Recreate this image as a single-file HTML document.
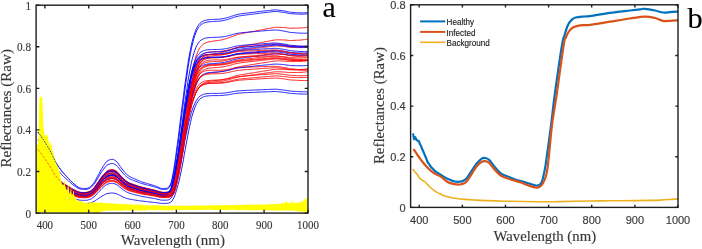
<!DOCTYPE html><html><head><meta charset="utf-8"><style>html,body{margin:0;padding:0;background:#fff;width:702px;height:249px;overflow:hidden}svg{display:block;will-change:transform}</style></head><body>
<svg width="702" height="249" viewBox="0 0 702 249">
<defs><clipPath id="ca"><rect x="36.1" y="5.2" width="271.9" height="207.9"/></clipPath>
<clipPath id="cb"><rect x="410.6" y="4.8" width="267.4" height="202.6"/></clipPath></defs>
<g clip-path="url(#ca)" fill="none" stroke-width="0.9" stroke-linejoin="round">
<path d="M37.9 149.6L38.7 150.6L39.6 151.7L40.5 152.7L41.4 153.8L42.2 155.0L43.1 156.2L44.0 157.4L44.9 158.7L45.7 160.0L46.6 161.3L47.5 162.6L48.4 164.0L49.3 165.3L50.1 166.7L51.0 168.2L51.9 169.6L52.8 171.2L53.6 172.7L54.5 174.1L55.4 175.4L56.3 176.7L57.2 177.8L58.0 178.8L58.9 179.7L59.8 180.6L60.7 181.4L61.5 182.1L62.4 182.8L63.3 183.4L64.2 184.0L65.0 184.6L65.9 185.1L66.8 185.6L67.7 186.1L68.6 186.7L69.4 187.2L70.3 187.8L71.2 188.3L72.1 188.8L72.9 189.3L73.8 189.8L74.7 190.2L75.6 190.6L76.4 191.0L77.3 191.4L78.2 191.8L79.1 192.1L80.0 192.3L80.8 192.4L81.7 192.5L82.6 192.5L83.5 192.5L84.3 192.5L85.2 192.5L86.1 192.4L87.0 192.3L87.8 192.1L88.7 191.8L89.6 191.4L90.5 191.0L91.4 190.4L92.2 189.7L93.1 188.9L94.0 187.9L94.9 186.8L95.7 185.6L96.6 184.3L97.5 183.0L98.4 181.7L99.3 180.5L100.1 179.2L101.0 177.9L101.9 176.7L102.8 175.6L103.6 174.6L104.5 173.6L105.4 172.6L106.3 171.8L107.1 171.1L108.0 170.6L108.9 170.3L109.8 170.1L110.7 169.9L111.5 169.7L112.4 169.7L113.3 169.8L114.2 170.1L115.0 170.6L115.9 171.1L116.8 171.6L117.7 172.4L118.5 173.3L119.4 174.4L120.3 175.4L121.2 176.3L122.1 177.2L122.9 178.1L123.8 178.9L124.7 179.8L125.6 180.5L126.4 181.2L127.3 181.8L128.2 182.3L129.1 182.8L129.9 183.2L130.8 183.6L131.7 183.9L132.6 184.2L133.5 184.5L134.3 184.8L135.2 185.1L136.1 185.4L137.0 185.7L137.8 186.0L138.7 186.3L139.6 186.6L140.5 186.8L141.4 187.1L142.2 187.3L143.1 187.6L144.0 187.8L144.9 188.0L145.7 188.2L146.6 188.4L147.5 188.6L148.4 188.8L149.2 189.0L150.1 189.2L151.0 189.4L151.9 189.6L152.8 189.8L153.6 190.0L154.5 190.2L155.4 190.4L156.3 190.7L157.1 190.9L158.0 191.3L158.9 191.6L159.8 191.8L160.6 192.0L161.5 192.2L162.4 192.3L163.3 192.4L164.2 192.4L165.0 192.4L165.9 192.4L166.8 192.3L167.7 192.2L168.5 192.1L169.4 192.0L170.3 191.8L171.2 191.3L172.0 190.5L172.9 189.2L173.8 187.3L174.7 184.3L175.6 180.6L176.4 176.6L177.3 171.7L178.2 166.7L179.1 161.7L179.9 156.4L180.8 151.0L181.7 145.5L182.6 139.7L183.5 133.8L184.3 127.9L185.2 122.0L186.1 116.2L187.0 110.5L187.8 105.0L188.7 99.6L189.6 94.5L190.5 89.6L191.3 85.0L192.2 80.7L193.1 76.9L194.0 73.3L194.9 70.2L195.7 67.3L196.6 64.8L197.5 62.5L198.4 60.6L199.2 58.9L200.1 57.5L201.0 56.4L201.9 55.4L202.7 54.7L203.6 54.0L204.5 53.5L205.4 53.1L206.3 52.7L207.1 52.5L208.0 52.3L208.9 52.1L209.8 52.0L210.6 51.9L211.5 51.8L212.4 51.7L213.3 51.7L214.2 51.6L215.0 51.6L215.9 51.6L216.8 51.5L217.7 51.5L218.5 51.4L219.4 51.4L220.3 51.3L221.2 51.3L222.0 51.2L222.9 51.0L223.8 50.9L224.7 50.7L225.6 50.5L226.4 50.4L227.3 50.2L228.2 50.0L229.1 49.8L229.9 49.5L230.8 49.3L231.7 49.0L232.6 48.8L233.4 48.5L234.3 48.3L235.2 48.0L236.1 47.8L237.0 47.7L237.8 47.5L238.7 47.4L239.6 47.2L240.5 47.1L241.3 47.0L242.2 46.9L243.1 46.8L244.0 46.7L244.8 46.6L245.7 46.5L246.6 46.4L247.5 46.3L248.4 46.3L249.2 46.2L250.1 46.1L251.0 46.0L251.9 45.9L252.7 45.9L253.6 45.8L254.5 45.7L255.4 45.6L256.3 45.5L257.1 45.4L258.0 45.3L258.9 45.3L259.8 45.2L260.6 45.1L261.5 45.0L262.4 44.9L263.3 44.9L264.1 44.8L265.0 44.7L265.9 44.6L266.8 44.5L267.7 44.5L268.5 44.4L269.4 44.3L270.3 44.2L271.2 44.1L272.0 44.0L272.9 44.0L273.8 43.9L274.7 43.9L275.5 43.9L276.4 43.9L277.3 43.9L278.2 44.0L279.1 44.1L279.9 44.2L280.8 44.3L281.7 44.4L282.6 44.5L283.4 44.6L284.3 44.7L285.2 44.9L286.1 45.0L286.9 45.2L287.8 45.4L288.7 45.6L289.6 45.7L290.5 45.9L291.3 45.9L292.2 45.9L293.1 46.0L294.0 46.0L294.8 46.1L295.7 46.2L296.6 46.2L297.5 46.3L298.4 46.3L299.2 46.3L300.1 46.4L301.0 46.4L301.9 46.4L302.7 46.4L303.6 46.4L304.5 46.4L305.4 46.3L306.2 46.3L307.1 46.2L308.0 46.2" stroke="#ff0000"/>
<path d="M37.9 162.8L38.7 163.6L39.6 164.4L40.5 165.2L41.4 166.1L42.2 167.0L43.1 167.9L44.0 168.9L44.9 169.9L45.7 170.9L46.6 171.9L47.5 173.0L48.4 174.1L49.3 175.1L50.1 176.2L51.0 177.3L51.9 178.5L52.8 179.7L53.6 180.9L54.5 182.0L55.4 183.0L56.3 184.0L57.2 184.9L58.0 185.7L58.9 186.4L59.8 187.1L60.7 187.7L61.5 188.3L62.4 188.9L63.3 189.3L64.2 189.8L65.0 190.2L65.9 190.7L66.8 191.1L67.7 191.5L68.6 191.9L69.4 192.3L70.3 192.7L71.2 193.2L72.1 193.6L72.9 194.0L73.8 194.3L74.7 194.7L75.6 195.0L76.4 195.3L77.3 195.6L78.2 195.9L79.1 196.1L80.0 196.3L80.8 196.4L81.7 196.4L82.6 196.5L83.5 196.5L84.3 196.5L85.2 196.5L86.1 196.4L87.0 196.3L87.8 196.2L88.7 195.9L89.6 195.6L90.5 195.3L91.4 194.8L92.2 194.3L93.1 193.6L94.0 192.9L94.9 192.0L95.7 191.1L96.6 190.0L97.5 189.0L98.4 188.0L99.3 187.0L100.1 186.0L101.0 185.0L101.9 184.1L102.8 183.2L103.6 182.4L104.5 181.6L105.4 180.9L106.3 180.2L107.1 179.6L108.0 179.2L108.9 179.0L109.8 178.8L110.7 178.7L111.5 178.6L112.4 178.5L113.3 178.6L114.2 178.9L115.0 179.2L115.9 179.6L116.8 180.1L117.7 180.7L118.5 181.4L119.4 182.2L120.3 183.0L121.2 183.8L122.1 184.4L122.9 185.1L123.8 185.8L124.7 186.5L125.6 187.1L126.4 187.6L127.3 188.1L128.2 188.5L129.1 188.9L129.9 189.2L130.8 189.5L131.7 189.7L132.6 189.9L133.5 190.2L134.3 190.4L135.2 190.7L136.1 190.9L137.0 191.1L137.8 191.4L138.7 191.6L139.6 191.8L140.5 192.0L141.4 192.2L142.2 192.4L143.1 192.6L144.0 192.7L144.9 192.9L145.7 193.1L146.6 193.2L147.5 193.4L148.4 193.5L149.2 193.7L150.1 193.9L151.0 194.0L151.9 194.2L152.8 194.3L153.6 194.5L154.5 194.7L155.4 194.8L156.3 195.0L157.1 195.2L158.0 195.5L158.9 195.7L159.8 195.9L160.6 196.1L161.5 196.2L162.4 196.3L163.3 196.4L164.2 196.4L165.0 196.4L165.9 196.3L166.8 196.3L167.7 196.2L168.5 196.2L169.4 196.1L170.3 196.0L171.2 195.6L172.0 195.1L172.9 194.0L173.8 192.7L174.7 190.5L175.6 187.6L176.4 184.4L177.3 180.4L178.2 176.2L179.1 171.9L179.9 167.3L180.8 162.4L181.7 157.3L182.6 151.9L183.5 146.2L184.3 140.3L185.2 134.3L186.1 128.3L187.0 122.3L187.8 116.4L188.7 110.6L189.6 104.9L190.5 99.5L191.3 94.3L192.2 89.5L193.1 85.1L194.0 81.2L194.9 77.6L195.7 74.4L196.6 71.5L197.5 69.0L198.4 66.8L199.2 64.9L200.1 63.4L201.0 62.1L201.9 61.0L202.7 60.2L203.6 59.5L204.5 58.9L205.4 58.5L206.3 58.1L207.1 57.9L208.0 57.7L208.9 57.5L209.8 57.4L210.6 57.4L211.5 57.3L212.4 57.3L213.3 57.3L214.2 57.3L215.0 57.3L215.9 57.3L216.8 57.3L217.7 57.3L218.5 57.3L219.4 57.3L220.3 57.3L221.2 57.3L222.0 57.2L222.9 57.1L223.8 57.0L224.7 56.9L225.6 56.8L226.4 56.7L227.3 56.5L228.2 56.4L229.1 56.2L229.9 56.0L230.8 55.9L231.7 55.7L232.6 55.5L233.4 55.3L234.3 55.1L235.2 54.9L236.1 54.7L237.0 54.6L237.8 54.5L238.7 54.4L239.6 54.4L240.5 54.3L241.3 54.2L242.2 54.2L243.1 54.1L244.0 54.1L244.8 54.0L245.7 54.0L246.6 53.9L247.5 53.9L248.4 53.9L249.2 53.8L250.1 53.8L251.0 53.8L251.9 53.8L252.7 53.7L253.6 53.7L254.5 53.7L255.4 53.6L256.3 53.6L257.1 53.6L258.0 53.5L258.9 53.5L259.8 53.5L260.6 53.4L261.5 53.4L262.4 53.4L263.3 53.3L264.1 53.3L265.0 53.3L265.9 53.3L266.8 53.2L267.7 53.2L268.5 53.2L269.4 53.2L270.3 53.1L271.2 53.1L272.0 53.0L272.9 53.0L273.8 53.0L274.7 53.0L275.5 53.1L276.4 53.1L277.3 53.2L278.2 53.3L279.1 53.5L279.9 53.6L280.8 53.8L281.7 53.9L282.6 54.1L283.4 54.2L284.3 54.4L285.2 54.5L286.1 54.7L286.9 55.0L287.8 55.2L288.7 55.4L289.6 55.6L290.5 55.7L291.3 55.9L292.2 55.9L293.1 56.0L294.0 56.1L294.8 56.2L295.7 56.3L296.6 56.4L297.5 56.5L298.4 56.6L299.2 56.7L300.1 56.7L301.0 56.8L301.9 56.9L302.7 56.9L303.6 56.9L304.5 57.0L305.4 57.0L306.2 57.0L307.1 57.0L308.0 57.0" stroke="#ff0000"/>
<path d="M37.9 151.2L38.7 152.2L39.6 153.2L40.5 154.3L41.4 155.3L42.2 156.5L43.1 157.6L44.0 158.8L44.9 160.0L45.7 161.3L46.6 162.6L47.5 163.9L48.4 165.2L49.3 166.5L50.1 167.9L51.0 169.3L51.9 170.7L52.8 172.2L53.6 173.7L54.5 175.1L55.4 176.3L56.3 177.6L57.2 178.6L58.0 179.6L58.9 180.5L59.8 181.4L60.7 182.2L61.5 182.9L62.4 183.6L63.3 184.2L64.2 184.7L65.0 185.3L65.9 185.8L66.8 186.3L67.7 186.8L68.6 187.3L69.4 187.8L70.3 188.4L71.2 188.9L72.1 189.4L72.9 189.9L73.8 190.3L74.7 190.7L75.6 191.2L76.4 191.6L77.3 192.0L78.2 192.3L79.1 192.6L80.0 192.8L80.8 192.9L81.7 192.9L82.6 193.0L83.5 193.0L84.3 193.0L85.2 193.0L86.1 192.9L87.0 192.8L87.8 192.6L88.7 192.3L89.6 192.0L90.5 191.5L91.4 191.0L92.2 190.3L93.1 189.4L94.0 188.5L94.9 187.5L95.7 186.3L96.6 185.0L97.5 183.7L98.4 182.5L99.3 181.3L100.1 180.0L101.0 178.8L101.9 177.6L102.8 176.5L103.6 175.6L104.5 174.6L105.4 173.6L106.3 172.8L107.1 172.1L108.0 171.6L108.9 171.4L109.8 171.1L110.7 171.0L111.5 170.8L112.4 170.8L113.3 170.9L114.2 171.2L115.0 171.6L115.9 172.1L116.8 172.6L117.7 173.4L118.5 174.3L119.4 175.3L120.3 176.3L121.2 177.2L122.1 178.1L122.9 178.9L123.8 179.8L124.7 180.6L125.6 181.3L126.4 182.0L127.3 182.6L128.2 183.1L129.1 183.6L129.9 183.9L130.8 184.3L131.7 184.6L132.6 184.9L133.5 185.2L134.3 185.5L135.2 185.8L136.1 186.1L137.0 186.4L137.8 186.7L138.7 186.9L139.6 187.2L140.5 187.5L141.4 187.7L142.2 188.0L143.1 188.2L144.0 188.4L144.9 188.6L145.7 188.8L146.6 189.0L147.5 189.2L148.4 189.4L149.2 189.6L150.1 189.8L151.0 190.0L151.9 190.2L152.8 190.4L153.6 190.6L154.5 190.8L155.4 191.0L156.3 191.2L157.1 191.5L158.0 191.8L158.9 192.1L159.8 192.3L160.6 192.5L161.5 192.7L162.4 192.8L163.3 192.9L164.2 192.9L165.0 192.9L165.9 192.8L166.8 192.8L167.7 192.7L168.5 192.6L169.4 192.5L170.3 192.1L171.2 191.4L172.0 190.5L172.9 189.1L173.8 186.7L174.7 183.3L175.6 179.7L176.4 175.4L177.3 170.7L178.2 165.9L179.1 161.1L179.9 156.1L180.8 151.0L181.7 145.8L182.6 140.4L183.5 135.0L184.3 129.6L185.2 124.4L186.1 119.3L187.0 114.3L187.8 109.5L188.7 104.8L189.6 100.4L190.5 96.2L191.3 92.3L192.2 88.7L193.1 85.5L194.0 82.5L194.9 79.9L195.7 77.5L196.6 75.4L197.5 73.6L198.4 72.0L199.2 70.6L200.1 69.5L201.0 68.6L201.9 67.9L202.7 67.2L203.6 66.7L204.5 66.3L205.4 66.0L206.3 65.7L207.1 65.5L208.0 65.3L208.9 65.2L209.8 65.1L210.6 65.0L211.5 65.0L212.4 64.9L213.3 64.9L214.2 64.8L215.0 64.8L215.9 64.8L216.8 64.7L217.7 64.7L218.5 64.6L219.4 64.6L220.3 64.5L221.2 64.5L222.0 64.4L222.9 64.3L223.8 64.1L224.7 64.0L225.6 63.8L226.4 63.6L227.3 63.5L228.2 63.3L229.1 63.1L229.9 62.9L230.8 62.6L231.7 62.4L232.6 62.2L233.4 61.9L234.3 61.7L235.2 61.5L236.1 61.3L237.0 61.1L237.8 61.0L238.7 60.9L239.6 60.8L240.5 60.6L241.3 60.5L242.2 60.4L243.1 60.3L244.0 60.2L244.8 60.2L245.7 60.1L246.6 60.0L247.5 59.9L248.4 59.8L249.2 59.8L250.1 59.7L251.0 59.6L251.9 59.5L252.7 59.5L253.6 59.4L254.5 59.3L255.4 59.2L256.3 59.1L257.1 59.1L258.0 59.0L258.9 58.9L259.8 58.8L260.6 58.8L261.5 58.7L262.4 58.6L263.3 58.5L264.1 58.5L265.0 58.4L265.9 58.3L266.8 58.2L267.7 58.2L268.5 58.1L269.4 58.0L270.3 57.9L271.2 57.8L272.0 57.8L272.9 57.7L273.8 57.7L274.7 57.6L275.5 57.6L276.4 57.6L277.3 57.7L278.2 57.7L279.1 57.8L279.9 57.9L280.8 58.0L281.7 58.1L282.6 58.2L283.4 58.3L284.3 58.4L285.2 58.5L286.1 58.7L286.9 58.8L287.8 59.0L288.7 59.2L289.6 59.3L290.5 59.4L291.3 59.5L292.2 59.5L293.1 59.5L294.0 59.6L294.8 59.6L295.7 59.7L296.6 59.7L297.5 59.8L298.4 59.8L299.2 59.8L300.1 59.9L301.0 59.9L301.9 59.9L302.7 59.9L303.6 59.9L304.5 59.8L305.4 59.8L306.2 59.8L307.1 59.7L308.0 59.7" stroke="#ff0000"/>
<path d="M37.9 152.0L38.7 152.9L39.6 153.9L40.5 155.0L41.4 156.0L42.2 157.1L43.1 158.2L44.0 159.4L44.9 160.7L45.7 161.9L46.6 163.2L47.5 164.5L48.4 165.8L49.3 167.1L50.1 168.4L51.0 169.8L51.9 171.2L52.8 172.7L53.6 174.2L54.5 175.5L55.4 176.8L56.3 178.0L57.2 179.0L58.0 180.0L58.9 180.9L59.8 181.7L60.7 182.5L61.5 183.2L62.4 183.9L63.3 184.5L64.2 185.0L65.0 185.6L65.9 186.1L66.8 186.6L67.7 187.1L68.6 187.6L69.4 188.1L70.3 188.6L71.2 189.2L72.1 189.7L72.9 190.1L73.8 190.6L74.7 191.0L75.6 191.4L76.4 191.8L77.3 192.2L78.2 192.5L79.1 192.8L80.0 193.0L80.8 193.1L81.7 193.2L82.6 193.2L83.5 193.2L84.3 193.2L85.2 193.2L86.1 193.1L87.0 193.1L87.8 192.9L88.7 192.6L89.6 192.2L90.5 191.8L91.4 191.2L92.2 190.5L93.1 189.7L94.0 188.8L94.9 187.8L95.7 186.6L96.6 185.3L97.5 184.1L98.4 182.8L99.3 181.7L100.1 180.4L101.0 179.2L101.9 178.0L102.8 177.0L103.6 176.0L104.5 175.0L105.4 174.1L106.3 173.3L107.1 172.6L108.0 172.1L108.9 171.8L109.8 171.6L110.7 171.4L111.5 171.3L112.4 171.3L113.3 171.4L114.2 171.7L115.0 172.1L115.9 172.6L116.8 173.1L117.7 173.9L118.5 174.8L119.4 175.7L120.3 176.7L121.2 177.6L122.1 178.5L122.9 179.3L123.8 180.2L124.7 181.0L125.6 181.7L126.4 182.3L127.3 182.9L128.2 183.4L129.1 183.9L129.9 184.3L130.8 184.6L131.7 184.9L132.6 185.2L133.5 185.5L134.3 185.8L135.2 186.1L136.1 186.4L137.0 186.7L137.8 187.0L138.7 187.2L139.6 187.5L140.5 187.8L141.4 188.0L142.2 188.2L143.1 188.4L144.0 188.7L144.9 188.8L145.7 189.0L146.6 189.2L147.5 189.4L148.4 189.6L149.2 189.8L150.1 190.0L151.0 190.2L151.9 190.4L152.8 190.6L153.6 190.8L154.5 191.0L155.4 191.2L156.3 191.4L157.1 191.7L158.0 192.0L158.9 192.3L159.8 192.6L160.6 192.8L161.5 192.9L162.4 193.1L163.3 193.1L164.2 193.1L165.0 193.1L165.9 193.1L166.8 193.0L167.7 192.9L168.5 192.8L169.4 192.5L170.3 191.9L171.2 191.1L172.0 190.0L172.9 188.1L173.8 185.1L174.7 181.6L175.6 177.9L176.4 173.4L177.3 168.9L178.2 164.3L179.1 159.7L179.9 155.1L180.8 150.4L181.7 145.6L182.6 140.8L183.5 136.0L184.3 131.5L185.2 127.1L186.1 122.8L187.0 118.7L187.8 114.7L188.7 111.0L189.6 107.4L190.5 104.1L191.3 101.1L192.2 98.3L193.1 95.8L194.0 93.5L194.9 91.5L195.7 89.7L196.6 88.0L197.5 86.6L198.4 85.4L199.2 84.4L200.1 83.6L201.0 82.9L201.9 82.4L202.7 81.9L203.6 81.6L204.5 81.3L205.4 81.0L206.3 80.8L207.1 80.7L208.0 80.6L208.9 80.5L209.8 80.4L210.6 80.3L211.5 80.3L212.4 80.2L213.3 80.2L214.2 80.2L215.0 80.1L215.9 80.1L216.8 80.1L217.7 80.1L218.5 80.0L219.4 80.0L220.3 79.9L221.2 79.9L222.0 79.8L222.9 79.7L223.8 79.5L224.7 79.4L225.6 79.3L226.4 79.1L227.3 79.0L228.2 78.8L229.1 78.6L229.9 78.4L230.8 78.2L231.7 78.0L232.6 77.8L233.4 77.6L234.3 77.4L235.2 77.2L236.1 77.0L237.0 76.9L237.8 76.8L238.7 76.6L239.6 76.5L240.5 76.4L241.3 76.3L242.2 76.3L243.1 76.2L244.0 76.1L244.8 76.0L245.7 75.9L246.6 75.9L247.5 75.8L248.4 75.7L249.2 75.6L250.1 75.6L251.0 75.5L251.9 75.4L252.7 75.4L253.6 75.3L254.5 75.2L255.4 75.2L256.3 75.1L257.1 75.0L258.0 75.0L258.9 74.9L259.8 74.8L260.6 74.7L261.5 74.7L262.4 74.6L263.3 74.5L264.1 74.5L265.0 74.4L265.9 74.3L266.8 74.3L267.7 74.2L268.5 74.1L269.4 74.1L270.3 74.0L271.2 73.9L272.0 73.8L272.9 73.8L273.8 73.8L274.7 73.7L275.5 73.7L276.4 73.7L277.3 73.8L278.2 73.8L279.1 73.9L279.9 74.0L280.8 74.1L281.7 74.2L282.6 74.2L283.4 74.3L284.3 74.4L285.2 74.5L286.1 74.7L286.9 74.8L287.8 75.0L288.7 75.1L289.6 75.2L290.5 75.3L291.3 75.4L292.2 75.4L293.1 75.4L294.0 75.5L294.8 75.5L295.7 75.6L296.6 75.6L297.5 75.6L298.4 75.7L299.2 75.7L300.1 75.7L301.0 75.7L301.9 75.8L302.7 75.8L303.6 75.7L304.5 75.7L305.4 75.7L306.2 75.6L307.1 75.6L308.0 75.6" stroke="#ff0000"/>
<path d="M37.9 165.3L38.7 166.0L39.6 166.8L40.5 167.6L41.4 168.4L42.2 169.3L43.1 170.2L44.0 171.1L44.9 172.0L45.7 173.0L46.6 174.0L47.5 175.0L48.4 176.0L49.3 177.0L50.1 178.0L51.0 179.1L51.9 180.2L52.8 181.4L53.6 182.5L54.5 183.5L55.4 184.5L56.3 185.4L57.2 186.3L58.0 187.0L58.9 187.7L59.8 188.3L60.7 188.9L61.5 189.5L62.4 190.0L63.3 190.5L64.2 190.9L65.0 191.3L65.9 191.7L66.8 192.1L67.7 192.5L68.6 192.9L69.4 193.3L70.3 193.7L71.2 194.1L72.1 194.5L72.9 194.8L73.8 195.2L74.7 195.5L75.6 195.8L76.4 196.1L77.3 196.4L78.2 196.7L79.1 196.9L80.0 197.1L80.8 197.1L81.7 197.2L82.6 197.2L83.5 197.2L84.3 197.2L85.2 197.2L86.1 197.2L87.0 197.1L87.8 197.0L88.7 196.7L89.6 196.4L90.5 196.1L91.4 195.7L92.2 195.1L93.1 194.5L94.0 193.8L94.9 193.0L95.7 192.1L96.6 191.1L97.5 190.1L98.4 189.2L99.3 188.3L100.1 187.3L101.0 186.4L101.9 185.5L102.8 184.6L103.6 183.9L104.5 183.2L105.4 182.4L106.3 181.8L107.1 181.3L108.0 180.9L108.9 180.7L109.8 180.5L110.7 180.4L111.5 180.3L112.4 180.2L113.3 180.3L114.2 180.6L115.0 180.9L115.9 181.3L116.8 181.7L117.7 182.2L118.5 182.9L119.4 183.7L120.3 184.5L121.2 185.2L122.1 185.8L122.9 186.5L123.8 187.1L124.7 187.7L125.6 188.3L126.4 188.8L127.3 189.3L128.2 189.7L129.1 190.0L129.9 190.3L130.8 190.6L131.7 190.8L132.6 191.0L133.5 191.3L134.3 191.5L135.2 191.7L136.1 191.9L137.0 192.2L137.8 192.4L138.7 192.6L139.6 192.8L140.5 193.0L141.4 193.2L142.2 193.4L143.1 193.5L144.0 193.7L144.9 193.9L145.7 194.0L146.6 194.2L147.5 194.3L148.4 194.5L149.2 194.6L150.1 194.8L151.0 194.9L151.9 195.1L152.8 195.2L153.6 195.4L154.5 195.5L155.4 195.7L156.3 195.9L157.1 196.1L158.0 196.3L158.9 196.5L159.8 196.7L160.6 196.8L161.5 197.0L162.4 197.1L163.3 197.1L164.2 197.1L165.0 197.1L165.9 197.1L166.8 197.1L167.7 197.0L168.5 196.9L169.4 196.8L170.3 196.7L171.2 196.3L172.0 195.7L172.9 194.6L173.8 193.2L174.7 190.9L175.6 188.0L176.4 184.9L177.3 181.0L178.2 177.0L179.1 172.8L179.9 168.3L180.8 163.7L181.7 158.7L182.6 153.6L183.5 148.1L184.3 142.5L185.2 136.9L186.1 131.2L187.0 125.6L187.8 120.1L188.7 114.6L189.6 109.4L190.5 104.3L191.3 99.6L192.2 95.2L193.1 91.2L194.0 87.6L194.9 84.3L195.7 81.4L196.6 78.8L197.5 76.5L198.4 74.5L199.2 72.8L200.1 71.4L201.0 70.2L201.9 69.2L202.7 68.5L203.6 67.8L204.5 67.3L205.4 66.8L206.3 66.5L207.1 66.2L208.0 66.0L208.9 65.8L209.8 65.7L210.6 65.6L211.5 65.5L212.4 65.5L213.3 65.4L214.2 65.4L215.0 65.3L215.9 65.3L216.8 65.3L217.7 65.2L218.5 65.2L219.4 65.2L220.3 65.1L221.2 65.0L222.0 64.9L222.9 64.8L223.8 64.7L224.7 64.5L225.6 64.4L226.4 64.2L227.3 64.1L228.2 63.9L229.1 63.7L229.9 63.5L230.8 63.2L231.7 63.0L232.6 62.8L233.4 62.5L234.3 62.3L235.2 62.1L236.1 61.9L237.0 61.8L237.8 61.6L238.7 61.5L239.6 61.4L240.5 61.3L241.3 61.2L242.2 61.1L243.1 61.0L244.0 60.9L244.8 60.8L245.7 60.7L246.6 60.7L247.5 60.6L248.4 60.5L249.2 60.4L250.1 60.4L251.0 60.3L251.9 60.2L252.7 60.1L253.6 60.1L254.5 60.0L255.4 59.9L256.3 59.8L257.1 59.8L258.0 59.7L258.9 59.6L259.8 59.5L260.6 59.5L261.5 59.4L262.4 59.3L263.3 59.3L264.1 59.2L265.0 59.1L265.9 59.0L266.8 59.0L267.7 58.9L268.5 58.8L269.4 58.8L270.3 58.7L271.2 58.6L272.0 58.5L272.9 58.5L273.8 58.4L274.7 58.4L275.5 58.4L276.4 58.4L277.3 58.4L278.2 58.5L279.1 58.6L279.9 58.7L280.8 58.8L281.7 58.9L282.6 59.0L283.4 59.1L284.3 59.2L285.2 59.3L286.1 59.5L286.9 59.6L287.8 59.8L288.7 60.0L289.6 60.1L290.5 60.2L291.3 60.3L292.2 60.3L293.1 60.3L294.0 60.4L294.8 60.5L295.7 60.5L296.6 60.6L297.5 60.6L298.4 60.6L299.2 60.7L300.1 60.7L301.0 60.7L301.9 60.7L302.7 60.7L303.6 60.7L304.5 60.7L305.4 60.7L306.2 60.6L307.1 60.6L308.0 60.5" stroke="#ff0000"/>
<path d="M37.9 160.8L38.7 161.6L39.6 162.5L40.5 163.3L41.4 164.2L42.2 165.2L43.1 166.1L44.0 167.1L44.9 168.2L45.7 169.3L46.6 170.3L47.5 171.4L48.4 172.5L49.3 173.7L50.1 174.8L51.0 176.0L51.9 177.2L52.8 178.4L53.6 179.7L54.5 180.8L55.4 181.9L56.3 182.9L57.2 183.8L58.0 184.6L58.9 185.4L59.8 186.1L60.7 186.8L61.5 187.4L62.4 187.9L63.3 188.5L64.2 188.9L65.0 189.4L65.9 189.8L66.8 190.2L67.7 190.7L68.6 191.1L69.4 191.6L70.3 192.0L71.2 192.4L72.1 192.9L72.9 193.3L73.8 193.6L74.7 194.0L75.6 194.3L76.4 194.7L77.3 195.0L78.2 195.3L79.1 195.5L80.0 195.7L80.8 195.8L81.7 195.8L82.6 195.9L83.5 195.9L84.3 195.9L85.2 195.9L86.1 195.8L87.0 195.7L87.8 195.6L88.7 195.3L89.6 195.0L90.5 194.6L91.4 194.2L92.2 193.6L93.1 192.9L94.0 192.1L94.9 191.2L95.7 190.2L96.6 189.2L97.5 188.1L98.4 187.1L99.3 186.0L100.1 185.0L101.0 184.0L101.9 183.0L102.8 182.0L103.6 181.2L104.5 180.4L105.4 179.6L106.3 178.9L107.1 178.3L108.0 177.9L108.9 177.7L109.8 177.5L110.7 177.4L111.5 177.3L112.4 177.2L113.3 177.3L114.2 177.6L115.0 177.9L115.9 178.3L116.8 178.8L117.7 179.4L118.5 180.2L119.4 181.0L120.3 181.9L121.2 182.6L122.1 183.3L122.9 184.1L123.8 184.8L124.7 185.4L125.6 186.1L126.4 186.6L127.3 187.1L128.2 187.6L129.1 188.0L129.9 188.3L130.8 188.6L131.7 188.8L132.6 189.1L133.5 189.3L134.3 189.6L135.2 189.8L136.1 190.1L137.0 190.3L137.8 190.6L138.7 190.8L139.6 191.0L140.5 191.2L141.4 191.4L142.2 191.6L143.1 191.8L144.0 192.0L144.9 192.2L145.7 192.3L146.6 192.5L147.5 192.7L148.4 192.8L149.2 193.0L150.1 193.2L151.0 193.3L151.9 193.5L152.8 193.7L153.6 193.8L154.5 194.0L155.4 194.2L156.3 194.4L157.1 194.6L158.0 194.9L158.9 195.1L159.8 195.3L160.6 195.5L161.5 195.6L162.4 195.7L163.3 195.8L164.2 195.8L165.0 195.8L165.9 195.7L166.8 195.7L167.7 195.6L168.5 195.5L169.4 195.4L170.3 195.1L171.2 194.5L172.0 193.7L172.9 192.5L173.8 190.4L174.7 187.6L175.6 184.4L176.4 180.8L177.3 176.7L178.2 172.6L179.1 168.3L179.9 163.9L180.8 159.4L181.7 154.8L182.6 150.0L183.5 145.2L184.3 140.4L185.2 135.7L186.1 131.1L187.0 126.6L187.8 122.2L188.7 118.0L189.6 114.0L190.5 110.2L191.3 106.7L192.2 103.5L193.1 100.6L194.0 97.9L194.9 95.5L195.7 93.4L196.6 91.4L197.5 89.7L198.4 88.2L199.2 87.0L200.1 85.9L201.0 85.1L201.9 84.3L202.7 83.7L203.6 83.2L204.5 82.8L205.4 82.4L206.3 82.1L207.1 81.8L208.0 81.6L208.9 81.4L209.8 81.3L210.6 81.1L211.5 81.0L212.4 80.9L213.3 80.8L214.2 80.7L215.0 80.6L215.9 80.5L216.8 80.4L217.7 80.3L218.5 80.2L219.4 80.1L220.3 80.0L221.2 79.8L222.0 79.7L222.9 79.5L223.8 79.3L224.7 79.1L225.6 78.9L226.4 78.7L227.3 78.5L228.2 78.3L229.1 78.0L229.9 77.7L230.8 77.5L231.7 77.2L232.6 76.9L233.4 76.6L234.3 76.3L235.2 76.1L236.1 75.8L237.0 75.6L237.8 75.4L238.7 75.2L239.6 75.1L240.5 74.9L241.3 74.7L242.2 74.6L243.1 74.4L244.0 74.3L244.8 74.1L245.7 74.0L246.6 73.8L247.5 73.7L248.4 73.6L249.2 73.4L250.1 73.3L251.0 73.1L251.9 73.0L252.7 72.9L253.6 72.7L254.5 72.6L255.4 72.4L256.3 72.3L257.1 72.2L258.0 72.0L258.9 71.9L259.8 71.7L260.6 71.6L261.5 71.4L262.4 71.3L263.3 71.2L264.1 71.0L265.0 70.9L265.9 70.8L266.8 70.6L267.7 70.5L268.5 70.4L269.4 70.2L270.3 70.1L271.2 69.9L272.0 69.8L272.9 69.6L273.8 69.5L274.7 69.4L275.5 69.3L276.4 69.3L277.3 69.3L278.2 69.2L279.1 69.2L279.9 69.3L280.8 69.3L281.7 69.3L282.6 69.3L283.4 69.4L284.3 69.4L285.2 69.4L286.1 69.5L286.9 69.6L287.8 69.7L288.7 69.7L289.6 69.8L290.5 69.8L291.3 69.8L292.2 69.7L293.1 69.7L294.0 69.7L294.8 69.7L295.7 69.7L296.6 69.6L297.5 69.6L298.4 69.6L299.2 69.5L300.1 69.5L301.0 69.4L301.9 69.4L302.7 69.3L303.6 69.2L304.5 69.1L305.4 69.0L306.2 68.9L307.1 68.8L308.0 68.7" stroke="#ff0000"/>
<path d="M37.9 160.1L38.7 161.0L39.6 161.8L40.5 162.7L41.4 163.6L42.2 164.6L43.1 165.6L44.0 166.6L44.9 167.6L45.7 168.7L46.6 169.8L47.5 170.9L48.4 172.0L49.3 173.2L50.1 174.3L51.0 175.5L51.9 176.7L52.8 178.0L53.6 179.3L54.5 180.4L55.4 181.5L56.3 182.5L57.2 183.5L58.0 184.3L58.9 185.1L59.8 185.8L60.7 186.5L61.5 187.1L62.4 187.6L63.3 188.2L64.2 188.6L65.0 189.1L65.9 189.5L66.8 190.0L67.7 190.4L68.6 190.8L69.4 191.3L70.3 191.7L71.2 192.2L72.1 192.6L72.9 193.0L73.8 193.4L74.7 193.8L75.6 194.1L76.4 194.5L77.3 194.8L78.2 195.1L79.1 195.3L80.0 195.5L80.8 195.6L81.7 195.6L82.6 195.7L83.5 195.7L84.3 195.7L85.2 195.7L86.1 195.6L87.0 195.5L87.8 195.4L88.7 195.1L89.6 194.8L90.5 194.4L91.4 194.0L92.2 193.3L93.1 192.6L94.0 191.9L94.9 191.0L95.7 190.0L96.6 188.9L97.5 187.8L98.4 186.7L99.3 185.7L100.1 184.7L101.0 183.6L101.9 182.6L102.8 181.7L103.6 180.8L104.5 180.0L105.4 179.2L106.3 178.5L107.1 177.9L108.0 177.5L108.9 177.3L109.8 177.1L110.7 176.9L111.5 176.8L112.4 176.8L113.3 176.9L114.2 177.1L115.0 177.5L115.9 177.9L116.8 178.4L117.7 179.0L118.5 179.8L119.4 180.6L120.3 181.5L121.2 182.3L122.1 183.0L122.9 183.7L123.8 184.4L124.7 185.1L125.6 185.7L126.4 186.3L127.3 186.8L128.2 187.3L129.1 187.6L129.9 188.0L130.8 188.3L131.7 188.5L132.6 188.8L133.5 189.0L134.3 189.3L135.2 189.5L136.1 189.8L137.0 190.0L137.8 190.3L138.7 190.5L139.6 190.8L140.5 191.0L141.4 191.2L142.2 191.4L143.1 191.6L144.0 191.7L144.9 191.9L145.7 192.1L146.6 192.3L147.5 192.4L148.4 192.6L149.2 192.8L150.1 192.9L151.0 193.1L151.9 193.3L152.8 193.4L153.6 193.6L154.5 193.8L155.4 194.0L156.3 194.2L157.1 194.4L158.0 194.6L158.9 194.9L159.8 195.1L160.6 195.3L161.5 195.4L162.4 195.5L163.3 195.6L164.2 195.6L165.0 195.6L165.9 195.5L166.8 195.5L167.7 195.4L168.5 195.3L169.4 195.1L170.3 194.6L171.2 193.8L172.0 192.9L172.9 191.2L173.8 188.7L174.7 185.6L175.6 182.3L176.4 178.3L177.3 174.2L178.2 170.0L179.1 165.8L179.9 161.4L180.8 156.9L181.7 152.3L182.6 147.5L183.5 142.7L184.3 138.1L185.2 133.5L186.1 129.1L187.0 124.7L187.8 120.5L188.7 116.5L189.6 112.7L190.5 109.1L191.3 105.8L192.2 102.8L193.1 100.0L194.0 97.6L194.9 95.4L195.7 93.4L196.6 91.6L197.5 90.1L198.4 88.8L199.2 87.7L200.1 86.9L201.0 86.1L201.9 85.5L202.7 85.0L203.6 84.6L204.5 84.3L205.4 84.0L206.3 83.8L207.1 83.6L208.0 83.5L208.9 83.4L209.8 83.3L210.6 83.2L211.5 83.2L212.4 83.1L213.3 83.0L214.2 83.0L215.0 83.0L215.9 82.9L216.8 82.9L217.7 82.8L218.5 82.8L219.4 82.8L220.3 82.7L221.2 82.6L222.0 82.5L222.9 82.4L223.8 82.3L224.7 82.1L225.6 82.0L226.4 81.8L227.3 81.7L228.2 81.5L229.1 81.3L229.9 81.1L230.8 80.9L231.7 80.7L232.6 80.5L233.4 80.3L234.3 80.0L235.2 79.8L236.1 79.7L237.0 79.5L237.8 79.4L238.7 79.2L239.6 79.1L240.5 79.0L241.3 78.9L242.2 78.8L243.1 78.7L244.0 78.6L244.8 78.6L245.7 78.5L246.6 78.4L247.5 78.3L248.4 78.2L249.2 78.1L250.1 78.1L251.0 78.0L251.9 77.9L252.7 77.8L253.6 77.8L254.5 77.7L255.4 77.6L256.3 77.5L257.1 77.4L258.0 77.4L258.9 77.3L259.8 77.2L260.6 77.1L261.5 77.0L262.4 77.0L263.3 76.9L264.1 76.8L265.0 76.7L265.9 76.7L266.8 76.6L267.7 76.5L268.5 76.4L269.4 76.4L270.3 76.3L271.2 76.2L272.0 76.1L272.9 76.0L273.8 76.0L274.7 75.9L275.5 75.9L276.4 75.9L277.3 75.9L278.2 76.0L279.1 76.1L279.9 76.1L280.8 76.2L281.7 76.3L282.6 76.4L283.4 76.4L284.3 76.5L285.2 76.6L286.1 76.7L286.9 76.9L287.8 77.0L288.7 77.1L289.6 77.3L290.5 77.3L291.3 77.4L292.2 77.4L293.1 77.4L294.0 77.4L294.8 77.5L295.7 77.5L296.6 77.5L297.5 77.6L298.4 77.6L299.2 77.6L300.1 77.6L301.0 77.6L301.9 77.6L302.7 77.6L303.6 77.6L304.5 77.5L305.4 77.5L306.2 77.5L307.1 77.4L308.0 77.3" stroke="#ff0000"/>
<path d="M37.9 149.5L38.7 150.5L39.6 151.6L40.5 152.6L41.4 153.8L42.2 154.9L43.1 156.1L44.0 157.3L44.9 158.6L45.7 159.9L46.6 161.2L47.5 162.5L48.4 163.9L49.3 165.3L50.1 166.7L51.0 168.1L51.9 169.6L52.8 171.1L53.6 172.7L54.5 174.0L55.4 175.4L56.3 176.6L57.2 177.7L58.0 178.7L58.9 179.7L59.8 180.5L60.7 181.3L61.5 182.1L62.4 182.8L63.3 183.4L64.2 184.0L65.0 184.5L65.9 185.1L66.8 185.6L67.7 186.1L68.6 186.6L69.4 187.2L70.3 187.7L71.2 188.3L72.1 188.8L72.9 189.3L73.8 189.7L74.7 190.2L75.6 190.6L76.4 191.0L77.3 191.4L78.2 191.8L79.1 192.0L80.0 192.3L80.8 192.4L81.7 192.4L82.6 192.5L83.5 192.5L84.3 192.5L85.2 192.5L86.1 192.4L87.0 192.3L87.8 192.1L88.7 191.8L89.6 191.4L90.5 191.0L91.4 190.4L92.2 189.7L93.1 188.8L94.0 187.9L94.9 186.8L95.7 185.6L96.6 184.3L97.5 183.0L98.4 181.7L99.3 180.4L100.1 179.2L101.0 177.9L101.9 176.7L102.8 175.5L103.6 174.5L104.5 173.6L105.4 172.6L106.3 171.7L107.1 171.0L108.0 170.5L108.9 170.2L109.8 170.0L110.7 169.8L111.5 169.7L112.4 169.6L113.3 169.7L114.2 170.1L115.0 170.5L115.9 171.0L116.8 171.5L117.7 172.3L118.5 173.3L119.4 174.3L120.3 175.3L121.2 176.3L122.1 177.1L122.9 178.0L123.8 178.9L124.7 179.7L125.6 180.5L126.4 181.1L127.3 181.8L128.2 182.3L129.1 182.8L129.9 183.2L130.8 183.5L131.7 183.9L132.6 184.2L133.5 184.5L134.3 184.8L135.2 185.1L136.1 185.4L137.0 185.7L137.8 186.0L138.7 186.3L139.6 186.5L140.5 186.8L141.4 187.1L142.2 187.3L143.1 187.5L144.0 187.7L144.9 187.9L145.7 188.1L146.6 188.3L147.5 188.5L148.4 188.7L149.2 189.0L150.1 189.2L151.0 189.4L151.9 189.6L152.8 189.8L153.6 190.0L154.5 190.2L155.4 190.4L156.3 190.6L157.1 190.9L158.0 191.2L158.9 191.5L159.8 191.8L160.6 192.0L161.5 192.2L162.4 192.3L163.3 192.4L164.2 192.4L165.0 192.3L165.9 192.3L166.8 192.2L167.7 192.1L168.5 192.0L169.4 191.8L170.3 191.3L171.2 190.5L172.0 189.4L172.9 187.7L173.8 184.8L174.7 181.2L175.6 177.2L176.4 172.4L177.3 167.3L178.2 162.0L179.1 156.6L179.9 150.9L180.8 145.1L181.7 139.0L182.6 132.7L183.5 126.3L184.3 119.9L185.2 113.7L186.1 107.5L187.0 101.5L187.8 95.7L188.7 90.0L189.6 84.6L190.5 79.6L191.3 74.9L192.2 70.6L193.1 66.7L194.0 63.2L194.9 60.0L195.7 57.1L196.6 54.6L197.5 52.4L198.4 50.4L199.2 48.8L200.1 47.5L201.0 46.4L201.9 45.4L202.7 44.7L203.6 44.0L204.5 43.5L205.4 43.0L206.3 42.6L207.1 42.3L208.0 42.1L208.9 41.8L209.8 41.7L210.6 41.5L211.5 41.4L212.4 41.2L213.3 41.1L214.2 41.0L215.0 40.9L215.9 40.7L216.8 40.6L217.7 40.5L218.5 40.4L219.4 40.3L220.3 40.1L221.2 40.0L222.0 39.8L222.9 39.6L223.8 39.3L224.7 39.1L225.6 38.8L226.4 38.6L227.3 38.3L228.2 38.0L229.1 37.7L229.9 37.4L230.8 37.1L231.7 36.7L232.6 36.4L233.4 36.0L234.3 35.7L235.2 35.4L236.1 35.1L237.0 34.8L237.8 34.5L238.7 34.3L239.6 34.1L240.5 33.9L241.3 33.7L242.2 33.5L243.1 33.3L244.0 33.2L244.8 33.0L245.7 32.8L246.6 32.6L247.5 32.5L248.4 32.3L249.2 32.1L250.1 32.0L251.0 31.8L251.9 31.7L252.7 31.5L253.6 31.3L254.5 31.2L255.4 31.0L256.3 30.8L257.1 30.7L258.0 30.5L258.9 30.3L259.8 30.1L260.6 30.0L261.5 29.8L262.4 29.7L263.3 29.5L264.1 29.3L265.0 29.2L265.9 29.0L266.8 28.8L267.7 28.7L268.5 28.5L269.4 28.4L270.3 28.2L271.2 28.0L272.0 27.8L272.9 27.7L273.8 27.6L274.7 27.4L275.5 27.3L276.4 27.3L277.3 27.3L278.2 27.3L279.1 27.3L279.9 27.3L280.8 27.4L281.7 27.4L282.6 27.5L283.4 27.5L284.3 27.6L285.2 27.6L286.1 27.7L286.9 27.8L287.8 28.0L288.7 28.1L289.6 28.2L290.5 28.3L291.3 28.2L292.2 28.2L293.1 28.2L294.0 28.2L294.8 28.1L295.7 28.1L296.6 28.1L297.5 28.1L298.4 28.0L299.2 28.0L300.1 28.0L301.0 27.9L301.9 27.9L302.7 27.8L303.6 27.7L304.5 27.6L305.4 27.5L306.2 27.4L307.1 27.2L308.0 27.1" stroke="#ff0000"/>
<path d="M37.9 151.1L38.7 152.1L39.6 153.1L40.5 154.1L41.4 155.2L42.2 156.3L43.1 157.5L44.0 158.7L44.9 159.9L45.7 161.2L46.6 162.5L47.5 163.8L48.4 165.1L49.3 166.4L50.1 167.8L51.0 169.2L51.9 170.6L52.8 172.2L53.6 173.6L54.5 175.0L55.4 176.3L56.3 177.5L57.2 178.6L58.0 179.5L58.9 180.5L59.8 181.3L60.7 182.1L61.5 182.8L62.4 183.5L63.3 184.1L64.2 184.7L65.0 185.2L65.9 185.7L66.8 186.2L67.7 186.7L68.6 187.3L69.4 187.8L70.3 188.3L71.2 188.8L72.1 189.3L72.9 189.8L73.8 190.3L74.7 190.7L75.6 191.1L76.4 191.5L77.3 191.9L78.2 192.3L79.1 192.5L80.0 192.7L80.8 192.8L81.7 192.9L82.6 192.9L83.5 193.0L84.3 193.0L85.2 192.9L86.1 192.9L87.0 192.8L87.8 192.6L88.7 192.3L89.6 191.9L90.5 191.5L91.4 190.9L92.2 190.2L93.1 189.4L94.0 188.5L94.9 187.4L95.7 186.2L96.6 184.9L97.5 183.7L98.4 182.4L99.3 181.2L100.1 180.0L101.0 178.7L101.9 177.6L102.8 176.5L103.6 175.5L104.5 174.5L105.4 173.6L106.3 172.7L107.1 172.0L108.0 171.5L108.9 171.3L109.8 171.0L110.7 170.9L111.5 170.7L112.4 170.7L113.3 170.8L114.2 171.1L115.0 171.5L115.9 172.0L116.8 172.6L117.7 173.3L118.5 174.2L119.4 175.2L120.3 176.2L121.2 177.2L122.1 178.0L122.9 178.9L123.8 179.7L124.7 180.5L125.6 181.3L126.4 181.9L127.3 182.5L128.2 183.0L129.1 183.5L129.9 183.9L130.8 184.2L131.7 184.5L132.6 184.8L133.5 185.1L134.3 185.4L135.2 185.7L136.1 186.0L137.0 186.3L137.8 186.6L138.7 186.9L139.6 187.2L140.5 187.4L141.4 187.7L142.2 187.9L143.1 188.1L144.0 188.3L144.9 188.5L145.7 188.7L146.6 188.9L147.5 189.1L148.4 189.3L149.2 189.5L150.1 189.7L151.0 189.9L151.9 190.1L152.8 190.3L153.6 190.5L154.5 190.7L155.4 190.9L156.3 191.2L157.1 191.4L158.0 191.7L158.9 192.0L159.8 192.3L160.6 192.5L161.5 192.6L162.4 192.8L163.3 192.8L164.2 192.9L165.0 192.8L165.9 192.8L166.8 192.7L167.7 192.7L168.5 192.6L169.4 192.4L170.3 192.0L171.2 191.3L172.0 190.3L172.9 188.8L173.8 186.2L174.7 182.9L175.6 179.2L176.4 174.9L177.3 170.2L178.2 165.5L179.1 160.7L179.9 155.9L180.8 150.9L181.7 145.9L182.6 140.7L183.5 135.5L184.3 130.4L185.2 125.4L186.1 120.5L187.0 115.8L187.8 111.2L188.7 106.8L189.6 102.6L190.5 98.7L191.3 95.0L192.2 91.7L193.1 88.6L194.0 85.9L194.9 83.4L195.7 81.3L196.6 79.3L197.5 77.6L198.4 76.1L199.2 74.9L200.1 73.9L201.0 73.1L201.9 72.5L202.7 71.9L203.6 71.5L204.5 71.1L205.4 70.9L206.3 70.7L207.1 70.5L208.0 70.4L208.9 70.3L209.8 70.3L210.6 70.3L211.5 70.2L212.4 70.2L213.3 70.2L214.2 70.2L215.0 70.2L215.9 70.2L216.8 70.3L217.7 70.3L218.5 70.3L219.4 70.3L220.3 70.3L221.2 70.2L222.0 70.2L222.9 70.1L223.8 70.0L224.7 69.9L225.6 69.8L226.4 69.7L227.3 69.6L228.2 69.4L229.1 69.3L229.9 69.1L230.8 68.9L231.7 68.8L232.6 68.6L233.4 68.4L234.3 68.2L235.2 68.1L236.1 67.9L237.0 67.8L237.8 67.7L238.7 67.6L239.6 67.6L240.5 67.5L241.3 67.4L242.2 67.4L243.1 67.3L244.0 67.3L244.8 67.2L245.7 67.2L246.6 67.2L247.5 67.1L248.4 67.1L249.2 67.1L250.1 67.1L251.0 67.0L251.9 67.0L252.7 67.0L253.6 66.9L254.5 66.9L255.4 66.9L256.3 66.8L257.1 66.8L258.0 66.8L258.9 66.8L259.8 66.7L260.6 66.7L261.5 66.7L262.4 66.6L263.3 66.6L264.1 66.6L265.0 66.6L265.9 66.5L266.8 66.5L267.7 66.5L268.5 66.5L269.4 66.4L270.3 66.4L271.2 66.3L272.0 66.3L272.9 66.3L273.8 66.3L274.7 66.3L275.5 66.3L276.4 66.4L277.3 66.5L278.2 66.6L279.1 66.7L279.9 66.8L280.8 67.0L281.7 67.1L282.6 67.3L283.4 67.4L284.3 67.5L285.2 67.7L286.1 67.9L286.9 68.1L287.8 68.3L288.7 68.5L289.6 68.6L290.5 68.8L291.3 68.9L292.2 68.9L293.1 69.0L294.0 69.1L294.8 69.2L295.7 69.3L296.6 69.4L297.5 69.5L298.4 69.5L299.2 69.6L300.1 69.7L301.0 69.8L301.9 69.8L302.7 69.8L303.6 69.9L304.5 69.9L305.4 69.9L306.2 69.9L307.1 69.9L308.0 69.9" stroke="#ff0000"/>
<path d="M37.9 157.1L38.7 158.0L39.6 158.9L40.5 159.9L41.4 160.8L42.2 161.8L43.1 162.9L44.0 164.0L44.9 165.1L45.7 166.2L46.6 167.4L47.5 168.6L48.4 169.7L49.3 170.9L50.1 172.2L51.0 173.4L51.9 174.7L52.8 176.1L53.6 177.4L54.5 178.6L55.4 179.8L56.3 180.9L57.2 181.8L58.0 182.7L58.9 183.5L59.8 184.3L60.7 185.0L61.5 185.7L62.4 186.3L63.3 186.8L64.2 187.3L65.0 187.8L65.9 188.3L66.8 188.7L67.7 189.2L68.6 189.7L69.4 190.1L70.3 190.6L71.2 191.1L72.1 191.5L72.9 192.0L73.8 192.4L74.7 192.7L75.6 193.1L76.4 193.5L77.3 193.8L78.2 194.1L79.1 194.4L80.0 194.6L80.8 194.7L81.7 194.7L82.6 194.8L83.5 194.8L84.3 194.8L85.2 194.8L86.1 194.7L87.0 194.6L87.8 194.5L88.7 194.2L89.6 193.8L90.5 193.5L91.4 193.0L92.2 192.3L93.1 191.6L94.0 190.8L94.9 189.8L95.7 188.7L96.6 187.6L97.5 186.4L98.4 185.3L99.3 184.2L100.1 183.1L101.0 182.0L101.9 180.9L102.8 179.9L103.6 179.1L104.5 178.2L105.4 177.3L106.3 176.6L107.1 175.9L108.0 175.5L108.9 175.3L109.8 175.1L110.7 174.9L111.5 174.8L112.4 174.7L113.3 174.9L114.2 175.1L115.0 175.5L115.9 176.0L116.8 176.4L117.7 177.1L118.5 177.9L119.4 178.8L120.3 179.7L121.2 180.6L122.1 181.3L122.9 182.1L123.8 182.9L124.7 183.6L125.6 184.3L126.4 184.8L127.3 185.4L128.2 185.9L129.1 186.3L129.9 186.6L130.8 186.9L131.7 187.2L132.6 187.5L133.5 187.7L134.3 188.0L135.2 188.3L136.1 188.5L137.0 188.8L137.8 189.1L138.7 189.3L139.6 189.6L140.5 189.8L141.4 190.0L142.2 190.2L143.1 190.4L144.0 190.6L144.9 190.8L145.7 191.0L146.6 191.1L147.5 191.3L148.4 191.5L149.2 191.7L150.1 191.9L151.0 192.0L151.9 192.2L152.8 192.4L153.6 192.6L154.5 192.8L155.4 192.9L156.3 193.2L157.1 193.4L158.0 193.7L158.9 193.9L159.8 194.1L160.6 194.3L161.5 194.5L162.4 194.6L163.3 194.7L164.2 194.7L165.0 194.7L165.9 194.6L166.8 194.6L167.7 194.5L168.5 194.4L169.4 194.3L170.3 194.0L171.2 193.4L172.0 192.6L172.9 191.3L173.8 189.2L174.7 186.2L175.6 182.8L176.4 178.9L177.3 174.4L178.2 169.8L179.1 165.0L179.9 160.0L180.8 154.8L181.7 149.4L182.6 143.7L183.5 137.9L184.3 132.0L185.2 126.2L186.1 120.4L187.0 114.6L187.8 109.0L188.7 103.6L189.6 98.4L190.5 93.5L191.3 88.9L192.2 84.6L193.1 80.7L194.0 77.2L194.9 74.1L195.7 71.3L196.6 68.8L197.5 66.5L198.4 64.6L199.2 63.0L200.1 61.7L201.0 60.5L201.9 59.6L202.7 58.9L203.6 58.2L204.5 57.7L205.4 57.3L206.3 56.9L207.1 56.6L208.0 56.4L208.9 56.2L209.8 56.1L210.6 56.0L211.5 55.9L212.4 55.8L213.3 55.7L214.2 55.6L215.0 55.6L215.9 55.5L216.8 55.4L217.7 55.4L218.5 55.3L219.4 55.2L220.3 55.1L221.2 55.0L222.0 54.9L222.9 54.7L223.8 54.6L224.7 54.4L225.6 54.2L226.4 54.0L227.3 53.8L228.2 53.6L229.1 53.3L229.9 53.0L230.8 52.8L231.7 52.5L232.6 52.2L233.4 51.9L234.3 51.7L235.2 51.4L236.1 51.2L237.0 51.0L237.8 50.8L238.7 50.6L239.6 50.5L240.5 50.3L241.3 50.2L242.2 50.1L243.1 49.9L244.0 49.8L244.8 49.7L245.7 49.6L246.6 49.5L247.5 49.3L248.4 49.2L249.2 49.1L250.1 49.0L251.0 48.9L251.9 48.8L252.7 48.7L253.6 48.6L254.5 48.5L255.4 48.4L256.3 48.2L257.1 48.1L258.0 48.0L258.9 47.9L259.8 47.8L260.6 47.7L261.5 47.6L262.4 47.5L263.3 47.4L264.1 47.2L265.0 47.1L265.9 47.0L266.8 46.9L267.7 46.8L268.5 46.7L269.4 46.6L270.3 46.5L271.2 46.4L272.0 46.2L272.9 46.1L273.8 46.1L274.7 46.0L275.5 46.0L276.4 45.9L277.3 46.0L278.2 46.0L279.1 46.1L279.9 46.1L280.8 46.2L281.7 46.3L282.6 46.4L283.4 46.5L284.3 46.5L285.2 46.6L286.1 46.8L286.9 46.9L287.8 47.1L288.7 47.2L289.6 47.3L290.5 47.4L291.3 47.5L292.2 47.4L293.1 47.5L294.0 47.5L294.8 47.5L295.7 47.6L296.6 47.6L297.5 47.6L298.4 47.6L299.2 47.6L300.1 47.6L301.0 47.6L301.9 47.6L302.7 47.6L303.6 47.5L304.5 47.5L305.4 47.4L306.2 47.3L307.1 47.2L308.0 47.2" stroke="#ff0000"/>
<path d="M37.9 150.2L38.7 151.2L39.6 152.2L40.5 153.3L41.4 154.4L42.2 155.5L43.1 156.7L44.0 157.9L44.9 159.2L45.7 160.5L46.6 161.8L47.5 163.1L48.4 164.4L49.3 165.8L50.1 167.2L51.0 168.6L51.9 170.0L52.8 171.6L53.6 173.1L54.5 174.4L55.4 175.8L56.3 177.0L57.2 178.1L58.0 179.1L58.9 180.0L59.8 180.9L60.7 181.7L61.5 182.4L62.4 183.1L63.3 183.7L64.2 184.3L65.0 184.8L65.9 185.3L66.8 185.9L67.7 186.4L68.6 186.9L69.4 187.4L70.3 188.0L71.2 188.5L72.1 189.0L72.9 189.5L73.8 190.0L74.7 190.4L75.6 190.8L76.4 191.2L77.3 191.6L78.2 192.0L79.1 192.3L80.0 192.5L80.8 192.6L81.7 192.6L82.6 192.7L83.5 192.7L84.3 192.7L85.2 192.7L86.1 192.6L87.0 192.5L87.8 192.3L88.7 192.0L89.6 191.6L90.5 191.2L91.4 190.6L92.2 189.9L93.1 189.1L94.0 188.2L94.9 187.1L95.7 185.8L96.6 184.6L97.5 183.3L98.4 182.0L99.3 180.8L100.1 179.5L101.0 178.3L101.9 177.1L102.8 175.9L103.6 174.9L104.5 174.0L105.4 173.0L106.3 172.1L107.1 171.4L108.0 171.0L108.9 170.7L109.8 170.5L110.7 170.3L111.5 170.1L112.4 170.1L113.3 170.2L114.2 170.5L115.0 170.9L115.9 171.4L116.8 172.0L117.7 172.7L118.5 173.7L119.4 174.7L120.3 175.7L121.2 176.6L122.1 177.5L122.9 178.4L123.8 179.2L124.7 180.1L125.6 180.8L126.4 181.5L127.3 182.1L128.2 182.6L129.1 183.1L129.9 183.5L130.8 183.8L131.7 184.2L132.6 184.5L133.5 184.7L134.3 185.0L135.2 185.4L136.1 185.7L137.0 186.0L137.8 186.2L138.7 186.5L139.6 186.8L140.5 187.1L141.4 187.3L142.2 187.6L143.1 187.8L144.0 188.0L144.9 188.2L145.7 188.4L146.6 188.6L147.5 188.8L148.4 189.0L149.2 189.2L150.1 189.4L151.0 189.6L151.9 189.8L152.8 190.0L153.6 190.2L154.5 190.4L155.4 190.6L156.3 190.9L157.1 191.1L158.0 191.4L158.9 191.8L159.8 192.0L160.6 192.2L161.5 192.3L162.4 192.5L163.3 192.6L164.2 192.6L165.0 192.6L165.9 192.5L166.8 192.5L167.7 192.4L168.5 192.3L169.4 192.2L170.3 192.1L171.2 191.6L172.0 190.8L172.9 189.6L173.8 187.8L174.7 184.8L175.6 181.2L176.4 177.4L177.3 172.6L178.2 167.7L179.1 162.8L179.9 157.7L180.8 152.5L181.7 147.1L182.6 141.6L183.5 136.0L184.3 130.3L185.2 124.7L186.1 119.2L187.0 113.8L187.8 108.5L188.7 103.4L189.6 98.5L190.5 93.9L191.3 89.5L192.2 85.5L193.1 81.8L194.0 78.4L194.9 75.4L195.7 72.7L196.6 70.3L197.5 68.2L198.4 66.3L199.2 64.7L200.1 63.4L201.0 62.3L201.9 61.4L202.7 60.7L203.6 60.1L204.5 59.6L205.4 59.2L206.3 58.8L207.1 58.6L208.0 58.4L208.9 58.3L209.8 58.1L210.6 58.1L211.5 58.0L212.4 57.9L213.3 57.9L214.2 57.9L215.0 57.8L215.9 57.8L216.8 57.8L217.7 57.8L218.5 57.7L219.4 57.7L220.3 57.6L221.2 57.6L222.0 57.5L222.9 57.4L223.8 57.2L224.7 57.1L225.6 56.9L226.4 56.8L227.3 56.6L228.2 56.4L229.1 56.2L229.9 56.0L230.8 55.8L231.7 55.5L232.6 55.3L233.4 55.1L234.3 54.8L235.2 54.6L236.1 54.4L237.0 54.3L237.8 54.1L238.7 54.0L239.6 53.9L240.5 53.8L241.3 53.7L242.2 53.6L243.1 53.5L244.0 53.4L244.8 53.4L245.7 53.3L246.6 53.2L247.5 53.1L248.4 53.1L249.2 53.0L250.1 52.9L251.0 52.9L251.9 52.8L252.7 52.7L253.6 52.7L254.5 52.6L255.4 52.5L256.3 52.4L257.1 52.4L258.0 52.3L258.9 52.2L259.8 52.1L260.6 52.1L261.5 52.0L262.4 51.9L263.3 51.9L264.1 51.8L265.0 51.7L265.9 51.7L266.8 51.6L267.7 51.5L268.5 51.5L269.4 51.4L270.3 51.3L271.2 51.3L272.0 51.2L272.9 51.1L273.8 51.1L274.7 51.1L275.5 51.1L276.4 51.1L277.3 51.1L278.2 51.2L279.1 51.3L279.9 51.4L280.8 51.5L281.7 51.7L282.6 51.8L283.4 51.9L284.3 52.0L285.2 52.1L286.1 52.3L286.9 52.5L287.8 52.7L288.7 52.9L289.6 53.0L290.5 53.1L291.3 53.2L292.2 53.2L293.1 53.3L294.0 53.3L294.8 53.4L295.7 53.5L296.6 53.5L297.5 53.6L298.4 53.6L299.2 53.7L300.1 53.7L301.0 53.8L301.9 53.8L302.7 53.8L303.6 53.8L304.5 53.8L305.4 53.7L306.2 53.7L307.1 53.7L308.0 53.6" stroke="#ff0000"/>
<path d="M37.9 151.8L38.7 152.8L39.6 153.8L40.5 154.8L41.4 155.9L42.2 157.0L43.1 158.1L44.0 159.3L44.9 160.6L45.7 161.8L46.6 163.1L47.5 164.4L48.4 165.7L49.3 167.0L50.1 168.3L51.0 169.7L51.9 171.1L52.8 172.6L53.6 174.1L54.5 175.4L55.4 176.7L56.3 177.9L57.2 179.0L58.0 179.9L58.9 180.8L59.8 181.7L60.7 182.5L61.5 183.2L62.4 183.8L63.3 184.4L64.2 185.0L65.0 185.5L65.9 186.0L66.8 186.5L67.7 187.0L68.6 187.6L69.4 188.1L70.3 188.6L71.2 189.1L72.1 189.6L72.9 190.1L73.8 190.5L74.7 191.0L75.6 191.4L76.4 191.8L77.3 192.1L78.2 192.5L79.1 192.8L80.0 193.0L80.8 193.1L81.7 193.1L82.6 193.2L83.5 193.2L84.3 193.2L85.2 193.2L86.1 193.1L87.0 193.0L87.8 192.8L88.7 192.5L89.6 192.1L90.5 191.7L91.4 191.2L92.2 190.5L93.1 189.7L94.0 188.8L94.9 187.7L95.7 186.5L96.6 185.3L97.5 184.0L98.4 182.8L99.3 181.6L100.1 180.4L101.0 179.1L101.9 178.0L102.8 176.9L103.6 175.9L104.5 175.0L105.4 174.0L106.3 173.2L107.1 172.5L108.0 172.0L108.9 171.8L109.8 171.5L110.7 171.4L111.5 171.2L112.4 171.2L113.3 171.3L114.2 171.6L115.0 172.0L115.9 172.5L116.8 173.0L117.7 173.8L118.5 174.7L119.4 175.7L120.3 176.7L121.2 177.6L122.1 178.4L122.9 179.3L123.8 180.1L124.7 180.9L125.6 181.6L126.4 182.3L127.3 182.9L128.2 183.4L129.1 183.8L129.9 184.2L130.8 184.6L131.7 184.9L132.6 185.2L133.5 185.5L134.3 185.7L135.2 186.0L136.1 186.3L137.0 186.6L137.8 186.9L138.7 187.2L139.6 187.5L140.5 187.7L141.4 188.0L142.2 188.2L143.1 188.4L144.0 188.6L144.9 188.8L145.7 189.0L146.6 189.2L147.5 189.4L148.4 189.6L149.2 189.8L150.1 190.0L151.0 190.2L151.9 190.4L152.8 190.6L153.6 190.8L154.5 191.0L155.4 191.2L156.3 191.4L157.1 191.7L158.0 192.0L158.9 192.3L159.8 192.5L160.6 192.7L161.5 192.8L162.4 193.0L163.3 193.0L164.2 193.1L165.0 193.1L165.9 193.0L166.8 193.0L167.7 192.9L168.5 192.9L169.4 192.8L170.3 192.6L171.2 192.3L172.0 191.6L172.9 190.4L173.8 188.8L174.7 186.2L175.6 182.8L176.4 179.1L177.3 174.6L178.2 170.0L179.1 165.2L179.9 160.4L180.8 155.5L181.7 150.5L182.6 145.3L183.5 140.0L184.3 134.8L185.2 129.6L186.1 124.5L187.0 119.6L187.8 114.7L188.7 110.1L189.6 105.6L190.5 101.4L191.3 97.4L192.2 93.8L193.1 90.4L194.0 87.3L194.9 84.6L195.7 82.1L196.6 79.8L197.5 77.8L198.4 76.1L199.2 74.6L200.1 73.3L201.0 72.3L201.9 71.4L202.7 70.7L203.6 70.1L204.5 69.6L205.4 69.2L206.3 68.8L207.1 68.6L208.0 68.4L208.9 68.2L209.8 68.1L210.6 68.0L211.5 67.9L212.4 67.8L213.3 67.7L214.2 67.7L215.0 67.6L215.9 67.5L216.8 67.5L217.7 67.4L218.5 67.4L219.4 67.3L220.3 67.2L221.2 67.1L222.0 67.0L222.9 66.9L223.8 66.7L224.7 66.5L225.6 66.4L226.4 66.2L227.3 66.0L228.2 65.8L229.1 65.6L229.9 65.3L230.8 65.1L231.7 64.8L232.6 64.6L233.4 64.3L234.3 64.1L235.2 63.9L236.1 63.6L237.0 63.5L237.8 63.3L238.7 63.1L239.6 63.0L240.5 62.9L241.3 62.7L242.2 62.6L243.1 62.5L244.0 62.4L244.8 62.3L245.7 62.2L246.6 62.1L247.5 62.0L248.4 61.9L249.2 61.8L250.1 61.7L251.0 61.6L251.9 61.5L252.7 61.4L253.6 61.3L254.5 61.2L255.4 61.1L256.3 61.0L257.1 60.9L258.0 60.8L258.9 60.7L259.8 60.6L260.6 60.5L261.5 60.4L262.4 60.3L263.3 60.2L264.1 60.1L265.0 60.0L265.9 59.9L266.8 59.8L267.7 59.7L268.5 59.6L269.4 59.5L270.3 59.4L271.2 59.3L272.0 59.2L272.9 59.1L273.8 59.1L274.7 59.0L275.5 59.0L276.4 58.9L277.3 59.0L278.2 59.0L279.1 59.1L279.9 59.1L280.8 59.2L281.7 59.3L282.6 59.4L283.4 59.4L284.3 59.5L285.2 59.6L286.1 59.7L286.9 59.9L287.8 60.0L288.7 60.2L289.6 60.3L290.5 60.4L291.3 60.4L292.2 60.4L293.1 60.4L294.0 60.4L294.8 60.5L295.7 60.5L296.6 60.5L297.5 60.5L298.4 60.5L299.2 60.5L300.1 60.6L301.0 60.6L301.9 60.5L302.7 60.5L303.6 60.5L304.5 60.4L305.4 60.4L306.2 60.3L307.1 60.2L308.0 60.2" stroke="#ff0000"/>
<path d="M37.9 158.4L38.7 159.3L39.6 160.1L40.5 161.1L41.4 162.0L42.2 163.0L43.1 164.0L44.0 165.1L44.9 166.1L45.7 167.3L46.6 168.4L47.5 169.5L48.4 170.7L49.3 171.9L50.1 173.1L51.0 174.3L51.9 175.5L52.8 176.9L53.6 178.2L54.5 179.4L55.4 180.5L56.3 181.6L57.2 182.5L58.0 183.4L58.9 184.2L59.8 184.9L60.7 185.6L61.5 186.3L62.4 186.8L63.3 187.4L64.2 187.9L65.0 188.4L65.9 188.8L66.8 189.3L67.7 189.7L68.6 190.2L69.4 190.6L70.3 191.1L71.2 191.5L72.1 192.0L72.9 192.4L73.8 192.8L74.7 193.2L75.6 193.5L76.4 193.9L77.3 194.2L78.2 194.5L79.1 194.8L80.0 195.0L80.8 195.1L81.7 195.1L82.6 195.1L83.5 195.2L84.3 195.2L85.2 195.1L86.1 195.1L87.0 195.0L87.8 194.8L88.7 194.6L89.6 194.2L90.5 193.9L91.4 193.4L92.2 192.7L93.1 192.0L94.0 191.2L94.9 190.3L95.7 189.2L96.6 188.1L97.5 187.0L98.4 185.9L99.3 184.9L100.1 183.8L101.0 182.7L101.9 181.6L102.8 180.7L103.6 179.8L104.5 179.0L105.4 178.1L106.3 177.4L107.1 176.8L108.0 176.4L108.9 176.1L109.8 175.9L110.7 175.8L111.5 175.6L112.4 175.6L113.3 175.7L114.2 176.0L115.0 176.3L115.9 176.8L116.8 177.2L117.7 177.9L118.5 178.7L119.4 179.6L120.3 180.5L121.2 181.3L122.1 182.0L122.9 182.8L123.8 183.5L124.7 184.2L125.6 184.9L126.4 185.5L127.3 186.0L128.2 186.4L129.1 186.9L129.9 187.2L130.8 187.5L131.7 187.8L132.6 188.0L133.5 188.3L134.3 188.5L135.2 188.8L136.1 189.1L137.0 189.3L137.8 189.6L138.7 189.8L139.6 190.1L140.5 190.3L141.4 190.5L142.2 190.7L143.1 190.9L144.0 191.1L144.9 191.3L145.7 191.4L146.6 191.6L147.5 191.8L148.4 192.0L149.2 192.1L150.1 192.3L151.0 192.5L151.9 192.7L152.8 192.8L153.6 193.0L154.5 193.2L155.4 193.4L156.3 193.6L157.1 193.8L158.0 194.1L158.9 194.4L159.8 194.6L160.6 194.7L161.5 194.9L162.4 195.0L163.3 195.1L164.2 195.1L165.0 195.0L165.9 195.0L166.8 194.9L167.7 194.9L168.5 194.8L169.4 194.6L170.3 194.1L171.2 193.4L172.0 192.5L172.9 190.9L173.8 188.4L174.7 185.3L175.6 181.9L176.4 177.9L177.3 173.7L178.2 169.4L179.1 165.1L179.9 160.6L180.8 156.1L181.7 151.4L182.6 146.6L183.5 141.9L184.3 137.2L185.2 132.7L186.1 128.3L187.0 124.0L187.8 119.9L188.7 115.9L189.6 112.2L190.5 108.7L191.3 105.4L192.2 102.5L193.1 99.8L194.0 97.3L194.9 95.1L195.7 93.2L196.6 91.4L197.5 89.9L198.4 88.5L199.2 87.4L200.1 86.5L201.0 85.7L201.9 85.1L202.7 84.6L203.6 84.1L204.5 83.7L205.4 83.4L206.3 83.1L207.1 82.9L208.0 82.8L208.9 82.6L209.8 82.5L210.6 82.4L211.5 82.3L212.4 82.2L213.3 82.1L214.2 82.0L215.0 81.9L215.9 81.8L216.8 81.7L217.7 81.7L218.5 81.6L219.4 81.5L220.3 81.4L221.2 81.3L222.0 81.1L222.9 81.0L223.8 80.8L224.7 80.6L225.6 80.4L226.4 80.2L227.3 80.0L228.2 79.8L229.1 79.6L229.9 79.3L230.8 79.1L231.7 78.8L232.6 78.6L233.4 78.3L234.3 78.0L235.2 77.8L236.1 77.6L237.0 77.4L237.8 77.2L238.7 77.0L239.6 76.9L240.5 76.7L241.3 76.6L242.2 76.4L243.1 76.3L244.0 76.2L244.8 76.0L245.7 75.9L246.6 75.8L247.5 75.6L248.4 75.5L249.2 75.4L250.1 75.3L251.0 75.2L251.9 75.0L252.7 74.9L253.6 74.8L254.5 74.7L255.4 74.5L256.3 74.4L257.1 74.3L258.0 74.2L258.9 74.0L259.8 73.9L260.6 73.8L261.5 73.7L262.4 73.6L263.3 73.4L264.1 73.3L265.0 73.2L265.9 73.1L266.8 72.9L267.7 72.8L268.5 72.7L269.4 72.6L270.3 72.5L271.2 72.3L272.0 72.2L272.9 72.1L273.8 72.0L274.7 71.9L275.5 71.8L276.4 71.8L277.3 71.8L278.2 71.8L279.1 71.8L279.9 71.8L280.8 71.9L281.7 71.9L282.6 72.0L283.4 72.0L284.3 72.0L285.2 72.1L286.1 72.2L286.9 72.3L287.8 72.4L288.7 72.5L289.6 72.5L290.5 72.6L291.3 72.6L292.2 72.5L293.1 72.5L294.0 72.5L294.8 72.5L295.7 72.5L296.6 72.5L297.5 72.5L298.4 72.4L299.2 72.4L300.1 72.4L301.0 72.4L301.9 72.3L302.7 72.3L303.6 72.2L304.5 72.1L305.4 72.0L306.2 71.9L307.1 71.8L308.0 71.7" stroke="#ff0000"/>
<path d="M37.9 162.7L38.7 163.5L39.6 164.3L40.5 165.1L41.4 166.0L42.2 166.9L43.1 167.8L44.0 168.8L44.9 169.8L45.7 170.8L46.6 171.9L47.5 172.9L48.4 174.0L49.3 175.0L50.1 176.1L51.0 177.3L51.9 178.4L52.8 179.7L53.6 180.9L54.5 181.9L55.4 183.0L56.3 184.0L57.2 184.8L58.0 185.6L58.9 186.4L59.8 187.0L60.7 187.7L61.5 188.3L62.4 188.8L63.3 189.3L64.2 189.8L65.0 190.2L65.9 190.6L66.8 191.0L67.7 191.4L68.6 191.9L69.4 192.3L70.3 192.7L71.2 193.1L72.1 193.5L72.9 193.9L73.8 194.3L74.7 194.6L75.6 195.0L76.4 195.3L77.3 195.6L78.2 195.9L79.1 196.1L80.0 196.3L80.8 196.3L81.7 196.4L82.6 196.4L83.5 196.4L84.3 196.4L85.2 196.4L86.1 196.4L87.0 196.3L87.8 196.2L88.7 195.9L89.6 195.6L90.5 195.3L91.4 194.8L92.2 194.2L93.1 193.6L94.0 192.8L94.9 192.0L95.7 191.0L96.6 190.0L97.5 188.9L98.4 188.0L99.3 187.0L100.1 186.0L101.0 185.0L101.9 184.0L102.8 183.1L103.6 182.3L104.5 181.6L105.4 180.8L106.3 180.1L107.1 179.5L108.0 179.2L108.9 179.0L109.8 178.8L110.7 178.6L111.5 178.5L112.4 178.5L113.3 178.6L114.2 178.8L115.0 179.2L115.9 179.5L116.8 180.0L117.7 180.6L118.5 181.3L119.4 182.1L120.3 183.0L121.2 183.7L122.1 184.4L122.9 185.1L123.8 185.8L124.7 186.4L125.6 187.0L126.4 187.5L127.3 188.0L128.2 188.4L129.1 188.8L129.9 189.1L130.8 189.4L131.7 189.7L132.6 189.9L133.5 190.1L134.3 190.4L135.2 190.6L136.1 190.9L137.0 191.1L137.8 191.3L138.7 191.6L139.6 191.8L140.5 192.0L141.4 192.2L142.2 192.4L143.1 192.5L144.0 192.7L144.9 192.9L145.7 193.0L146.6 193.2L147.5 193.3L148.4 193.5L149.2 193.7L150.1 193.8L151.0 194.0L151.9 194.1L152.8 194.3L153.6 194.5L154.5 194.6L155.4 194.8L156.3 195.0L157.1 195.2L158.0 195.5L158.9 195.7L159.8 195.9L160.6 196.0L161.5 196.2L162.4 196.3L163.3 196.3L164.2 196.3L165.0 196.3L165.9 196.3L166.8 196.2L167.7 196.2L168.5 196.1L169.4 195.9L170.3 195.6L171.2 195.0L172.0 194.2L172.9 192.9L173.8 190.7L174.7 187.9L175.6 184.8L176.4 181.1L177.3 177.0L178.2 172.8L179.1 168.5L179.9 163.9L180.8 159.2L181.7 154.3L182.6 149.2L183.5 144.0L184.3 138.7L185.2 133.6L186.1 128.5L187.0 123.5L187.8 118.6L188.7 113.9L189.6 109.4L190.5 105.2L191.3 101.2L192.2 97.6L193.1 94.3L194.0 91.3L194.9 88.6L195.7 86.2L196.6 84.1L197.5 82.2L198.4 80.6L199.2 79.2L200.1 78.0L201.0 77.1L201.9 76.3L202.7 75.6L203.6 75.1L204.5 74.6L205.4 74.2L206.3 73.9L207.1 73.6L208.0 73.4L208.9 73.2L209.8 73.0L210.6 72.9L211.5 72.8L212.4 72.7L213.3 72.5L214.2 72.4L215.0 72.3L215.9 72.2L216.8 72.2L217.7 72.1L218.5 72.0L219.4 71.8L220.3 71.7L221.2 71.6L222.0 71.4L222.9 71.3L223.8 71.1L224.7 70.9L225.6 70.6L226.4 70.4L227.3 70.2L228.2 70.0L229.1 69.7L229.9 69.4L230.8 69.2L231.7 68.9L232.6 68.6L233.4 68.3L234.3 68.0L235.2 67.7L236.1 67.5L237.0 67.3L237.8 67.1L238.7 66.9L239.6 66.7L240.5 66.5L241.3 66.4L242.2 66.2L243.1 66.1L244.0 65.9L244.8 65.7L245.7 65.6L246.6 65.5L247.5 65.3L248.4 65.2L249.2 65.0L250.1 64.9L251.0 64.8L251.9 64.6L252.7 64.5L253.6 64.4L254.5 64.2L255.4 64.1L256.3 63.9L257.1 63.8L258.0 63.6L258.9 63.5L259.8 63.4L260.6 63.2L261.5 63.1L262.4 62.9L263.3 62.8L264.1 62.7L265.0 62.5L265.9 62.4L266.8 62.3L267.7 62.1L268.5 62.0L269.4 61.8L270.3 61.7L271.2 61.5L272.0 61.4L272.9 61.3L273.8 61.2L274.7 61.1L275.5 61.0L276.4 60.9L277.3 60.9L278.2 60.9L279.1 60.9L279.9 60.9L280.8 61.0L281.7 61.0L282.6 61.0L283.4 61.1L284.3 61.1L285.2 61.2L286.1 61.2L286.9 61.3L287.8 61.4L288.7 61.5L289.6 61.6L290.5 61.6L291.3 61.6L292.2 61.6L293.1 61.6L294.0 61.6L294.8 61.5L295.7 61.5L296.6 61.5L297.5 61.5L298.4 61.4L299.2 61.4L300.1 61.4L301.0 61.3L301.9 61.3L302.7 61.2L303.6 61.1L304.5 61.0L305.4 60.9L306.2 60.8L307.1 60.7L308.0 60.6" stroke="#ff0000"/>
<path d="M37.9 151.9L38.7 152.9L39.6 153.9L40.5 154.9L41.4 156.0L42.2 157.1L43.1 158.2L44.0 159.4L44.9 160.6L45.7 161.9L46.6 163.2L47.5 164.4L48.4 165.7L49.3 167.1L50.1 168.4L51.0 169.8L51.9 171.2L52.8 172.7L53.6 174.2L54.5 175.5L55.4 176.8L56.3 177.9L57.2 179.0L58.0 180.0L58.9 180.9L59.8 181.7L60.7 182.5L61.5 183.2L62.4 183.9L63.3 184.5L64.2 185.0L65.0 185.6L65.9 186.1L66.8 186.6L67.7 187.1L68.6 187.6L69.4 188.1L70.3 188.6L71.2 189.2L72.1 189.6L72.9 190.1L73.8 190.6L74.7 191.0L75.6 191.4L76.4 191.8L77.3 192.2L78.2 192.5L79.1 192.8L80.0 193.0L80.8 193.1L81.7 193.2L82.6 193.2L83.5 193.2L84.3 193.2L85.2 193.2L86.1 193.1L87.0 193.0L87.8 192.9L88.7 192.6L89.6 192.2L90.5 191.8L91.4 191.2L92.2 190.5L93.1 189.7L94.0 188.8L94.9 187.8L95.7 186.6L96.6 185.3L97.5 184.1L98.4 182.8L99.3 181.6L100.1 180.4L101.0 179.2L101.9 178.0L102.8 176.9L103.6 176.0L104.5 175.0L105.4 174.1L106.3 173.2L107.1 172.6L108.0 172.1L108.9 171.8L109.8 171.6L110.7 171.4L111.5 171.3L112.4 171.2L113.3 171.4L114.2 171.7L115.0 172.1L115.9 172.6L116.8 173.1L117.7 173.8L118.5 174.7L119.4 175.7L120.3 176.7L121.2 177.6L122.1 178.5L122.9 179.3L123.8 180.1L124.7 180.9L125.6 181.7L126.4 182.3L127.3 182.9L128.2 183.4L129.1 183.9L129.9 184.3L130.8 184.6L131.7 184.9L132.6 185.2L133.5 185.5L134.3 185.8L135.2 186.1L136.1 186.4L137.0 186.7L137.8 187.0L138.7 187.2L139.6 187.5L140.5 187.8L141.4 188.0L142.2 188.2L143.1 188.4L144.0 188.6L144.9 188.8L145.7 189.0L146.6 189.2L147.5 189.4L148.4 189.6L149.2 189.8L150.1 190.0L151.0 190.2L151.9 190.4L152.8 190.6L153.6 190.8L154.5 191.0L155.4 191.2L156.3 191.4L157.1 191.7L158.0 192.0L158.9 192.3L159.8 192.5L160.6 192.7L161.5 192.9L162.4 193.0L163.3 193.1L164.2 193.1L165.0 193.1L165.9 193.0L166.8 193.0L167.7 192.9L168.5 192.8L169.4 192.6L170.3 192.1L171.2 191.3L172.0 190.3L172.9 188.6L173.8 185.9L174.7 182.4L175.6 178.6L176.4 174.1L177.3 169.2L178.2 164.2L179.1 159.1L179.9 153.8L180.8 148.4L181.7 142.8L182.6 136.9L183.5 131.1L184.3 125.3L185.2 119.6L186.1 114.0L187.0 108.5L187.8 103.3L188.7 98.2L189.6 93.4L190.5 88.8L191.3 84.6L192.2 80.8L193.1 77.3L194.0 74.1L194.9 71.2L195.7 68.7L196.6 66.4L197.5 64.4L198.4 62.6L199.2 61.2L200.1 59.9L201.0 58.9L201.9 58.1L202.7 57.3L203.6 56.7L204.5 56.2L205.4 55.8L206.3 55.4L207.1 55.1L208.0 54.9L208.9 54.7L209.8 54.5L210.6 54.3L211.5 54.2L212.4 54.0L213.3 53.9L214.2 53.8L215.0 53.7L215.9 53.5L216.8 53.4L217.7 53.3L218.5 53.2L219.4 53.0L220.3 52.9L221.2 52.7L222.0 52.5L222.9 52.3L223.8 52.1L224.7 51.8L225.6 51.6L226.4 51.3L227.3 51.1L228.2 50.8L229.1 50.5L229.9 50.2L230.8 49.8L231.7 49.5L232.6 49.2L233.4 48.8L234.3 48.5L235.2 48.2L236.1 47.9L237.0 47.6L237.8 47.4L238.7 47.1L239.6 46.9L240.5 46.7L241.3 46.5L242.2 46.3L243.1 46.1L244.0 46.0L244.8 45.8L245.7 45.6L246.6 45.4L247.5 45.3L248.4 45.1L249.2 44.9L250.1 44.7L251.0 44.6L251.9 44.4L252.7 44.2L253.6 44.1L254.5 43.9L255.4 43.7L256.3 43.6L257.1 43.4L258.0 43.2L258.9 43.0L259.8 42.9L260.6 42.7L261.5 42.5L262.4 42.3L263.3 42.2L264.1 42.0L265.0 41.8L265.9 41.7L266.8 41.5L267.7 41.3L268.5 41.2L269.4 41.0L270.3 40.8L271.2 40.6L272.0 40.5L272.9 40.3L273.8 40.2L274.7 40.0L275.5 39.9L276.4 39.9L277.3 39.8L278.2 39.8L279.1 39.8L279.9 39.8L280.8 39.9L281.7 39.9L282.6 39.9L283.4 39.9L284.3 40.0L285.2 40.0L286.1 40.1L286.9 40.2L287.8 40.3L288.7 40.4L289.6 40.5L290.5 40.5L291.3 40.5L292.2 40.4L293.1 40.4L294.0 40.3L294.8 40.3L295.7 40.3L296.6 40.2L297.5 40.2L298.4 40.2L299.2 40.1L300.1 40.1L301.0 40.0L301.9 39.9L302.7 39.8L303.6 39.7L304.5 39.6L305.4 39.5L306.2 39.4L307.1 39.2L308.0 39.1" stroke="#ff0000"/>
<path d="M37.9 160.7L38.7 161.5L39.6 162.3L40.5 163.2L41.4 164.1L42.2 165.1L43.1 166.0L44.0 167.0L44.9 168.1L45.7 169.2L46.6 170.2L47.5 171.3L48.4 172.4L49.3 173.6L50.1 174.7L51.0 175.9L51.9 177.1L52.8 178.4L53.6 179.6L54.5 180.7L55.4 181.8L56.3 182.8L57.2 183.8L58.0 184.6L58.9 185.3L59.8 186.1L60.7 186.7L61.5 187.3L62.4 187.9L63.3 188.4L64.2 188.9L65.0 189.3L65.9 189.8L66.8 190.2L67.7 190.6L68.6 191.1L69.4 191.5L70.3 191.9L71.2 192.4L72.1 192.8L72.9 193.2L73.8 193.6L74.7 193.9L75.6 194.3L76.4 194.6L77.3 195.0L78.2 195.3L79.1 195.5L80.0 195.7L80.8 195.7L81.7 195.8L82.6 195.8L83.5 195.8L84.3 195.8L85.2 195.8L86.1 195.8L87.0 195.7L87.8 195.5L88.7 195.3L89.6 195.0L90.5 194.6L91.4 194.1L92.2 193.5L93.1 192.8L94.0 192.1L94.9 191.2L95.7 190.2L96.6 189.1L97.5 188.0L98.4 187.0L99.3 186.0L100.1 184.9L101.0 183.9L101.9 182.9L102.8 182.0L103.6 181.2L104.5 180.3L105.4 179.5L106.3 178.8L107.1 178.2L108.0 177.9L108.9 177.6L109.8 177.4L110.7 177.3L111.5 177.2L112.4 177.1L113.3 177.2L114.2 177.5L115.0 177.8L115.9 178.2L116.8 178.7L117.7 179.3L118.5 180.1L119.4 181.0L120.3 181.8L121.2 182.6L122.1 183.3L122.9 184.0L123.8 184.7L124.7 185.4L125.6 186.0L126.4 186.6L127.3 187.1L128.2 187.5L129.1 187.9L129.9 188.2L130.8 188.5L131.7 188.8L132.6 189.0L133.5 189.3L134.3 189.5L135.2 189.8L136.1 190.0L137.0 190.3L137.8 190.5L138.7 190.7L139.6 191.0L140.5 191.2L141.4 191.4L142.2 191.6L143.1 191.8L144.0 191.9L144.9 192.1L145.7 192.3L146.6 192.4L147.5 192.6L148.4 192.8L149.2 192.9L150.1 193.1L151.0 193.3L151.9 193.4L152.8 193.6L153.6 193.8L154.5 194.0L155.4 194.1L156.3 194.3L157.1 194.6L158.0 194.8L158.9 195.1L159.8 195.3L160.6 195.4L161.5 195.6L162.4 195.7L163.3 195.7L164.2 195.7L165.0 195.7L165.9 195.7L166.8 195.6L167.7 195.5L168.5 195.4L169.4 195.2L170.3 194.6L171.2 193.8L172.0 192.8L172.9 191.1L173.8 188.4L174.7 185.3L175.6 181.8L176.4 177.7L177.3 173.4L178.2 168.9L179.1 164.3L179.9 159.4L180.8 154.3L181.7 149.0L182.6 143.5L183.5 137.9L184.3 132.3L185.2 126.8L186.1 121.4L187.0 116.0L187.8 110.8L188.7 105.8L189.6 101.1L190.5 96.6L191.3 92.5L192.2 88.7L193.1 85.3L194.0 82.3L194.9 79.5L195.7 77.1L196.6 74.9L197.5 73.0L198.4 71.4L199.2 70.1L200.1 69.0L201.0 68.1L201.9 67.4L202.7 66.8L203.6 66.3L204.5 65.9L205.4 65.5L206.3 65.3L207.1 65.1L208.0 64.9L208.9 64.8L209.8 64.6L210.6 64.6L211.5 64.5L212.4 64.4L213.3 64.3L214.2 64.3L215.0 64.2L215.9 64.2L216.8 64.1L217.7 64.1L218.5 64.0L219.4 64.0L220.3 63.9L221.2 63.8L222.0 63.7L222.9 63.6L223.8 63.4L224.7 63.3L225.6 63.1L226.4 62.9L227.3 62.7L228.2 62.5L229.1 62.3L229.9 62.1L230.8 61.8L231.7 61.6L232.6 61.3L233.4 61.1L234.3 60.9L235.2 60.6L236.1 60.4L237.0 60.2L237.8 60.1L238.7 59.9L239.6 59.8L240.5 59.7L241.3 59.6L242.2 59.5L243.1 59.3L244.0 59.2L244.8 59.1L245.7 59.0L246.6 58.9L247.5 58.8L248.4 58.8L249.2 58.7L250.1 58.6L251.0 58.5L251.9 58.4L252.7 58.3L253.6 58.2L254.5 58.1L255.4 58.0L256.3 57.9L257.1 57.8L258.0 57.7L258.9 57.7L259.8 57.6L260.6 57.5L261.5 57.4L262.4 57.3L263.3 57.2L264.1 57.1L265.0 57.0L265.9 56.9L266.8 56.9L267.7 56.8L268.5 56.7L269.4 56.6L270.3 56.5L271.2 56.4L272.0 56.3L272.9 56.2L273.8 56.2L274.7 56.1L275.5 56.1L276.4 56.1L277.3 56.1L278.2 56.2L279.1 56.2L279.9 56.3L280.8 56.4L281.7 56.5L282.6 56.6L283.4 56.7L284.3 56.7L285.2 56.8L286.1 57.0L286.9 57.1L287.8 57.3L288.7 57.4L289.6 57.6L290.5 57.7L291.3 57.7L292.2 57.7L293.1 57.7L294.0 57.8L294.8 57.8L295.7 57.9L296.6 57.9L297.5 57.9L298.4 57.9L299.2 58.0L300.1 58.0L301.0 58.0L301.9 58.0L302.7 58.0L303.6 57.9L304.5 57.9L305.4 57.8L306.2 57.8L307.1 57.7L308.0 57.7" stroke="#ff0000"/>
<path d="M37.9 154.7L38.7 155.6L39.6 156.5L40.5 157.5L41.4 158.5L42.2 159.6L43.1 160.7L44.0 161.8L44.9 163.0L45.7 164.2L46.6 165.4L47.5 166.6L48.4 167.8L49.3 169.1L50.1 170.4L51.0 171.7L51.9 173.0L52.8 174.5L53.6 175.9L54.5 177.1L55.4 178.3L56.3 179.5L57.2 180.5L58.0 181.4L58.9 182.3L59.8 183.1L60.7 183.8L61.5 184.5L62.4 185.1L63.3 185.7L64.2 186.2L65.0 186.7L65.9 187.2L66.8 187.7L67.7 188.2L68.6 188.7L69.4 189.2L70.3 189.7L71.2 190.2L72.1 190.6L72.9 191.1L73.8 191.5L74.7 191.9L75.6 192.3L76.4 192.7L77.3 193.1L78.2 193.4L79.1 193.6L80.0 193.8L80.8 193.9L81.7 194.0L82.6 194.0L83.5 194.0L84.3 194.0L85.2 194.0L86.1 194.0L87.0 193.9L87.8 193.7L88.7 193.4L89.6 193.1L90.5 192.7L91.4 192.1L92.2 191.5L93.1 190.7L94.0 189.8L94.9 188.8L95.7 187.7L96.6 186.5L97.5 185.3L98.4 184.1L99.3 183.0L100.1 181.8L101.0 180.7L101.9 179.5L102.8 178.5L103.6 177.6L104.5 176.7L105.4 175.8L106.3 175.0L107.1 174.3L108.0 173.9L108.9 173.6L109.8 173.4L110.7 173.3L111.5 173.1L112.4 173.1L113.3 173.2L114.2 173.5L115.0 173.9L115.9 174.3L116.8 174.9L117.7 175.6L118.5 176.4L119.4 177.4L120.3 178.3L121.2 179.2L122.1 180.0L122.9 180.8L123.8 181.6L124.7 182.3L125.6 183.0L126.4 183.6L127.3 184.2L128.2 184.7L129.1 185.1L129.9 185.5L130.8 185.8L131.7 186.1L132.6 186.4L133.5 186.7L134.3 187.0L135.2 187.2L136.1 187.5L137.0 187.8L137.8 188.1L138.7 188.3L139.6 188.6L140.5 188.8L141.4 189.1L142.2 189.3L143.1 189.5L144.0 189.7L144.9 189.9L145.7 190.1L146.6 190.2L147.5 190.4L148.4 190.6L149.2 190.8L150.1 191.0L151.0 191.2L151.9 191.4L152.8 191.5L153.6 191.7L154.5 191.9L155.4 192.1L156.3 192.3L157.1 192.6L158.0 192.9L158.9 193.2L159.8 193.4L160.6 193.6L161.5 193.8L162.4 193.9L163.3 193.9L164.2 193.9L165.0 193.8L165.9 193.8L166.8 193.7L167.7 193.5L168.5 193.1L169.4 192.2L170.3 191.1L171.2 189.6L172.0 187.1L172.9 183.8L173.8 180.2L174.7 175.8L175.6 171.2L176.4 166.4L177.3 161.4L178.2 156.2L179.1 150.8L179.9 145.1L180.8 139.2L181.7 133.1L182.6 127.0L183.5 121.0L184.3 115.2L185.2 109.4L186.1 103.8L187.0 98.3L187.8 93.1L188.7 88.2L189.6 83.7L190.5 79.5L191.3 75.7L192.2 72.3L193.1 69.2L194.0 66.4L194.9 64.0L195.7 61.9L196.6 60.1L197.5 58.6L198.4 57.3L199.2 56.3L200.1 55.5L201.0 54.8L201.9 54.2L202.7 53.8L203.6 53.4L204.5 53.1L205.4 52.9L206.3 52.7L207.1 52.6L208.0 52.4L208.9 52.4L209.8 52.3L210.6 52.2L211.5 52.2L212.4 52.1L213.3 52.1L214.2 52.0L215.0 52.0L215.9 52.0L216.8 51.9L217.7 51.9L218.5 51.9L219.4 51.8L220.3 51.8L221.2 51.7L222.0 51.6L222.9 51.5L223.8 51.3L224.7 51.2L225.6 51.0L226.4 50.8L227.3 50.6L228.2 50.5L229.1 50.2L229.9 50.0L230.8 49.8L231.7 49.5L232.6 49.2L233.4 49.0L234.3 48.8L235.2 48.5L236.1 48.3L237.0 48.1L237.8 48.0L238.7 47.9L239.6 47.7L240.5 47.6L241.3 47.5L242.2 47.4L243.1 47.3L244.0 47.2L244.8 47.1L245.7 47.0L246.6 46.9L247.5 46.8L248.4 46.8L249.2 46.7L250.1 46.6L251.0 46.5L251.9 46.5L252.7 46.4L253.6 46.3L254.5 46.2L255.4 46.1L256.3 46.0L257.1 46.0L258.0 45.9L258.9 45.8L259.8 45.7L260.6 45.6L261.5 45.6L262.4 45.5L263.3 45.4L264.1 45.3L265.0 45.2L265.9 45.2L266.8 45.1L267.7 45.0L268.5 44.9L269.4 44.9L270.3 44.8L271.2 44.7L272.0 44.6L272.9 44.5L273.8 44.5L274.7 44.4L275.5 44.4L276.4 44.5L277.3 44.5L278.2 44.6L279.1 44.7L279.9 44.8L280.8 44.9L281.7 45.0L282.6 45.1L283.4 45.2L284.3 45.3L285.2 45.5L286.1 45.6L286.9 45.8L287.8 46.0L288.7 46.2L289.6 46.3L290.5 46.5L291.3 46.5L292.2 46.5L293.1 46.6L294.0 46.6L294.8 46.7L295.7 46.8L296.6 46.8L297.5 46.9L298.4 46.9L299.2 46.9L300.1 47.0L301.0 47.0L301.9 47.0L302.7 47.0L303.6 47.0L304.5 47.0L305.4 46.9L306.2 46.9L307.1 46.8L308.0 46.8" stroke="#0000ff"/>
<path d="M37.9 157.7L38.7 158.6L39.6 159.5L40.5 160.4L41.4 161.4L42.2 162.4L43.1 163.4L44.0 164.5L44.9 165.6L45.7 166.7L46.6 167.8L47.5 169.0L48.4 170.2L49.3 171.4L50.1 172.6L51.0 173.8L51.9 175.1L52.8 176.4L53.6 177.8L54.5 179.0L55.4 180.1L56.3 181.2L57.2 182.2L58.0 183.0L58.9 183.8L59.8 184.6L60.7 185.3L61.5 185.9L62.4 186.5L63.3 187.1L64.2 187.6L65.0 188.1L65.9 188.5L66.8 189.0L67.7 189.4L68.6 189.9L69.4 190.4L70.3 190.8L71.2 191.3L72.1 191.7L72.9 192.2L73.8 192.6L74.7 192.9L75.6 193.3L76.4 193.7L77.3 194.0L78.2 194.3L79.1 194.6L80.0 194.7L80.8 194.8L81.7 194.9L82.6 194.9L83.5 195.0L84.3 194.9L85.2 194.9L86.1 194.9L87.0 194.8L87.8 194.6L88.7 194.4L89.6 194.0L90.5 193.6L91.4 193.1L92.2 192.5L93.1 191.8L94.0 191.0L94.9 190.0L95.7 189.0L96.6 187.8L97.5 186.7L98.4 185.6L99.3 184.5L100.1 183.4L101.0 182.3L101.9 181.2L102.8 180.3L103.6 179.4L104.5 178.5L105.4 177.7L106.3 176.9L107.1 176.3L108.0 175.9L108.9 175.7L109.8 175.5L110.7 175.3L111.5 175.2L112.4 175.1L113.3 175.2L114.2 175.5L115.0 175.9L115.9 176.3L116.8 176.8L117.7 177.5L118.5 178.3L119.4 179.2L120.3 180.1L121.2 180.9L122.1 181.6L122.9 182.4L123.8 183.2L124.7 183.9L125.6 184.5L126.4 185.1L127.3 185.6L128.2 186.1L129.1 186.5L129.9 186.9L130.8 187.2L131.7 187.5L132.6 187.7L133.5 188.0L134.3 188.3L135.2 188.5L136.1 188.8L137.0 189.0L137.8 189.3L138.7 189.6L139.6 189.8L140.5 190.0L141.4 190.2L142.2 190.5L143.1 190.6L144.0 190.8L144.9 191.0L145.7 191.2L146.6 191.4L147.5 191.5L148.4 191.7L149.2 191.9L150.1 192.1L151.0 192.2L151.9 192.4L152.8 192.6L153.6 192.8L154.5 193.0L155.4 193.1L156.3 193.3L157.1 193.6L158.0 193.9L158.9 194.1L159.8 194.4L160.6 194.6L161.5 194.8L162.4 194.8L163.3 194.8L164.2 194.8L165.0 194.7L165.9 194.6L166.8 194.5L167.7 194.2L168.5 193.5L169.4 192.4L170.3 191.0L171.2 188.7L172.0 185.6L172.9 182.2L173.8 178.1L174.7 173.7L175.6 169.2L176.4 164.5L177.3 159.6L178.2 154.4L179.1 149.0L179.9 143.2L180.8 137.3L181.7 131.3L182.6 125.4L183.5 119.7L184.3 114.0L185.2 108.4L186.1 103.0L187.0 97.8L187.8 92.9L188.7 88.4L189.6 84.2L190.5 80.4L191.3 77.0L192.2 73.9L193.1 71.1L194.0 68.7L194.9 66.6L195.7 64.8L196.6 63.3L197.5 62.0L198.4 61.0L199.2 60.2L200.1 59.6L201.0 59.0L201.9 58.6L202.7 58.2L203.6 58.0L204.5 57.8L205.4 57.6L206.3 57.5L207.1 57.4L208.0 57.3L208.9 57.3L209.8 57.2L210.6 57.2L211.5 57.2L212.4 57.2L213.3 57.2L214.2 57.2L215.0 57.2L215.9 57.2L216.8 57.2L217.7 57.2L218.5 57.2L219.4 57.1L220.3 57.1L221.2 57.1L222.0 57.0L222.9 56.9L223.8 56.8L224.7 56.6L225.6 56.5L226.4 56.4L227.3 56.2L228.2 56.1L229.1 55.9L229.9 55.7L230.8 55.5L231.7 55.3L232.6 55.0L233.4 54.8L234.3 54.6L235.2 54.4L236.1 54.3L237.0 54.1L237.8 54.0L238.7 53.9L239.6 53.8L240.5 53.7L241.3 53.6L242.2 53.6L243.1 53.5L244.0 53.4L244.8 53.4L245.7 53.3L246.6 53.2L247.5 53.2L248.4 53.1L249.2 53.1L250.1 53.0L251.0 53.0L251.9 53.0L252.7 52.9L253.6 52.9L254.5 52.8L255.4 52.8L256.3 52.7L257.1 52.6L258.0 52.6L258.9 52.5L259.8 52.5L260.6 52.4L261.5 52.4L262.4 52.3L263.3 52.3L264.1 52.3L265.0 52.2L265.9 52.2L266.8 52.1L267.7 52.1L268.5 52.0L269.4 52.0L270.3 51.9L271.2 51.9L272.0 51.8L272.9 51.8L273.8 51.8L274.7 51.7L275.5 51.8L276.4 51.8L277.3 51.9L278.2 52.0L279.1 52.1L279.9 52.2L280.8 52.4L281.7 52.5L282.6 52.6L283.4 52.8L284.3 52.9L285.2 53.0L286.1 53.2L286.9 53.4L287.8 53.6L288.7 53.8L289.6 54.0L290.5 54.2L291.3 54.2L292.2 54.3L293.1 54.4L294.0 54.5L294.8 54.5L295.7 54.6L296.6 54.7L297.5 54.8L298.4 54.8L299.2 54.9L300.1 55.0L301.0 55.0L301.9 55.1L302.7 55.1L303.6 55.1L304.5 55.1L305.4 55.1L306.2 55.1L307.1 55.1L308.0 55.0" stroke="#0000ff"/>
<path d="M37.9 150.7L38.7 151.7L39.6 152.7L40.5 153.8L41.4 154.9L42.2 156.0L43.1 157.2L44.0 158.4L44.9 159.6L45.7 160.9L46.6 162.2L47.5 163.5L48.4 164.8L49.3 166.2L50.1 167.5L51.0 168.9L51.9 170.4L52.8 171.9L53.6 173.4L54.5 174.8L55.4 176.1L56.3 177.3L57.2 178.4L58.0 179.4L58.9 180.3L59.8 181.1L60.7 181.9L61.5 182.7L62.4 183.3L63.3 183.9L64.2 184.5L65.0 185.0L65.9 185.6L66.8 186.1L67.7 186.6L68.6 187.1L69.4 187.7L70.3 188.2L71.2 188.7L72.1 189.2L72.9 189.7L73.8 190.2L74.7 190.6L75.6 191.0L76.4 191.4L77.3 191.8L78.2 192.1L79.1 192.4L80.0 192.6L80.8 192.7L81.7 192.8L82.6 192.8L83.5 192.9L84.3 192.8L85.2 192.8L86.1 192.8L87.0 192.7L87.8 192.5L88.7 192.2L89.6 191.8L90.5 191.4L91.4 190.8L92.2 190.1L93.1 189.3L94.0 188.4L94.9 187.3L95.7 186.1L96.6 184.8L97.5 183.5L98.4 182.3L99.3 181.0L100.1 179.8L101.0 178.5L101.9 177.3L102.8 176.2L103.6 175.3L104.5 174.3L105.4 173.3L106.3 172.5L107.1 171.8L108.0 171.3L108.9 171.0L109.8 170.8L110.7 170.6L111.5 170.5L112.4 170.4L113.3 170.6L114.2 170.9L115.0 171.3L115.9 171.8L116.8 172.3L117.7 173.1L118.5 174.0L119.4 175.0L120.3 176.0L121.2 176.9L122.1 177.8L122.9 178.7L123.8 179.5L124.7 180.3L125.6 181.1L126.4 181.7L127.3 182.3L128.2 182.9L129.1 183.3L129.9 183.7L130.8 184.1L131.7 184.4L132.6 184.7L133.5 185.0L134.3 185.3L135.2 185.6L136.1 185.9L137.0 186.2L137.8 186.5L138.7 186.7L139.6 187.0L140.5 187.3L141.4 187.5L142.2 187.8L143.1 188.0L144.0 188.2L144.9 188.4L145.7 188.6L146.6 188.8L147.5 189.0L148.4 189.2L149.2 189.4L150.1 189.6L151.0 189.8L151.9 190.0L152.8 190.2L153.6 190.4L154.5 190.6L155.4 190.8L156.3 191.0L157.1 191.3L158.0 191.6L158.9 191.9L159.8 192.2L160.6 192.4L161.5 192.6L162.4 192.7L163.3 192.7L164.2 192.7L165.0 192.6L165.9 192.5L166.8 192.4L167.7 192.3L168.5 191.8L169.4 190.8L170.3 189.6L171.2 188.0L172.0 185.3L172.9 181.7L173.8 177.8L174.7 173.1L175.6 168.1L176.4 162.9L177.3 157.5L178.2 151.8L179.1 145.9L179.9 139.8L180.8 133.3L181.7 126.6L182.6 119.9L183.5 113.3L184.3 106.9L185.2 100.5L186.1 94.2L187.0 88.2L187.8 82.4L188.7 77.0L189.6 71.9L190.5 67.3L191.3 63.1L192.2 59.3L193.1 55.9L194.0 52.9L194.9 50.2L195.7 47.9L196.6 45.9L197.5 44.3L198.4 42.9L199.2 41.8L200.1 40.9L201.0 40.1L201.9 39.5L202.7 39.1L203.6 38.7L204.5 38.4L205.4 38.1L206.3 37.9L207.1 37.8L208.0 37.7L208.9 37.6L209.8 37.5L210.6 37.5L211.5 37.4L212.4 37.4L213.3 37.3L214.2 37.3L215.0 37.3L215.9 37.3L216.8 37.3L217.7 37.2L218.5 37.2L219.4 37.2L220.3 37.1L221.2 37.1L222.0 37.0L222.9 36.8L223.8 36.7L224.7 36.5L225.6 36.4L226.4 36.2L227.3 36.0L228.2 35.8L229.1 35.6L229.9 35.3L230.8 35.1L231.7 34.8L232.6 34.6L233.4 34.3L234.3 34.1L235.2 33.8L236.1 33.6L237.0 33.4L237.8 33.3L238.7 33.1L239.6 33.0L240.5 32.9L241.3 32.8L242.2 32.7L243.1 32.6L244.0 32.5L244.8 32.4L245.7 32.3L246.6 32.3L247.5 32.2L248.4 32.1L249.2 32.0L250.1 32.0L251.0 31.9L251.9 31.8L252.7 31.7L253.6 31.7L254.5 31.6L255.4 31.5L256.3 31.4L257.1 31.4L258.0 31.3L258.9 31.2L259.8 31.1L260.6 31.1L261.5 31.0L262.4 30.9L263.3 30.9L264.1 30.8L265.0 30.7L265.9 30.6L266.8 30.6L267.7 30.5L268.5 30.4L269.4 30.4L270.3 30.3L271.2 30.2L272.0 30.1L272.9 30.1L273.8 30.0L274.7 30.0L275.5 30.0L276.4 30.0L277.3 30.1L278.2 30.2L279.1 30.3L279.9 30.4L280.8 30.6L281.7 30.7L282.6 30.9L283.4 31.0L284.3 31.1L285.2 31.3L286.1 31.5L286.9 31.7L287.8 31.9L288.7 32.1L289.6 32.3L290.5 32.4L291.3 32.5L292.2 32.5L293.1 32.6L294.0 32.7L294.8 32.8L295.7 32.8L296.6 32.9L297.5 33.0L298.4 33.0L299.2 33.1L300.1 33.1L301.0 33.2L301.9 33.2L302.7 33.2L303.6 33.2L304.5 33.2L305.4 33.2L306.2 33.2L307.1 33.1L308.0 33.1" stroke="#0000ff"/>
<path d="M37.9 162.8L38.7 163.6L39.6 164.4L40.5 165.2L41.4 166.1L42.2 167.0L43.1 167.9L44.0 168.9L44.9 169.9L45.7 170.9L46.6 172.0L47.5 173.0L48.4 174.1L49.3 175.1L50.1 176.2L51.0 177.4L51.9 178.5L52.8 179.7L53.6 180.9L54.5 182.0L55.4 183.1L56.3 184.0L57.2 184.9L58.0 185.7L58.9 186.4L59.8 187.1L60.7 187.7L61.5 188.3L62.4 188.9L63.3 189.4L64.2 189.8L65.0 190.2L65.9 190.7L66.8 191.1L67.7 191.5L68.6 191.9L69.4 192.3L70.3 192.8L71.2 193.2L72.1 193.6L72.9 194.0L73.8 194.3L74.7 194.7L75.6 195.0L76.4 195.3L77.3 195.6L78.2 195.9L79.1 196.1L80.0 196.3L80.8 196.4L81.7 196.4L82.6 196.5L83.5 196.5L84.3 196.5L85.2 196.5L86.1 196.4L87.0 196.3L87.8 196.2L88.7 195.9L89.6 195.6L90.5 195.3L91.4 194.9L92.2 194.3L93.1 193.6L94.0 192.9L94.9 192.0L95.7 191.1L96.6 190.0L97.5 189.0L98.4 188.0L99.3 187.0L100.1 186.0L101.0 185.0L101.9 184.1L102.8 183.2L103.6 182.4L104.5 181.6L105.4 180.9L106.3 180.2L107.1 179.6L108.0 179.3L108.9 179.0L109.8 178.8L110.7 178.7L111.5 178.6L112.4 178.6L113.3 178.6L114.2 178.9L115.0 179.2L115.9 179.6L116.8 180.1L117.7 180.7L118.5 181.4L119.4 182.2L120.3 183.0L121.2 183.8L122.1 184.4L122.9 185.1L123.8 185.8L124.7 186.5L125.6 187.1L126.4 187.6L127.3 188.1L128.2 188.5L129.1 188.9L129.9 189.2L130.8 189.5L131.7 189.7L132.6 190.0L133.5 190.2L134.3 190.4L135.2 190.7L136.1 190.9L137.0 191.1L137.8 191.4L138.7 191.6L139.6 191.8L140.5 192.0L141.4 192.2L142.2 192.4L143.1 192.6L144.0 192.8L144.9 192.9L145.7 193.1L146.6 193.2L147.5 193.4L148.4 193.5L149.2 193.7L150.1 193.9L151.0 194.0L151.9 194.2L152.8 194.3L153.6 194.5L154.5 194.7L155.4 194.8L156.3 195.0L157.1 195.3L158.0 195.5L158.9 195.7L159.8 195.9L160.6 196.1L161.5 196.2L162.4 196.3L163.3 196.4L164.2 196.4L165.0 196.4L165.9 196.3L166.8 196.3L167.7 196.2L168.5 196.1L169.4 195.9L170.3 195.5L171.2 194.8L172.0 194.0L172.9 192.6L173.8 190.3L174.7 187.4L175.6 184.3L176.4 180.4L177.3 176.4L178.2 172.2L179.1 167.8L179.9 163.3L180.8 158.5L181.7 153.6L182.6 148.4L183.5 143.1L184.3 137.9L185.2 132.7L186.1 127.5L187.0 122.5L187.8 117.5L188.7 112.8L189.6 108.2L190.5 103.9L191.3 99.9L192.2 96.3L193.1 93.0L194.0 90.0L194.9 87.3L195.7 84.9L196.6 82.8L197.5 81.0L198.4 79.4L199.2 78.1L200.1 77.0L201.0 76.1L201.9 75.3L202.7 74.7L203.6 74.2L204.5 73.8L205.4 73.4L206.3 73.2L207.1 72.9L208.0 72.8L208.9 72.6L209.8 72.5L210.6 72.4L211.5 72.4L212.4 72.3L213.3 72.2L214.2 72.2L215.0 72.1L215.9 72.1L216.8 72.0L217.7 72.0L218.5 71.9L219.4 71.8L220.3 71.8L221.2 71.7L222.0 71.6L222.9 71.4L223.8 71.3L224.7 71.1L225.6 71.0L226.4 70.8L227.3 70.6L228.2 70.4L229.1 70.2L229.9 70.0L230.8 69.8L231.7 69.5L232.6 69.3L233.4 69.0L234.3 68.8L235.2 68.6L236.1 68.4L237.0 68.2L237.8 68.1L238.7 67.9L239.6 67.8L240.5 67.7L241.3 67.6L242.2 67.4L243.1 67.3L244.0 67.2L244.8 67.1L245.7 67.0L246.6 66.9L247.5 66.8L248.4 66.7L249.2 66.7L250.1 66.6L251.0 66.5L251.9 66.4L252.7 66.3L253.6 66.2L254.5 66.1L255.4 66.0L256.3 65.9L257.1 65.8L258.0 65.7L258.9 65.7L259.8 65.6L260.6 65.5L261.5 65.4L262.4 65.3L263.3 65.2L264.1 65.1L265.0 65.0L265.9 64.9L266.8 64.9L267.7 64.8L268.5 64.7L269.4 64.6L270.3 64.5L271.2 64.4L272.0 64.3L272.9 64.2L273.8 64.2L274.7 64.1L275.5 64.1L276.4 64.1L277.3 64.1L278.2 64.1L279.1 64.2L279.9 64.3L280.8 64.3L281.7 64.4L282.6 64.5L283.4 64.6L284.3 64.7L285.2 64.8L286.1 64.9L286.9 65.0L287.8 65.2L288.7 65.3L289.6 65.4L290.5 65.5L291.3 65.6L292.2 65.5L293.1 65.6L294.0 65.6L294.8 65.6L295.7 65.7L296.6 65.7L297.5 65.7L298.4 65.7L299.2 65.7L300.1 65.8L301.0 65.8L301.9 65.8L302.7 65.7L303.6 65.7L304.5 65.7L305.4 65.6L306.2 65.6L307.1 65.5L308.0 65.4" stroke="#0000ff"/>
<path d="M37.9 183.7L38.7 184.2L39.6 184.7L40.5 185.2L41.4 185.7L42.2 186.2L43.1 186.7L44.0 187.3L44.9 187.9L45.7 188.5L46.6 189.1L47.5 189.7L48.4 190.3L49.3 191.0L50.1 191.6L51.0 192.3L51.9 193.0L52.8 193.7L53.6 194.4L54.5 195.0L55.4 195.6L56.3 196.2L57.2 196.7L58.0 197.2L58.9 197.6L59.8 198.0L60.7 198.4L61.5 198.7L62.4 199.0L63.3 199.3L64.2 199.6L65.0 199.9L65.9 200.1L66.8 200.3L67.7 200.6L68.6 200.8L69.4 201.1L70.3 201.3L71.2 201.6L72.1 201.8L72.9 202.0L73.8 202.3L74.7 202.5L75.6 202.6L76.4 202.8L77.3 203.0L78.2 203.2L79.1 203.3L80.0 203.4L80.8 203.5L81.7 203.5L82.6 203.5L83.5 203.5L84.3 203.5L85.2 203.5L86.1 203.5L87.0 203.4L87.8 203.3L88.7 203.2L89.6 203.0L90.5 202.8L91.4 202.6L92.2 202.2L93.1 201.8L94.0 201.4L94.9 200.9L95.7 200.3L96.6 199.7L97.5 199.1L98.4 198.5L99.3 198.0L100.1 197.4L101.0 196.8L101.9 196.2L102.8 195.7L103.6 195.3L104.5 194.8L105.4 194.3L106.3 193.9L107.1 193.6L108.0 193.4L108.9 193.3L109.8 193.2L110.7 193.1L111.5 193.0L112.4 193.0L113.3 193.0L114.2 193.2L115.0 193.4L115.9 193.6L116.8 193.9L117.7 194.2L118.5 194.7L119.4 195.1L120.3 195.6L121.2 196.0L122.1 196.4L122.9 196.9L123.8 197.3L124.7 197.6L125.6 198.0L126.4 198.3L127.3 198.6L128.2 198.8L129.1 199.0L129.9 199.2L130.8 199.4L131.7 199.5L132.6 199.7L133.5 199.8L134.3 200.0L135.2 200.1L136.1 200.2L137.0 200.4L137.8 200.5L138.7 200.7L139.6 200.8L140.5 200.9L141.4 201.0L142.2 201.1L143.1 201.2L144.0 201.3L144.9 201.4L145.7 201.5L146.6 201.6L147.5 201.7L148.4 201.8L149.2 201.9L150.1 202.0L151.0 202.1L151.9 202.2L152.8 202.3L153.6 202.4L154.5 202.5L155.4 202.6L156.3 202.7L157.1 202.8L158.0 202.9L158.9 203.1L159.8 203.2L160.6 203.3L161.5 203.4L162.4 203.4L163.3 203.4L164.2 203.4L165.0 203.4L165.9 203.4L166.8 203.3L167.7 203.2L168.5 203.1L169.4 202.8L170.3 202.4L171.2 201.8L172.0 201.0L172.9 199.6L173.8 197.8L174.7 195.7L175.6 193.2L176.4 190.5L177.3 187.6L178.2 184.4L179.1 180.9L179.9 177.2L180.8 173.1L181.7 168.7L182.6 164.0L183.5 159.3L184.3 154.5L185.2 149.6L186.1 144.7L187.0 139.9L187.8 135.3L188.7 130.8L189.6 126.5L190.5 122.5L191.3 118.8L192.2 115.5L193.1 112.6L194.0 109.9L194.9 107.5L195.7 105.4L196.6 103.6L197.5 102.1L198.4 100.8L199.2 99.8L200.1 98.9L201.0 98.2L201.9 97.7L202.7 97.2L203.6 96.8L204.5 96.5L205.4 96.3L206.3 96.1L207.1 96.0L208.0 95.9L208.9 95.8L209.8 95.7L210.6 95.7L211.5 95.7L212.4 95.6L213.3 95.6L214.2 95.6L215.0 95.6L215.9 95.6L216.8 95.6L217.7 95.6L218.5 95.6L219.4 95.6L220.3 95.5L221.2 95.5L222.0 95.5L222.9 95.4L223.8 95.3L224.7 95.2L225.6 95.1L226.4 95.0L227.3 94.9L228.2 94.8L229.1 94.6L229.9 94.5L230.8 94.3L231.7 94.2L232.6 94.0L233.4 93.8L234.3 93.7L235.2 93.5L236.1 93.4L237.0 93.3L237.8 93.2L238.7 93.1L239.6 93.1L240.5 93.0L241.3 92.9L242.2 92.9L243.1 92.8L244.0 92.8L244.8 92.7L245.7 92.7L246.6 92.6L247.5 92.6L248.4 92.6L249.2 92.5L250.1 92.5L251.0 92.5L251.9 92.4L252.7 92.4L253.6 92.4L254.5 92.3L255.4 92.3L256.3 92.2L257.1 92.2L258.0 92.2L258.9 92.1L259.8 92.1L260.6 92.0L261.5 92.0L262.4 92.0L263.3 91.9L264.1 91.9L265.0 91.9L265.9 91.8L266.8 91.8L267.7 91.8L268.5 91.7L269.4 91.7L270.3 91.7L271.2 91.6L272.0 91.6L272.9 91.5L273.8 91.5L274.7 91.5L275.5 91.5L276.4 91.6L277.3 91.6L278.2 91.7L279.1 91.8L279.9 91.9L280.8 92.0L281.7 92.1L282.6 92.2L283.4 92.3L284.3 92.4L285.2 92.5L286.1 92.7L286.9 92.8L287.8 93.0L288.7 93.1L289.6 93.3L290.5 93.4L291.3 93.4L292.2 93.4L293.1 93.5L294.0 93.6L294.8 93.6L295.7 93.7L296.6 93.8L297.5 93.8L298.4 93.9L299.2 93.9L300.1 94.0L301.0 94.0L301.9 94.0L302.7 94.1L303.6 94.1L304.5 94.1L305.4 94.1L306.2 94.1L307.1 94.0L308.0 94.0" stroke="#0000ff"/>
<path d="M37.9 132.1L38.7 133.2L39.6 134.4L40.5 135.6L41.4 136.8L42.2 138.0L43.1 139.3L44.0 140.6L44.9 142.0L45.7 143.4L46.6 144.9L47.5 146.3L48.4 147.8L49.3 149.4L50.1 151.0L51.0 152.6L51.9 154.4L52.8 156.2L53.6 158.1L54.5 159.8L55.4 161.5L56.3 163.1L57.2 164.6L58.0 165.9L58.9 167.2L59.8 168.4L60.7 169.6L61.5 170.8L62.4 171.9L63.3 172.9L64.2 173.9L65.0 174.8L65.9 175.7L66.8 176.7L67.7 177.6L68.6 178.5L69.4 179.5L70.3 180.4L71.2 181.3L72.1 182.2L72.9 183.0L73.8 183.8L74.7 184.5L75.6 185.2L76.4 185.9L77.3 186.5L78.2 187.1L79.1 187.6L80.0 187.9L80.8 188.1L81.7 188.3L82.6 188.4L83.5 188.5L84.3 188.5L85.2 188.5L86.1 188.4L87.0 188.4L87.8 188.1L88.7 187.7L89.6 187.2L90.5 186.7L91.4 186.0L92.2 185.0L93.1 183.9L94.0 182.8L94.9 181.4L95.7 179.8L96.6 178.1L97.5 176.4L98.4 174.8L99.3 173.2L100.1 171.6L101.0 169.9L101.9 168.4L102.8 166.9L103.6 165.6L104.5 164.4L105.4 163.1L106.3 162.0L107.1 161.1L108.0 160.5L108.9 160.1L109.8 159.8L110.7 159.5L111.5 159.4L112.4 159.3L113.3 159.5L114.2 159.9L115.0 160.4L115.9 161.1L116.8 161.8L117.7 162.8L118.5 164.0L119.4 165.3L120.3 166.6L121.2 167.8L122.1 169.0L122.9 170.1L123.8 171.2L124.7 172.3L125.6 173.2L126.4 174.1L127.3 174.9L128.2 175.6L129.1 176.2L129.9 176.7L130.8 177.2L131.7 177.6L132.6 178.0L133.5 178.4L134.3 178.7L135.2 179.1L136.1 179.5L137.0 179.9L137.8 180.3L138.7 180.7L139.6 181.0L140.5 181.4L141.4 181.7L142.2 182.0L143.1 182.3L144.0 182.6L144.9 182.8L145.7 183.1L146.6 183.3L147.5 183.6L148.4 183.9L149.2 184.1L150.1 184.4L151.0 184.7L151.9 184.9L152.8 185.2L153.6 185.4L154.5 185.7L155.4 186.0L156.3 186.3L157.1 186.7L158.0 187.1L158.9 187.5L159.8 187.8L160.6 188.1L161.5 188.4L162.4 188.5L163.3 188.5L164.2 188.5L165.0 188.4L165.9 188.3L166.8 188.2L167.7 188.0L168.5 187.3L169.4 186.1L170.3 184.6L171.2 182.5L172.0 179.0L172.9 174.4L173.8 169.5L174.7 163.5L175.6 157.3L176.4 151.0L177.3 144.5L178.2 137.8L179.1 131.0L179.9 124.1L180.8 116.9L181.7 109.5L182.6 102.4L183.5 95.6L184.3 88.9L185.2 82.5L186.1 76.2L187.0 70.1L187.8 64.4L188.7 59.0L189.6 54.0L190.5 49.4L191.3 45.3L192.2 41.6L193.1 38.2L194.0 35.2L194.9 32.6L195.7 30.2L196.6 28.3L197.5 26.6L198.4 25.2L199.2 24.1L200.1 23.2L201.0 22.4L201.9 21.8L202.7 21.3L203.6 20.9L204.5 20.6L205.4 20.3L206.3 20.1L207.1 20.0L208.0 19.8L208.9 19.7L209.8 19.7L210.6 19.6L211.5 19.5L212.4 19.5L213.3 19.4L214.2 19.4L215.0 19.3L215.9 19.3L216.8 19.3L217.7 19.2L218.5 19.2L219.4 19.1L220.3 19.0L221.2 18.9L222.0 18.8L222.9 18.7L223.8 18.5L224.7 18.3L225.6 18.1L226.4 17.9L227.3 17.6L228.2 17.4L229.1 17.1L229.9 16.8L230.8 16.5L231.7 16.2L232.6 15.9L233.4 15.6L234.3 15.3L235.2 15.1L236.1 14.8L237.0 14.6L237.8 14.4L238.7 14.2L239.6 14.1L240.5 13.9L241.3 13.8L242.2 13.6L243.1 13.5L244.0 13.4L244.8 13.3L245.7 13.2L246.6 13.1L247.5 13.0L248.4 12.9L249.2 12.8L250.1 12.7L251.0 12.6L251.9 12.5L252.7 12.4L253.6 12.3L254.5 12.2L255.4 12.1L256.3 11.9L257.1 11.8L258.0 11.7L258.9 11.6L259.8 11.5L260.6 11.4L261.5 11.3L262.4 11.2L263.3 11.1L264.1 11.0L265.0 10.9L265.9 10.8L266.8 10.7L267.7 10.7L268.5 10.6L269.4 10.5L270.3 10.3L271.2 10.2L272.0 10.1L272.9 10.0L273.8 10.0L274.7 9.9L275.5 9.9L276.4 9.9L277.3 10.0L278.2 10.1L279.1 10.2L279.9 10.3L280.8 10.4L281.7 10.6L282.6 10.7L283.4 10.8L284.3 10.9L285.2 11.1L286.1 11.3L286.9 11.5L287.8 11.7L288.7 11.9L289.6 12.1L290.5 12.3L291.3 12.3L292.2 12.3L293.1 12.4L294.0 12.5L294.8 12.5L295.7 12.6L296.6 12.7L297.5 12.7L298.4 12.7L299.2 12.8L300.1 12.8L301.0 12.9L301.9 12.9L302.7 12.9L303.6 12.8L304.5 12.8L305.4 12.8L306.2 12.7L307.1 12.6L308.0 12.6" stroke="#0000ff"/>
<path d="M37.9 157.2L38.7 158.1L39.6 159.0L40.5 159.9L41.4 160.9L42.2 161.9L43.1 162.9L44.0 164.0L44.9 165.1L45.7 166.3L46.6 167.4L47.5 168.6L48.4 169.8L49.3 171.0L50.1 172.2L51.0 173.4L51.9 174.7L52.8 176.1L53.6 177.4L54.5 178.6L55.4 179.8L56.3 180.9L57.2 181.9L58.0 182.7L58.9 183.6L59.8 184.3L60.7 185.0L61.5 185.7L62.4 186.3L63.3 186.8L64.2 187.3L65.0 187.8L65.9 188.3L66.8 188.8L67.7 189.2L68.6 189.7L69.4 190.2L70.3 190.6L71.2 191.1L72.1 191.5L72.9 192.0L73.8 192.4L74.7 192.8L75.6 193.1L76.4 193.5L77.3 193.9L78.2 194.2L79.1 194.4L80.0 194.6L80.8 194.7L81.7 194.7L82.6 194.8L83.5 194.8L84.3 194.8L85.2 194.8L86.1 194.7L87.0 194.6L87.8 194.5L88.7 194.2L89.6 193.9L90.5 193.5L91.4 193.0L92.2 192.3L93.1 191.6L94.0 190.8L94.9 189.8L95.7 188.7L96.6 187.6L97.5 186.4L98.4 185.3L99.3 184.3L100.1 183.1L101.0 182.0L101.9 180.9L102.8 180.0L103.6 179.1L104.5 178.2L105.4 177.4L106.3 176.6L107.1 176.0L108.0 175.6L108.9 175.3L109.8 175.1L110.7 174.9L111.5 174.8L112.4 174.8L113.3 174.9L114.2 175.2L115.0 175.5L115.9 176.0L116.8 176.5L117.7 177.1L118.5 178.0L119.4 178.9L120.3 179.8L121.2 180.6L122.1 181.4L122.9 182.1L123.8 182.9L124.7 183.6L125.6 184.3L126.4 184.9L127.3 185.4L128.2 185.9L129.1 186.3L129.9 186.6L130.8 187.0L131.7 187.2L132.6 187.5L133.5 187.8L134.3 188.0L135.2 188.3L136.1 188.6L137.0 188.8L137.8 189.1L138.7 189.3L139.6 189.6L140.5 189.8L141.4 190.0L142.2 190.2L143.1 190.4L144.0 190.6L144.9 190.8L145.7 191.0L146.6 191.2L147.5 191.3L148.4 191.5L149.2 191.7L150.1 191.9L151.0 192.1L151.9 192.2L152.8 192.4L153.6 192.6L154.5 192.8L155.4 193.0L156.3 193.2L157.1 193.4L158.0 193.7L158.9 194.0L159.8 194.2L160.6 194.4L161.5 194.6L162.4 194.7L163.3 194.7L164.2 194.6L165.0 194.6L165.9 194.5L166.8 194.3L167.7 194.0L168.5 193.2L169.4 192.1L170.3 190.7L171.2 188.2L172.0 185.0L172.9 181.5L173.8 177.3L174.7 172.9L175.6 168.2L176.4 163.4L177.3 158.3L178.2 153.0L179.1 147.5L179.9 141.6L180.8 135.5L181.7 129.5L182.6 123.5L183.5 117.7L184.3 112.0L185.2 106.4L186.1 101.0L187.0 95.8L187.8 90.9L188.7 86.3L189.6 82.1L190.5 78.3L191.3 74.9L192.2 71.8L193.1 69.1L194.0 66.7L194.9 64.5L195.7 62.7L196.6 61.2L197.5 59.9L198.4 58.9L199.2 58.0L200.1 57.3L201.0 56.7L201.9 56.3L202.7 55.9L203.6 55.6L204.5 55.3L205.4 55.1L206.3 55.0L207.1 54.8L208.0 54.7L208.9 54.6L209.8 54.5L210.6 54.5L211.5 54.4L212.4 54.3L213.3 54.3L214.2 54.2L215.0 54.2L215.9 54.1L216.8 54.1L217.7 54.0L218.5 54.0L219.4 53.9L220.3 53.8L221.2 53.7L222.0 53.6L222.9 53.5L223.8 53.3L224.7 53.1L225.6 52.9L226.4 52.7L227.3 52.5L228.2 52.3L229.1 52.1L229.9 51.8L230.8 51.6L231.7 51.3L232.6 51.0L233.4 50.7L234.3 50.5L235.2 50.2L236.1 50.0L237.0 49.8L237.8 49.6L238.7 49.5L239.6 49.3L240.5 49.2L241.3 49.1L242.2 48.9L243.1 48.8L244.0 48.7L244.8 48.6L245.7 48.5L246.6 48.4L247.5 48.3L248.4 48.2L249.2 48.1L250.1 48.0L251.0 47.9L251.9 47.8L252.7 47.7L253.6 47.6L254.5 47.5L255.4 47.4L256.3 47.2L257.1 47.1L258.0 47.0L258.9 46.9L259.8 46.8L260.6 46.7L261.5 46.6L262.4 46.5L263.3 46.4L264.1 46.3L265.0 46.2L265.9 46.1L266.8 46.0L267.7 45.9L268.5 45.8L269.4 45.7L270.3 45.6L271.2 45.5L272.0 45.4L272.9 45.3L273.8 45.3L274.7 45.2L275.5 45.2L276.4 45.1L277.3 45.2L278.2 45.2L279.1 45.3L279.9 45.4L280.8 45.5L281.7 45.6L282.6 45.7L283.4 45.7L284.3 45.8L285.2 45.9L286.1 46.1L286.9 46.2L287.8 46.4L288.7 46.6L289.6 46.7L290.5 46.8L291.3 46.8L292.2 46.8L293.1 46.8L294.0 46.9L294.8 46.9L295.7 47.0L296.6 47.0L297.5 47.0L298.4 47.0L299.2 47.0L300.1 47.1L301.0 47.1L301.9 47.1L302.7 47.0L303.6 47.0L304.5 46.9L305.4 46.9L306.2 46.8L307.1 46.8L308.0 46.7" stroke="#0000ff"/>
<path d="M37.9 158.2L38.7 159.1L39.6 160.0L40.5 160.9L41.4 161.9L42.2 162.9L43.1 163.9L44.0 164.9L44.9 166.0L45.7 167.1L46.6 168.3L47.5 169.4L48.4 170.6L49.3 171.8L50.1 173.0L51.0 174.2L51.9 175.4L52.8 176.8L53.6 178.1L54.5 179.3L55.4 180.4L56.3 181.5L57.2 182.4L58.0 183.3L58.9 184.1L59.8 184.8L60.7 185.5L61.5 186.2L62.4 186.8L63.3 187.3L64.2 187.8L65.0 188.3L65.9 188.7L66.8 189.2L67.7 189.6L68.6 190.1L69.4 190.6L70.3 191.0L71.2 191.5L72.1 191.9L72.9 192.4L73.8 192.8L74.7 193.1L75.6 193.5L76.4 193.8L77.3 194.2L78.2 194.5L79.1 194.7L80.0 194.9L80.8 195.0L81.7 195.1L82.6 195.1L83.5 195.1L84.3 195.1L85.2 195.1L86.1 195.0L87.0 195.0L87.8 194.8L88.7 194.5L89.6 194.2L90.5 193.8L91.4 193.3L92.2 192.7L93.1 192.0L94.0 191.2L94.9 190.2L95.7 189.2L96.6 188.1L97.5 186.9L98.4 185.8L99.3 184.8L100.1 183.7L101.0 182.6L101.9 181.5L102.8 180.6L103.6 179.7L104.5 178.9L105.4 178.0L106.3 177.3L107.1 176.7L108.0 176.3L108.9 176.0L109.8 175.8L110.7 175.6L111.5 175.5L112.4 175.5L113.3 175.6L114.2 175.9L115.0 176.2L115.9 176.7L116.8 177.1L117.7 177.8L118.5 178.6L119.4 179.5L120.3 180.4L121.2 181.2L122.1 181.9L122.9 182.7L123.8 183.4L124.7 184.1L125.6 184.8L126.4 185.4L127.3 185.9L128.2 186.4L129.1 186.8L129.9 187.1L130.8 187.4L131.7 187.7L132.6 188.0L133.5 188.2L134.3 188.5L135.2 188.7L136.1 189.0L137.0 189.3L137.8 189.5L138.7 189.8L139.6 190.0L140.5 190.2L141.4 190.5L142.2 190.7L143.1 190.8L144.0 191.0L144.9 191.2L145.7 191.4L146.6 191.6L147.5 191.7L148.4 191.9L149.2 192.1L150.1 192.3L151.0 192.4L151.9 192.6L152.8 192.8L153.6 193.0L154.5 193.1L155.4 193.3L156.3 193.5L157.1 193.8L158.0 194.0L158.9 194.3L159.8 194.5L160.6 194.7L161.5 194.9L162.4 195.0L163.3 195.0L164.2 195.0L165.0 194.9L165.9 194.8L166.8 194.7L167.7 194.6L168.5 194.0L169.4 193.1L170.3 192.0L171.2 190.2L172.0 187.6L172.9 184.3L173.8 180.8L174.7 176.5L175.6 172.0L176.4 167.4L177.3 162.6L178.2 157.6L179.1 152.3L179.9 146.8L180.8 140.9L181.7 134.9L182.6 129.0L183.5 123.3L184.3 117.5L185.2 111.9L186.1 106.4L187.0 101.1L187.8 96.1L188.7 91.4L189.6 87.0L190.5 83.0L191.3 79.4L192.2 76.1L193.1 73.2L194.0 70.6L194.9 68.3L195.7 66.3L196.6 64.6L197.5 63.2L198.4 62.1L199.2 61.1L200.1 60.4L201.0 59.8L201.9 59.3L202.7 58.9L203.6 58.5L204.5 58.3L205.4 58.1L206.3 57.9L207.1 57.8L208.0 57.7L208.9 57.6L209.8 57.5L210.6 57.5L211.5 57.4L212.4 57.4L213.3 57.4L214.2 57.3L215.0 57.3L215.9 57.3L216.8 57.3L217.7 57.2L218.5 57.2L219.4 57.2L220.3 57.1L221.2 57.1L222.0 57.0L222.9 56.8L223.8 56.7L224.7 56.5L225.6 56.4L226.4 56.2L227.3 56.1L228.2 55.9L229.1 55.7L229.9 55.5L230.8 55.2L231.7 55.0L232.6 54.7L233.4 54.5L234.3 54.3L235.2 54.1L236.1 53.9L237.0 53.7L237.8 53.6L238.7 53.4L239.6 53.3L240.5 53.2L241.3 53.1L242.2 53.0L243.1 52.9L244.0 52.8L244.8 52.8L245.7 52.7L246.6 52.6L247.5 52.5L248.4 52.4L249.2 52.4L250.1 52.3L251.0 52.2L251.9 52.2L252.7 52.1L253.6 52.0L254.5 51.9L255.4 51.9L256.3 51.8L257.1 51.7L258.0 51.6L258.9 51.6L259.8 51.5L260.6 51.4L261.5 51.4L262.4 51.3L263.3 51.2L264.1 51.1L265.0 51.1L265.9 51.0L266.8 50.9L267.7 50.9L268.5 50.8L269.4 50.7L270.3 50.7L271.2 50.6L272.0 50.5L272.9 50.4L273.8 50.4L274.7 50.4L275.5 50.4L276.4 50.4L277.3 50.4L278.2 50.5L279.1 50.6L279.9 50.7L280.8 50.8L281.7 50.9L282.6 51.1L283.4 51.2L284.3 51.3L285.2 51.4L286.1 51.6L286.9 51.7L287.8 51.9L288.7 52.1L289.6 52.3L290.5 52.4L291.3 52.5L292.2 52.5L293.1 52.5L294.0 52.6L294.8 52.7L295.7 52.7L296.6 52.8L297.5 52.8L298.4 52.9L299.2 52.9L300.1 53.0L301.0 53.0L301.9 53.0L302.7 53.0L303.6 53.0L304.5 53.0L305.4 52.9L306.2 52.9L307.1 52.9L308.0 52.8" stroke="#0000ff"/>
<path d="M37.9 152.0L38.7 152.9L39.6 153.9L40.5 155.0L41.4 156.0L42.2 157.1L43.1 158.3L44.0 159.4L44.9 160.7L45.7 161.9L46.6 163.2L47.5 164.5L48.4 165.8L49.3 167.1L50.1 168.4L51.0 169.8L51.9 171.2L52.8 172.7L53.6 174.2L54.5 175.5L55.4 176.8L56.3 178.0L57.2 179.0L58.0 180.0L58.9 180.9L59.8 181.7L60.7 182.5L61.5 183.2L62.4 183.9L63.3 184.5L64.2 185.0L65.0 185.6L65.9 186.1L66.8 186.6L67.7 187.1L68.6 187.6L69.4 188.1L70.3 188.6L71.2 189.2L72.1 189.7L72.9 190.1L73.8 190.6L74.7 191.0L75.6 191.4L76.4 191.8L77.3 192.2L78.2 192.5L79.1 192.8L80.0 193.0L80.8 193.1L81.7 193.2L82.6 193.2L83.5 193.2L84.3 193.2L85.2 193.2L86.1 193.1L87.0 193.1L87.8 192.9L88.7 192.6L89.6 192.2L90.5 191.8L91.4 191.2L92.2 190.5L93.1 189.7L94.0 188.8L94.9 187.8L95.7 186.6L96.6 185.3L97.5 184.1L98.4 182.9L99.3 181.7L100.1 180.4L101.0 179.2L101.9 178.0L102.8 177.0L103.6 176.0L104.5 175.0L105.4 174.1L106.3 173.3L107.1 172.6L108.0 172.1L108.9 171.9L109.8 171.6L110.7 171.4L111.5 171.3L112.4 171.3L113.3 171.4L114.2 171.7L115.0 172.1L115.9 172.6L116.8 173.1L117.7 173.9L118.5 174.8L119.4 175.8L120.3 176.7L121.2 177.6L122.1 178.5L122.9 179.3L123.8 180.2L124.7 181.0L125.6 181.7L126.4 182.3L127.3 182.9L128.2 183.4L129.1 183.9L129.9 184.3L130.8 184.6L131.7 184.9L132.6 185.2L133.5 185.5L134.3 185.8L135.2 186.1L136.1 186.4L137.0 186.7L137.8 187.0L138.7 187.2L139.6 187.5L140.5 187.8L141.4 188.0L142.2 188.2L143.1 188.4L144.0 188.7L144.9 188.9L145.7 189.0L146.6 189.2L147.5 189.4L148.4 189.6L149.2 189.8L150.1 190.0L151.0 190.2L151.9 190.4L152.8 190.6L153.6 190.8L154.5 191.0L155.4 191.2L156.3 191.4L157.1 191.7L158.0 192.0L158.9 192.3L159.8 192.6L160.6 192.8L161.5 193.0L162.4 193.1L163.3 193.1L164.2 193.1L165.0 193.0L165.9 193.0L166.8 192.8L167.7 192.7L168.5 192.2L169.4 191.3L170.3 190.1L171.2 188.5L172.0 185.9L172.9 182.4L173.8 178.7L174.7 174.2L175.6 169.5L176.4 164.7L177.3 159.8L178.2 154.8L179.1 149.6L179.9 144.3L180.8 138.8L181.7 133.2L182.6 127.8L183.5 122.6L184.3 117.5L185.2 112.5L186.1 107.7L187.0 103.0L187.8 98.6L188.7 94.5L189.6 90.6L190.5 87.1L191.3 84.0L192.2 81.1L193.1 78.5L194.0 76.2L194.9 74.1L195.7 72.3L196.6 70.8L197.5 69.5L198.4 68.4L199.2 67.5L200.1 66.8L201.0 66.2L201.9 65.7L202.7 65.3L203.6 64.9L204.5 64.7L205.4 64.4L206.3 64.3L207.1 64.1L208.0 64.0L208.9 63.9L209.8 63.8L210.6 63.7L211.5 63.6L212.4 63.5L213.3 63.5L214.2 63.4L215.0 63.4L215.9 63.3L216.8 63.2L217.7 63.2L218.5 63.1L219.4 63.0L220.3 62.9L221.2 62.8L222.0 62.7L222.9 62.6L223.8 62.4L224.7 62.2L225.6 62.0L226.4 61.8L227.3 61.6L228.2 61.4L229.1 61.2L229.9 60.9L230.8 60.7L231.7 60.4L232.6 60.1L233.4 59.8L234.3 59.6L235.2 59.3L236.1 59.1L237.0 58.9L237.8 58.7L238.7 58.6L239.6 58.4L240.5 58.3L241.3 58.1L242.2 58.0L243.1 57.9L244.0 57.8L244.8 57.6L245.7 57.5L246.6 57.4L247.5 57.3L248.4 57.2L249.2 57.1L250.1 57.0L251.0 56.9L251.9 56.7L252.7 56.6L253.6 56.5L254.5 56.4L255.4 56.3L256.3 56.2L257.1 56.1L258.0 56.0L258.9 55.8L259.8 55.7L260.6 55.6L261.5 55.5L262.4 55.4L263.3 55.3L264.1 55.2L265.0 55.1L265.9 55.0L266.8 54.9L267.7 54.8L268.5 54.7L269.4 54.6L270.3 54.4L271.2 54.3L272.0 54.2L272.9 54.1L273.8 54.0L274.7 53.9L275.5 53.9L276.4 53.9L277.3 53.9L278.2 53.9L279.1 54.0L279.9 54.0L280.8 54.1L281.7 54.2L282.6 54.3L283.4 54.3L284.3 54.4L285.2 54.5L286.1 54.6L286.9 54.7L287.8 54.9L288.7 55.0L289.6 55.1L290.5 55.2L291.3 55.2L292.2 55.2L293.1 55.2L294.0 55.3L294.8 55.3L295.7 55.3L296.6 55.3L297.5 55.3L298.4 55.3L299.2 55.3L300.1 55.3L301.0 55.3L301.9 55.3L302.7 55.3L303.6 55.2L304.5 55.2L305.4 55.1L306.2 55.0L307.1 54.9L308.0 54.8" stroke="#0000ff"/>
<path d="M37.9 168.3L38.7 169.1L39.6 169.8L40.5 170.6L41.4 171.5L42.2 172.3L43.1 173.2L44.0 174.1L44.9 175.1L45.7 176.0L46.6 177.0L47.5 178.0L48.4 179.0L49.3 180.1L50.1 181.1L51.0 182.2L51.9 183.2L52.8 184.4L53.6 185.6L54.5 186.6L55.4 187.6L56.3 188.5L57.2 189.3L58.0 190.1L58.9 190.8L59.8 191.4L60.7 192.0L61.5 192.6L62.4 193.1L63.3 193.6L64.2 194.0L65.0 194.4L65.9 194.8L66.8 195.2L67.7 195.6L68.6 196.0L69.4 196.4L70.3 196.8L71.2 197.2L72.1 197.6L72.9 197.9L73.8 198.3L74.7 198.6L75.6 198.9L76.4 199.2L77.3 199.5L78.2 199.8L79.1 200.0L80.0 200.2L80.8 200.2L81.7 200.3L82.6 200.3L83.5 200.3L84.3 200.3L85.2 200.3L86.1 200.3L87.0 200.2L87.8 200.1L88.7 199.8L89.6 199.5L90.5 199.2L91.4 198.8L92.2 198.2L93.1 197.6L94.0 196.9L94.9 196.1L95.7 195.2L96.6 194.2L97.5 193.2L98.4 192.3L99.3 191.4L100.1 190.4L101.0 189.5L101.9 188.5L102.8 187.7L103.6 187.0L104.5 186.2L105.4 185.5L106.3 184.8L107.1 184.3L108.0 184.0L108.9 183.8L109.8 183.6L110.7 183.4L111.5 183.3L112.4 183.3L113.3 183.4L114.2 183.6L115.0 183.9L115.9 184.3L116.8 184.7L117.7 185.3L118.5 186.0L119.4 186.8L120.3 187.5L121.2 188.2L122.1 188.9L122.9 189.6L123.8 190.2L124.7 190.8L125.6 191.4L126.4 191.9L127.3 192.3L128.2 192.7L129.1 193.1L129.9 193.4L130.8 193.7L131.7 193.9L132.6 194.1L133.5 194.3L134.3 194.6L135.2 194.8L136.1 195.0L137.0 195.3L137.8 195.5L138.7 195.7L139.6 195.9L140.5 196.1L141.4 196.3L142.2 196.5L143.1 196.6L144.0 196.8L144.9 196.9L145.7 197.1L146.6 197.2L147.5 197.4L148.4 197.5L149.2 197.7L150.1 197.8L151.0 198.0L151.9 198.1L152.8 198.3L153.6 198.5L154.5 198.6L155.4 198.8L156.3 198.9L157.1 199.2L158.0 199.4L158.9 199.6L159.8 199.8L160.6 200.0L161.5 200.1L162.4 200.2L163.3 200.2L164.2 200.2L165.0 200.2L165.9 200.1L166.8 200.1L167.7 200.0L168.5 199.8L169.4 199.4L170.3 198.7L171.2 197.8L172.0 196.7L172.9 194.6L173.8 191.9L174.7 188.9L175.6 185.4L176.4 181.7L177.3 177.8L178.2 173.9L179.1 169.8L179.9 165.6L180.8 161.3L181.7 156.7L182.6 152.1L183.5 147.6L184.3 143.1L185.2 138.8L186.1 134.5L187.0 130.4L187.8 126.4L188.7 122.6L189.6 119.0L190.5 115.7L191.3 112.7L192.2 110.0L193.1 107.5L194.0 105.3L194.9 103.3L195.7 101.6L196.6 100.1L197.5 98.8L198.4 97.7L199.2 96.8L200.1 96.1L201.0 95.5L201.9 95.0L202.7 94.7L203.6 94.3L204.5 94.1L205.4 93.9L206.3 93.8L207.1 93.6L208.0 93.6L208.9 93.5L209.8 93.5L210.6 93.4L211.5 93.4L212.4 93.4L213.3 93.4L214.2 93.4L215.0 93.4L215.9 93.4L216.8 93.4L217.7 93.4L218.5 93.4L219.4 93.3L220.3 93.3L221.2 93.3L222.0 93.2L222.9 93.2L223.8 93.1L224.7 93.0L225.6 92.9L226.4 92.8L227.3 92.6L228.2 92.5L229.1 92.4L229.9 92.2L230.8 92.1L231.7 91.9L232.6 91.7L233.4 91.6L234.3 91.4L235.2 91.3L236.1 91.1L237.0 91.0L237.8 90.9L238.7 90.9L239.6 90.8L240.5 90.7L241.3 90.7L242.2 90.6L243.1 90.6L244.0 90.5L244.8 90.5L245.7 90.4L246.6 90.4L247.5 90.3L248.4 90.3L249.2 90.3L250.1 90.2L251.0 90.2L251.9 90.1L252.7 90.1L253.6 90.1L254.5 90.0L255.4 90.0L256.3 90.0L257.1 89.9L258.0 89.9L258.9 89.8L259.8 89.8L260.6 89.8L261.5 89.7L262.4 89.7L263.3 89.7L264.1 89.6L265.0 89.6L265.9 89.5L266.8 89.5L267.7 89.5L268.5 89.4L269.4 89.4L270.3 89.4L271.2 89.3L272.0 89.3L272.9 89.3L273.8 89.2L274.7 89.2L275.5 89.2L276.4 89.3L277.3 89.3L278.2 89.4L279.1 89.5L279.9 89.6L280.8 89.7L281.7 89.8L282.6 89.9L283.4 90.0L284.3 90.1L285.2 90.2L286.1 90.4L286.9 90.5L287.8 90.7L288.7 90.9L289.6 91.0L290.5 91.1L291.3 91.2L292.2 91.2L293.1 91.3L294.0 91.3L294.8 91.4L295.7 91.5L296.6 91.5L297.5 91.6L298.4 91.6L299.2 91.7L300.1 91.7L301.0 91.8L301.9 91.8L302.7 91.8L303.6 91.8L304.5 91.8L305.4 91.8L306.2 91.8L307.1 91.8L308.0 91.8" stroke="#0000ff"/>
<path d="M37.9 157.7L38.7 158.6L39.6 159.5L40.5 160.4L41.4 161.4L42.2 162.4L43.1 163.4L44.0 164.4L44.9 165.5L45.7 166.7L46.6 167.8L47.5 169.0L48.4 170.2L49.3 171.3L50.1 172.6L51.0 173.8L51.9 175.1L52.8 176.4L53.6 177.8L54.5 179.0L55.4 180.1L56.3 181.2L57.2 182.1L58.0 183.0L58.9 183.8L59.8 184.6L60.7 185.3L61.5 185.9L62.4 186.5L63.3 187.1L64.2 187.6L65.0 188.0L65.9 188.5L66.8 189.0L67.7 189.4L68.6 189.9L69.4 190.4L70.3 190.8L71.2 191.3L72.1 191.7L72.9 192.2L73.8 192.6L74.7 192.9L75.6 193.3L76.4 193.7L77.3 194.0L78.2 194.3L79.1 194.6L80.0 194.7L80.8 194.8L81.7 194.9L82.6 194.9L83.5 194.9L84.3 194.9L85.2 194.9L86.1 194.9L87.0 194.8L87.8 194.6L88.7 194.4L89.6 194.0L90.5 193.6L91.4 193.1L92.2 192.5L93.1 191.8L94.0 191.0L94.9 190.0L95.7 188.9L96.6 187.8L97.5 186.7L98.4 185.6L99.3 184.5L100.1 183.4L101.0 182.3L101.9 181.2L102.8 180.3L103.6 179.4L104.5 178.5L105.4 177.7L106.3 176.9L107.1 176.3L108.0 175.9L108.9 175.7L109.8 175.4L110.7 175.3L111.5 175.2L112.4 175.1L113.3 175.2L114.2 175.5L115.0 175.9L115.9 176.3L116.8 176.8L117.7 177.5L118.5 178.3L119.4 179.2L120.3 180.1L121.2 180.9L122.1 181.6L122.9 182.4L123.8 183.2L124.7 183.9L125.6 184.5L126.4 185.1L127.3 185.6L128.2 186.1L129.1 186.5L129.9 186.9L130.8 187.2L131.7 187.5L132.6 187.7L133.5 188.0L134.3 188.2L135.2 188.5L136.1 188.8L137.0 189.0L137.8 189.3L138.7 189.5L139.6 189.8L140.5 190.0L141.4 190.2L142.2 190.4L143.1 190.6L144.0 190.8L144.9 191.0L145.7 191.2L146.6 191.4L147.5 191.5L148.4 191.7L149.2 191.9L150.1 192.1L151.0 192.2L151.9 192.4L152.8 192.6L153.6 192.8L154.5 192.9L155.4 193.1L156.3 193.3L157.1 193.6L158.0 193.9L158.9 194.1L159.8 194.4L160.6 194.6L161.5 194.7L162.4 194.8L163.3 194.8L164.2 194.8L165.0 194.7L165.9 194.6L166.8 194.5L167.7 194.3L168.5 193.7L169.4 192.7L170.3 191.4L171.2 189.4L172.0 186.6L172.9 183.2L173.8 179.4L174.7 175.0L175.6 170.4L176.4 165.7L177.3 160.8L178.2 155.6L179.1 150.2L179.9 144.4L180.8 138.4L181.7 132.3L182.6 126.2L183.5 120.3L184.3 114.5L185.2 108.7L186.1 103.1L187.0 97.7L187.8 92.6L188.7 87.8L189.6 83.4L190.5 79.4L191.3 75.7L192.2 72.5L193.1 69.5L194.0 67.0L194.9 64.7L195.7 62.7L196.6 61.1L197.5 59.7L198.4 58.6L199.2 57.7L200.1 57.0L201.0 56.4L201.9 55.9L202.7 55.5L203.6 55.2L204.5 55.0L205.4 54.8L206.3 54.7L207.1 54.6L208.0 54.5L208.9 54.4L209.8 54.4L210.6 54.3L211.5 54.3L212.4 54.3L213.3 54.3L214.2 54.3L215.0 54.3L215.9 54.2L216.8 54.2L217.7 54.2L218.5 54.2L219.4 54.2L220.3 54.2L221.2 54.1L222.0 54.0L222.9 53.9L223.8 53.8L224.7 53.7L225.6 53.5L226.4 53.4L227.3 53.2L228.2 53.1L229.1 52.9L229.9 52.6L230.8 52.4L231.7 52.2L232.6 52.0L233.4 51.8L234.3 51.5L235.2 51.3L236.1 51.2L237.0 51.0L237.8 50.9L238.7 50.8L239.6 50.7L240.5 50.6L241.3 50.5L242.2 50.4L243.1 50.3L244.0 50.3L244.8 50.2L245.7 50.1L246.6 50.1L247.5 50.0L248.4 49.9L249.2 49.9L250.1 49.8L251.0 49.8L251.9 49.7L252.7 49.7L253.6 49.6L254.5 49.6L255.4 49.5L256.3 49.4L257.1 49.4L258.0 49.3L258.9 49.3L259.8 49.2L260.6 49.1L261.5 49.1L262.4 49.0L263.3 49.0L264.1 48.9L265.0 48.9L265.9 48.8L266.8 48.8L267.7 48.7L268.5 48.7L269.4 48.6L270.3 48.6L271.2 48.5L272.0 48.4L272.9 48.4L273.8 48.4L274.7 48.3L275.5 48.4L276.4 48.4L277.3 48.5L278.2 48.6L279.1 48.7L279.9 48.8L280.8 48.9L281.7 49.1L282.6 49.2L283.4 49.3L284.3 49.5L285.2 49.6L286.1 49.8L286.9 50.0L287.8 50.2L288.7 50.4L289.6 50.6L290.5 50.7L291.3 50.8L292.2 50.8L293.1 50.9L294.0 51.0L294.8 51.1L295.7 51.1L296.6 51.2L297.5 51.3L298.4 51.3L299.2 51.4L300.1 51.5L301.0 51.5L301.9 51.5L302.7 51.6L303.6 51.6L304.5 51.6L305.4 51.6L306.2 51.5L307.1 51.5L308.0 51.5" stroke="#0000ff"/>
<path d="M37.9 155.6L38.7 156.5L39.6 157.4L40.5 158.4L41.4 159.4L42.2 160.4L43.1 161.5L44.0 162.6L44.9 163.7L45.7 164.9L46.6 166.1L47.5 167.3L48.4 168.5L49.3 169.8L50.1 171.0L51.0 172.3L51.9 173.6L52.8 175.0L53.6 176.4L54.5 177.7L55.4 178.9L56.3 180.0L57.2 181.0L58.0 181.9L58.9 182.7L59.8 183.5L60.7 184.3L61.5 184.9L62.4 185.5L63.3 186.1L64.2 186.6L65.0 187.1L65.9 187.6L66.8 188.1L67.7 188.6L68.6 189.0L69.4 189.5L70.3 190.0L71.2 190.5L72.1 191.0L72.9 191.4L73.8 191.8L74.7 192.2L75.6 192.6L76.4 193.0L77.3 193.3L78.2 193.7L79.1 193.9L80.0 194.1L80.8 194.2L81.7 194.3L82.6 194.3L83.5 194.3L84.3 194.3L85.2 194.3L86.1 194.2L87.0 194.1L87.8 194.0L88.7 193.7L89.6 193.3L90.5 192.9L91.4 192.4L92.2 191.8L93.1 191.0L94.0 190.2L94.9 189.2L95.7 188.1L96.6 186.9L97.5 185.7L98.4 184.6L99.3 183.4L100.1 182.3L101.0 181.1L101.9 180.0L102.8 179.0L103.6 178.1L104.5 177.2L105.4 176.4L106.3 175.6L107.1 174.9L108.0 174.5L108.9 174.2L109.8 174.0L110.7 173.9L111.5 173.7L112.4 173.7L113.3 173.8L114.2 174.1L115.0 174.5L115.9 174.9L116.8 175.4L117.7 176.1L118.5 177.0L119.4 177.9L120.3 178.8L121.2 179.7L122.1 180.5L122.9 181.3L123.8 182.0L124.7 182.8L125.6 183.5L126.4 184.1L127.3 184.6L128.2 185.1L129.1 185.5L129.9 185.9L130.8 186.2L131.7 186.5L132.6 186.8L133.5 187.1L134.3 187.3L135.2 187.6L136.1 187.9L137.0 188.2L137.8 188.4L138.7 188.7L139.6 188.9L140.5 189.2L141.4 189.4L142.2 189.6L143.1 189.8L144.0 190.0L144.9 190.2L145.7 190.4L146.6 190.6L147.5 190.7L148.4 190.9L149.2 191.1L150.1 191.3L151.0 191.5L151.9 191.7L152.8 191.9L153.6 192.0L154.5 192.2L155.4 192.4L156.3 192.6L157.1 192.9L158.0 193.2L158.9 193.4L159.8 193.7L160.6 193.9L161.5 194.1L162.4 194.2L163.3 194.2L164.2 194.2L165.0 194.1L165.9 194.0L166.8 193.9L167.7 193.8L168.5 193.2L169.4 192.3L170.3 191.2L171.2 189.5L172.0 186.9L172.9 183.6L173.8 179.9L174.7 175.5L175.6 170.8L176.4 166.0L177.3 161.0L178.2 155.7L179.1 150.2L179.9 144.5L180.8 138.4L181.7 132.1L182.6 125.9L183.5 119.8L184.3 113.7L185.2 107.8L186.1 102.0L187.0 96.4L187.8 91.0L188.7 85.9L189.6 81.3L190.5 77.0L191.3 73.1L192.2 69.6L193.1 66.5L194.0 63.7L194.9 61.2L195.7 59.1L196.6 57.3L197.5 55.8L198.4 54.5L199.2 53.5L200.1 52.7L201.0 52.0L201.9 51.5L202.7 51.1L203.6 50.7L204.5 50.4L205.4 50.2L206.3 50.0L207.1 49.9L208.0 49.8L208.9 49.7L209.8 49.7L210.6 49.6L211.5 49.6L212.4 49.6L213.3 49.5L214.2 49.5L215.0 49.5L215.9 49.5L216.8 49.5L217.7 49.5L218.5 49.4L219.4 49.4L220.3 49.4L221.2 49.3L222.0 49.2L222.9 49.1L223.8 49.0L224.7 48.8L225.6 48.7L226.4 48.5L227.3 48.4L228.2 48.2L229.1 48.0L229.9 47.7L230.8 47.5L231.7 47.3L232.6 47.0L233.4 46.8L234.3 46.6L235.2 46.4L236.1 46.2L237.0 46.0L237.8 45.9L238.7 45.7L239.6 45.6L240.5 45.5L241.3 45.4L242.2 45.3L243.1 45.3L244.0 45.2L244.8 45.1L245.7 45.0L246.6 45.0L247.5 44.9L248.4 44.8L249.2 44.8L250.1 44.7L251.0 44.6L251.9 44.6L252.7 44.5L253.6 44.4L254.5 44.4L255.4 44.3L256.3 44.2L257.1 44.2L258.0 44.1L258.9 44.0L259.8 44.0L260.6 43.9L261.5 43.8L262.4 43.8L263.3 43.7L264.1 43.7L265.0 43.6L265.9 43.5L266.8 43.5L267.7 43.4L268.5 43.4L269.4 43.3L270.3 43.2L271.2 43.1L272.0 43.1L272.9 43.0L273.8 43.0L274.7 43.0L275.5 43.0L276.4 43.0L277.3 43.1L278.2 43.2L279.1 43.3L279.9 43.4L280.8 43.5L281.7 43.7L282.6 43.8L283.4 43.9L284.3 44.1L285.2 44.2L286.1 44.4L286.9 44.6L287.8 44.8L288.7 45.0L289.6 45.2L290.5 45.3L291.3 45.4L292.2 45.4L293.1 45.5L294.0 45.6L294.8 45.6L295.7 45.7L296.6 45.8L297.5 45.8L298.4 45.9L299.2 46.0L300.1 46.0L301.0 46.1L301.9 46.1L302.7 46.1L303.6 46.1L304.5 46.1L305.4 46.1L306.2 46.0L307.1 46.0L308.0 46.0" stroke="#0000ff"/>
<path d="M37.9 139.7L38.7 140.7L39.6 141.7L40.5 142.8L41.4 143.9L42.2 145.0L43.1 146.2L44.0 147.4L44.9 148.7L45.7 150.0L46.6 151.3L47.5 152.7L48.4 154.0L49.3 155.5L50.1 156.9L51.0 158.4L51.9 159.9L52.8 161.6L53.6 163.3L54.5 164.8L55.4 166.3L56.3 167.7L57.2 169.0L58.0 170.2L58.9 171.3L59.8 172.4L60.7 173.5L61.5 174.4L62.4 175.4L63.3 176.2L64.2 177.0L65.0 177.8L65.9 178.6L66.8 179.4L67.7 180.2L68.6 181.0L69.4 181.8L70.3 182.5L71.2 183.3L72.1 184.1L72.9 184.8L73.8 185.4L74.7 186.0L75.6 186.6L76.4 187.2L77.3 187.8L78.2 188.2L79.1 188.6L80.0 188.9L80.8 189.1L81.7 189.2L82.6 189.3L83.5 189.4L84.3 189.4L85.2 189.4L86.1 189.3L87.0 189.3L87.8 189.0L88.7 188.7L89.6 188.3L90.5 187.8L91.4 187.1L92.2 186.3L93.1 185.3L94.0 184.3L94.9 183.1L95.7 181.7L96.6 180.2L97.5 178.7L98.4 177.2L99.3 175.8L100.1 174.4L101.0 172.9L101.9 171.5L102.8 170.3L103.6 169.1L104.5 168.0L105.4 166.9L106.3 165.9L107.1 165.1L108.0 164.5L108.9 164.2L109.8 164.0L110.7 163.7L111.5 163.6L112.4 163.5L113.3 163.7L114.2 164.0L115.0 164.5L115.9 165.1L116.8 165.7L117.7 166.6L118.5 167.7L119.4 168.8L120.3 170.0L121.2 171.1L122.1 172.1L122.9 173.1L123.8 174.1L124.7 175.0L125.6 175.9L126.4 176.6L127.3 177.3L128.2 177.9L129.1 178.5L129.9 178.9L130.8 179.3L131.7 179.7L132.6 180.1L133.5 180.4L134.3 180.7L135.2 181.1L136.1 181.4L137.0 181.8L137.8 182.1L138.7 182.4L139.6 182.8L140.5 183.1L141.4 183.4L142.2 183.6L143.1 183.9L144.0 184.1L144.9 184.4L145.7 184.6L146.6 184.8L147.5 185.0L148.4 185.3L149.2 185.5L150.1 185.7L151.0 186.0L151.9 186.2L152.8 186.4L153.6 186.7L154.5 186.9L155.4 187.2L156.3 187.4L157.1 187.7L158.0 188.1L158.9 188.5L159.8 188.8L160.6 189.0L161.5 189.2L162.4 189.4L163.3 189.4L164.2 189.4L165.0 189.3L165.9 189.2L166.8 189.1L167.7 188.9L168.5 188.3L169.4 187.3L170.3 185.9L171.2 184.0L172.0 180.9L172.9 176.8L173.8 172.3L174.7 166.9L175.6 161.2L176.4 155.4L177.3 149.3L178.2 143.1L179.1 136.6L179.9 129.8L180.8 122.7L181.7 115.5L182.6 108.3L183.5 101.4L184.3 94.6L185.2 87.9L186.1 81.3L187.0 75.0L187.8 69.0L188.7 63.3L189.6 58.1L190.5 53.3L191.3 48.9L192.2 45.0L193.1 41.4L194.0 38.2L194.9 35.4L195.7 33.0L196.6 30.9L197.5 29.1L198.4 27.7L199.2 26.5L200.1 25.5L201.0 24.7L201.9 24.1L202.7 23.6L203.6 23.1L204.5 22.8L205.4 22.5L206.3 22.3L207.1 22.1L208.0 22.0L208.9 21.8L209.8 21.8L210.6 21.7L211.5 21.6L212.4 21.5L213.3 21.5L214.2 21.4L215.0 21.4L215.9 21.3L216.8 21.3L217.7 21.2L218.5 21.2L219.4 21.1L220.3 21.0L221.2 20.9L222.0 20.8L222.9 20.6L223.8 20.4L224.7 20.2L225.6 20.0L226.4 19.8L227.3 19.6L228.2 19.3L229.1 19.1L229.9 18.8L230.8 18.5L231.7 18.1L232.6 17.8L233.4 17.5L234.3 17.2L235.2 16.9L236.1 16.7L237.0 16.5L237.8 16.3L238.7 16.1L239.6 15.9L240.5 15.8L241.3 15.6L242.2 15.5L243.1 15.4L244.0 15.2L244.8 15.1L245.7 15.0L246.6 14.9L247.5 14.8L248.4 14.7L249.2 14.5L250.1 14.4L251.0 14.3L251.9 14.2L252.7 14.1L253.6 14.0L254.5 13.9L255.4 13.8L256.3 13.7L257.1 13.6L258.0 13.5L258.9 13.3L259.8 13.2L260.6 13.1L261.5 13.0L262.4 12.9L263.3 12.8L264.1 12.7L265.0 12.6L265.9 12.5L266.8 12.4L267.7 12.3L268.5 12.2L269.4 12.1L270.3 12.0L271.2 11.8L272.0 11.7L272.9 11.6L273.8 11.6L274.7 11.5L275.5 11.5L276.4 11.5L277.3 11.5L278.2 11.6L279.1 11.7L279.9 11.8L280.8 11.9L281.7 12.1L282.6 12.2L283.4 12.3L284.3 12.4L285.2 12.6L286.1 12.7L286.9 13.0L287.8 13.2L288.7 13.4L289.6 13.5L290.5 13.7L291.3 13.7L292.2 13.7L293.1 13.8L294.0 13.9L294.8 13.9L295.7 14.0L296.6 14.0L297.5 14.1L298.4 14.1L299.2 14.1L300.1 14.2L301.0 14.2L301.9 14.2L302.7 14.2L303.6 14.1L304.5 14.1L305.4 14.0L306.2 14.0L307.1 13.9L308.0 13.8" stroke="#0000ff"/>
<path d="M37.9 153.8L38.7 154.7L39.6 155.7L40.5 156.7L41.4 157.7L42.2 158.8L43.1 159.9L44.0 161.0L44.9 162.2L45.7 163.4L46.6 164.7L47.5 165.9L48.4 167.2L49.3 168.4L50.1 169.7L51.0 171.1L51.9 172.4L52.8 173.9L53.6 175.3L54.5 176.6L55.4 177.8L56.3 179.0L57.2 180.0L58.0 181.0L58.9 181.8L59.8 182.6L60.7 183.4L61.5 184.1L62.4 184.7L63.3 185.3L64.2 185.9L65.0 186.4L65.9 186.9L66.8 187.4L67.7 187.8L68.6 188.3L69.4 188.8L70.3 189.3L71.2 189.8L72.1 190.3L72.9 190.8L73.8 191.2L74.7 191.6L75.6 192.0L76.4 192.4L77.3 192.8L78.2 193.1L79.1 193.4L80.0 193.6L80.8 193.7L81.7 193.7L82.6 193.8L83.5 193.8L84.3 193.8L85.2 193.7L86.1 193.7L87.0 193.6L87.8 193.4L88.7 193.1L89.6 192.8L90.5 192.4L91.4 191.8L92.2 191.1L93.1 190.4L94.0 189.5L94.9 188.5L95.7 187.3L96.6 186.1L97.5 184.9L98.4 183.7L99.3 182.6L100.1 181.4L101.0 180.2L101.9 179.1L102.8 178.0L103.6 177.1L104.5 176.2L105.4 175.3L106.3 174.4L107.1 173.8L108.0 173.3L108.9 173.1L109.8 172.8L110.7 172.7L111.5 172.5L112.4 172.5L113.3 172.6L114.2 172.9L115.0 173.3L115.9 173.8L116.8 174.3L117.7 175.0L118.5 175.9L119.4 176.8L120.3 177.8L121.2 178.7L122.1 179.5L122.9 180.3L123.8 181.1L124.7 181.9L125.6 182.6L126.4 183.2L127.3 183.8L128.2 184.3L129.1 184.7L129.9 185.1L130.8 185.4L131.7 185.7L132.6 186.0L133.5 186.3L134.3 186.6L135.2 186.9L136.1 187.2L137.0 187.4L137.8 187.7L138.7 188.0L139.6 188.2L140.5 188.5L141.4 188.7L142.2 188.9L143.1 189.1L144.0 189.3L144.9 189.5L145.7 189.7L146.6 189.9L147.5 190.1L148.4 190.3L149.2 190.5L150.1 190.7L151.0 190.9L151.9 191.1L152.8 191.2L153.6 191.4L154.5 191.6L155.4 191.8L156.3 192.0L157.1 192.3L158.0 192.6L158.9 192.9L159.8 193.1L160.6 193.3L161.5 193.5L162.4 193.6L163.3 193.7L164.2 193.7L165.0 193.6L165.9 193.6L166.8 193.5L167.7 193.4L168.5 193.3L169.4 193.0L170.3 192.4L171.2 191.5L172.0 190.5L172.9 188.6L173.8 185.6L174.7 182.1L175.6 178.3L176.4 173.8L177.3 169.1L178.2 164.3L179.1 159.4L179.9 154.3L180.8 149.1L181.7 143.6L182.6 138.0L183.5 132.4L184.3 126.9L185.2 121.6L186.1 116.2L187.0 111.1L187.8 106.0L188.7 101.2L189.6 96.7L190.5 92.4L191.3 88.4L192.2 84.9L193.1 81.6L194.0 78.7L194.9 76.0L195.7 73.7L196.6 71.6L197.5 69.8L198.4 68.3L199.2 67.0L200.1 66.0L201.0 65.1L201.9 64.4L202.7 63.8L203.6 63.4L204.5 63.0L205.4 62.7L206.3 62.4L207.1 62.2L208.0 62.1L208.9 61.9L209.8 61.8L210.6 61.8L211.5 61.7L212.4 61.6L213.3 61.6L214.2 61.5L215.0 61.5L215.9 61.5L216.8 61.4L217.7 61.4L218.5 61.3L219.4 61.3L220.3 61.2L221.2 61.1L222.0 61.0L222.9 60.9L223.8 60.8L224.7 60.6L225.6 60.4L226.4 60.3L227.3 60.1L228.2 59.9L229.1 59.7L229.9 59.4L230.8 59.2L231.7 59.0L232.6 58.7L233.4 58.5L234.3 58.2L235.2 58.0L236.1 57.8L237.0 57.6L237.8 57.5L238.7 57.3L239.6 57.2L240.5 57.1L241.3 57.0L242.2 56.9L243.1 56.8L244.0 56.7L244.8 56.6L245.7 56.5L246.6 56.4L247.5 56.3L248.4 56.2L249.2 56.1L250.1 56.1L251.0 56.0L251.9 55.9L252.7 55.8L253.6 55.7L254.5 55.6L255.4 55.6L256.3 55.5L257.1 55.4L258.0 55.3L258.9 55.2L259.8 55.1L260.6 55.0L261.5 55.0L262.4 54.9L263.3 54.8L264.1 54.7L265.0 54.6L265.9 54.5L266.8 54.5L267.7 54.4L268.5 54.3L269.4 54.2L270.3 54.1L271.2 54.0L272.0 53.9L272.9 53.9L273.8 53.8L274.7 53.8L275.5 53.8L276.4 53.8L277.3 53.8L278.2 53.9L279.1 53.9L279.9 54.0L280.8 54.1L281.7 54.2L282.6 54.3L283.4 54.4L284.3 54.5L285.2 54.6L286.1 54.8L286.9 54.9L287.8 55.1L288.7 55.3L289.6 55.4L290.5 55.5L291.3 55.6L292.2 55.6L293.1 55.6L294.0 55.7L294.8 55.7L295.7 55.8L296.6 55.8L297.5 55.8L298.4 55.9L299.2 55.9L300.1 55.9L301.0 55.9L301.9 55.9L302.7 55.9L303.6 55.9L304.5 55.9L305.4 55.8L306.2 55.8L307.1 55.7L308.0 55.7" stroke="#ff0000"/>
<path d="M37.9 155.7L38.7 156.6L39.6 157.5L40.5 158.5L41.4 159.5L42.2 160.5L43.1 161.6L44.0 162.7L44.9 163.9L45.7 165.0L46.6 166.2L47.5 167.4L48.4 168.6L49.3 169.9L50.1 171.1L51.0 172.4L51.9 173.7L52.8 175.1L53.6 176.5L54.5 177.8L55.4 178.9L56.3 180.1L57.2 181.1L58.0 182.0L58.9 182.8L59.8 183.6L60.7 184.3L61.5 185.0L62.4 185.6L63.3 186.2L64.2 186.7L65.0 187.2L65.9 187.7L66.8 188.1L67.7 188.6L68.6 189.1L69.4 189.6L70.3 190.1L71.2 190.5L72.1 191.0L72.9 191.5L73.8 191.9L74.7 192.3L75.6 192.6L76.4 193.0L77.3 193.4L78.2 193.7L79.1 194.0L80.0 194.1L80.8 194.2L81.7 194.3L82.6 194.3L83.5 194.4L84.3 194.3L85.2 194.3L86.1 194.3L87.0 194.2L87.8 194.0L88.7 193.7L89.6 193.4L90.5 193.0L91.4 192.5L92.2 191.8L93.1 191.1L94.0 190.2L94.9 189.2L95.7 188.1L96.6 187.0L97.5 185.8L98.4 184.6L99.3 183.5L100.1 182.4L101.0 181.2L101.9 180.1L102.8 179.1L103.6 178.2L104.5 177.3L105.4 176.4L106.3 175.7L107.1 175.0L108.0 174.6L108.9 174.3L109.8 174.1L110.7 174.0L111.5 173.8L112.4 173.8L113.3 173.9L114.2 174.2L115.0 174.6L115.9 175.0L116.8 175.5L117.7 176.2L118.5 177.1L119.4 178.0L120.3 178.9L121.2 179.8L122.1 180.5L122.9 181.3L123.8 182.1L124.7 182.9L125.6 183.5L126.4 184.1L127.3 184.7L128.2 185.2L129.1 185.6L129.9 186.0L130.8 186.3L131.7 186.6L132.6 186.9L133.5 187.1L134.3 187.4L135.2 187.7L136.1 188.0L137.0 188.2L137.8 188.5L138.7 188.8L139.6 189.0L140.5 189.2L141.4 189.5L142.2 189.7L143.1 189.9L144.0 190.1L144.9 190.3L145.7 190.4L146.6 190.6L147.5 190.8L148.4 191.0L149.2 191.2L150.1 191.4L151.0 191.5L151.9 191.7L152.8 191.9L153.6 192.1L154.5 192.3L155.4 192.5L156.3 192.7L157.1 192.9L158.0 193.2L158.9 193.5L159.8 193.7L160.6 193.9L161.5 194.0L162.4 194.2L163.3 194.2L164.2 194.2L165.0 194.2L165.9 194.2L166.8 194.1L167.7 194.0L168.5 193.9L169.4 193.8L170.3 193.5L171.2 192.8L172.0 191.9L172.9 190.6L173.8 188.3L174.7 185.1L175.6 181.6L176.4 177.6L177.3 172.9L178.2 168.2L179.1 163.4L179.9 158.3L180.8 153.1L181.7 147.6L182.6 141.8L183.5 135.9L184.3 129.9L185.2 124.1L186.1 118.2L187.0 112.4L187.8 106.7L188.7 101.3L189.6 96.0L190.5 91.0L191.3 86.4L192.2 82.1L193.1 78.2L194.0 74.7L194.9 71.6L195.7 68.8L196.6 66.3L197.5 64.1L198.4 62.3L199.2 60.7L200.1 59.4L201.0 58.4L201.9 57.5L202.7 56.8L203.6 56.3L204.5 55.8L205.4 55.5L206.3 55.2L207.1 55.0L208.0 54.8L208.9 54.7L209.8 54.7L210.6 54.6L211.5 54.6L212.4 54.6L213.3 54.6L214.2 54.6L215.0 54.6L215.9 54.6L216.8 54.6L217.7 54.6L218.5 54.6L219.4 54.6L220.3 54.6L221.2 54.5L222.0 54.5L222.9 54.4L223.8 54.3L224.7 54.1L225.6 54.0L226.4 53.9L227.3 53.8L228.2 53.6L229.1 53.4L229.9 53.3L230.8 53.1L231.7 52.9L232.6 52.6L233.4 52.4L234.3 52.2L235.2 52.1L236.1 51.9L237.0 51.8L237.8 51.7L238.7 51.6L239.6 51.5L240.5 51.4L241.3 51.4L242.2 51.3L243.1 51.2L244.0 51.2L244.8 51.1L245.7 51.1L246.6 51.1L247.5 51.0L248.4 51.0L249.2 50.9L250.1 50.9L251.0 50.9L251.9 50.8L252.7 50.8L253.6 50.8L254.5 50.7L255.4 50.7L256.3 50.7L257.1 50.6L258.0 50.6L258.9 50.5L259.8 50.5L260.6 50.5L261.5 50.4L262.4 50.4L263.3 50.4L264.1 50.3L265.0 50.3L265.9 50.3L266.8 50.2L267.7 50.2L268.5 50.2L269.4 50.2L270.3 50.1L271.2 50.1L272.0 50.0L272.9 50.0L273.8 50.0L274.7 50.0L275.5 50.0L276.4 50.1L277.3 50.2L278.2 50.3L279.1 50.4L279.9 50.6L280.8 50.7L281.7 50.9L282.6 51.0L283.4 51.2L284.3 51.3L285.2 51.5L286.1 51.7L286.9 51.9L287.8 52.2L288.7 52.4L289.6 52.6L290.5 52.7L291.3 52.8L292.2 52.9L293.1 53.0L294.0 53.1L294.8 53.2L295.7 53.3L296.6 53.4L297.5 53.4L298.4 53.5L299.2 53.6L300.1 53.7L301.0 53.8L301.9 53.8L302.7 53.8L303.6 53.9L304.5 53.9L305.4 53.9L306.2 53.9L307.1 53.9L308.0 53.9" stroke="#ff0000"/>
<path d="M37.9 162.3L38.7 163.1L39.6 163.9L40.5 164.8L41.4 165.7L42.2 166.6L43.1 167.5L44.0 168.5L44.9 169.5L45.7 170.5L46.6 171.6L47.5 172.6L48.4 173.7L49.3 174.8L50.1 175.9L51.0 177.0L51.9 178.2L52.8 179.4L53.6 180.6L54.5 181.7L55.4 182.8L56.3 183.8L57.2 184.6L58.0 185.4L58.9 186.2L59.8 186.9L60.7 187.5L61.5 188.1L62.4 188.6L63.3 189.1L64.2 189.6L65.0 190.0L65.9 190.5L66.8 190.9L67.7 191.3L68.6 191.7L69.4 192.1L70.3 192.6L71.2 193.0L72.1 193.4L72.9 193.8L73.8 194.2L74.7 194.5L75.6 194.8L76.4 195.2L77.3 195.5L78.2 195.8L79.1 196.0L80.0 196.2L80.8 196.2L81.7 196.3L82.6 196.3L83.5 196.3L84.3 196.3L85.2 196.3L86.1 196.3L87.0 196.2L87.8 196.0L88.7 195.8L89.6 195.5L90.5 195.1L91.4 194.7L92.2 194.1L93.1 193.4L94.0 192.7L94.9 191.8L95.7 190.9L96.6 189.8L97.5 188.8L98.4 187.8L99.3 186.8L100.1 185.8L101.0 184.8L101.9 183.8L102.8 182.9L103.6 182.1L104.5 181.3L105.4 180.6L106.3 179.9L107.1 179.3L108.0 178.9L108.9 178.7L109.8 178.5L110.7 178.4L111.5 178.3L112.4 178.2L113.3 178.3L114.2 178.6L115.0 178.9L115.9 179.3L116.8 179.8L117.7 180.4L118.5 181.1L119.4 181.9L120.3 182.7L121.2 183.5L122.1 184.2L122.9 184.9L123.8 185.6L124.7 186.2L125.6 186.8L126.4 187.3L127.3 187.8L128.2 188.3L129.1 188.6L129.9 189.0L130.8 189.2L131.7 189.5L132.6 189.7L133.5 190.0L134.3 190.2L135.2 190.5L136.1 190.7L137.0 190.9L137.8 191.2L138.7 191.4L139.6 191.6L140.5 191.8L141.4 192.0L142.2 192.2L143.1 192.4L144.0 192.6L144.9 192.7L145.7 192.9L146.6 193.1L147.5 193.2L148.4 193.4L149.2 193.5L150.1 193.7L151.0 193.9L151.9 194.0L152.8 194.2L153.6 194.3L154.5 194.5L155.4 194.7L156.3 194.9L157.1 195.1L158.0 195.3L158.9 195.6L159.8 195.8L160.6 196.0L161.5 196.1L162.4 196.2L163.3 196.2L164.2 196.2L165.0 196.2L165.9 196.1L166.8 196.1L167.7 196.0L168.5 195.8L169.4 195.2L170.3 194.4L171.2 193.4L172.0 192.0L172.9 189.5L173.8 186.5L174.7 183.2L175.6 179.3L176.4 175.3L177.3 171.0L178.2 166.7L179.1 162.1L179.9 157.4L180.8 152.5L181.7 147.3L182.6 142.0L183.5 136.8L184.3 131.7L185.2 126.7L186.1 121.7L187.0 116.9L187.8 112.2L188.7 107.8L189.6 103.6L190.5 99.8L191.3 96.3L192.2 93.1L193.1 90.2L194.0 87.7L194.9 85.4L195.7 83.4L196.6 81.6L197.5 80.2L198.4 78.9L199.2 77.9L200.1 77.1L201.0 76.4L201.9 75.9L202.7 75.5L203.6 75.1L204.5 74.8L205.4 74.6L206.3 74.4L207.1 74.2L208.0 74.1L208.9 74.1L209.8 74.0L210.6 73.9L211.5 73.9L212.4 73.9L213.3 73.8L214.2 73.8L215.0 73.8L215.9 73.8L216.8 73.7L217.7 73.7L218.5 73.7L219.4 73.7L220.3 73.6L221.2 73.6L222.0 73.5L222.9 73.4L223.8 73.2L224.7 73.1L225.6 73.0L226.4 72.8L227.3 72.7L228.2 72.5L229.1 72.3L229.9 72.1L230.8 71.9L231.7 71.7L232.6 71.5L233.4 71.3L234.3 71.1L235.2 70.9L236.1 70.7L237.0 70.6L237.8 70.5L238.7 70.4L239.6 70.3L240.5 70.2L241.3 70.1L242.2 70.0L243.1 69.9L244.0 69.8L244.8 69.8L245.7 69.7L246.6 69.6L247.5 69.6L248.4 69.5L249.2 69.4L250.1 69.4L251.0 69.3L251.9 69.3L252.7 69.2L253.6 69.1L254.5 69.1L255.4 69.0L256.3 68.9L257.1 68.9L258.0 68.8L258.9 68.8L259.8 68.7L260.6 68.6L261.5 68.6L262.4 68.5L263.3 68.4L264.1 68.4L265.0 68.3L265.9 68.3L266.8 68.2L267.7 68.2L268.5 68.1L269.4 68.0L270.3 68.0L271.2 67.9L272.0 67.8L272.9 67.8L273.8 67.8L274.7 67.7L275.5 67.7L276.4 67.7L277.3 67.8L278.2 67.9L279.1 67.9L279.9 68.0L280.8 68.1L281.7 68.3L282.6 68.4L283.4 68.5L284.3 68.6L285.2 68.7L286.1 68.8L286.9 69.0L287.8 69.2L288.7 69.3L289.6 69.5L290.5 69.6L291.3 69.6L292.2 69.6L293.1 69.7L294.0 69.8L294.8 69.8L295.7 69.9L296.6 69.9L297.5 70.0L298.4 70.0L299.2 70.1L300.1 70.1L301.0 70.1L301.9 70.1L302.7 70.2L303.6 70.1L304.5 70.1L305.4 70.1L306.2 70.1L307.1 70.0L308.0 70.0" stroke="#ff0000"/>
<path d="M37.9 167.0L38.7 167.7L39.6 168.5L40.5 169.2L41.4 170.0L42.2 170.9L43.1 171.7L44.0 172.6L44.9 173.5L45.7 174.4L46.6 175.4L47.5 176.3L48.4 177.3L49.3 178.3L50.1 179.3L51.0 180.3L51.9 181.4L52.8 182.5L53.6 183.6L54.5 184.6L55.4 185.5L56.3 186.4L57.2 187.2L58.0 187.9L58.9 188.6L59.8 189.2L60.7 189.8L61.5 190.3L62.4 190.8L63.3 191.3L64.2 191.7L65.0 192.1L65.9 192.4L66.8 192.8L67.7 193.2L68.6 193.6L69.4 194.0L70.3 194.4L71.2 194.7L72.1 195.1L72.9 195.5L73.8 195.8L74.7 196.1L75.6 196.4L76.4 196.7L77.3 197.0L78.2 197.2L79.1 197.4L80.0 197.6L80.8 197.7L81.7 197.7L82.6 197.7L83.5 197.8L84.3 197.8L85.2 197.7L86.1 197.7L87.0 197.6L87.8 197.5L88.7 197.3L89.6 197.0L90.5 196.7L91.4 196.3L92.2 195.7L93.1 195.1L94.0 194.5L94.9 193.7L95.7 192.8L96.6 191.9L97.5 190.9L98.4 190.0L99.3 189.1L100.1 188.2L101.0 187.3L101.9 186.4L102.8 185.6L103.6 184.9L104.5 184.2L105.4 183.5L106.3 182.9L107.1 182.4L108.0 182.0L108.9 181.8L109.8 181.7L110.7 181.5L111.5 181.4L112.4 181.4L113.3 181.5L114.2 181.7L115.0 182.0L115.9 182.4L116.8 182.8L117.7 183.3L118.5 184.0L119.4 184.7L120.3 185.5L121.2 186.1L122.1 186.8L122.9 187.4L123.8 188.0L124.7 188.6L125.6 189.2L126.4 189.6L127.3 190.1L128.2 190.5L129.1 190.8L129.9 191.1L130.8 191.3L131.7 191.6L132.6 191.8L133.5 192.0L134.3 192.2L135.2 192.4L136.1 192.7L137.0 192.9L137.8 193.1L138.7 193.3L139.6 193.5L140.5 193.7L141.4 193.9L142.2 194.0L143.1 194.2L144.0 194.4L144.9 194.5L145.7 194.6L146.6 194.8L147.5 194.9L148.4 195.1L149.2 195.2L150.1 195.4L151.0 195.5L151.9 195.7L152.8 195.8L153.6 196.0L154.5 196.1L155.4 196.3L156.3 196.4L157.1 196.6L158.0 196.9L158.9 197.1L159.8 197.3L160.6 197.4L161.5 197.6L162.4 197.6L163.3 197.7L164.2 197.7L165.0 197.6L165.9 197.6L166.8 197.5L167.7 197.4L168.5 197.3L169.4 196.8L170.3 196.1L171.2 195.3L172.0 194.1L172.9 191.9L173.8 189.3L174.7 186.4L175.6 182.8L176.4 179.2L177.3 175.3L178.2 171.3L179.1 167.2L179.9 162.8L180.8 158.3L181.7 153.5L182.6 148.6L183.5 143.7L184.3 138.9L185.2 134.1L186.1 129.4L187.0 124.8L187.8 120.4L188.7 116.1L189.6 112.1L190.5 108.4L191.3 105.1L192.2 102.0L193.1 99.2L194.0 96.8L194.9 94.6L195.7 92.6L196.6 90.9L197.5 89.5L198.4 88.3L199.2 87.3L200.1 86.5L201.0 85.9L201.9 85.3L202.7 84.9L203.6 84.6L204.5 84.3L205.4 84.0L206.3 83.9L207.1 83.7L208.0 83.6L208.9 83.6L209.8 83.5L210.6 83.5L211.5 83.4L212.4 83.4L213.3 83.4L214.2 83.3L215.0 83.3L215.9 83.3L216.8 83.3L217.7 83.3L218.5 83.3L219.4 83.2L220.3 83.2L221.2 83.2L222.0 83.1L222.9 83.0L223.8 82.9L224.7 82.8L225.6 82.6L226.4 82.5L227.3 82.4L228.2 82.3L229.1 82.1L229.9 81.9L230.8 81.7L231.7 81.5L232.6 81.3L233.4 81.2L234.3 81.0L235.2 80.8L236.1 80.6L237.0 80.5L237.8 80.4L238.7 80.3L239.6 80.2L240.5 80.1L241.3 80.1L242.2 80.0L243.1 79.9L244.0 79.9L244.8 79.8L245.7 79.7L246.6 79.7L247.5 79.6L248.4 79.6L249.2 79.5L250.1 79.5L251.0 79.4L251.9 79.4L252.7 79.3L253.6 79.3L254.5 79.2L255.4 79.2L256.3 79.1L257.1 79.0L258.0 79.0L258.9 78.9L259.8 78.9L260.6 78.8L261.5 78.8L262.4 78.7L263.3 78.7L264.1 78.6L265.0 78.6L265.9 78.5L266.8 78.5L267.7 78.4L268.5 78.4L269.4 78.3L270.3 78.3L271.2 78.2L272.0 78.2L272.9 78.1L273.8 78.1L274.7 78.1L275.5 78.1L276.4 78.1L277.3 78.2L278.2 78.2L279.1 78.3L279.9 78.4L280.8 78.5L281.7 78.6L282.6 78.7L283.4 78.8L284.3 78.9L285.2 79.0L286.1 79.2L286.9 79.4L287.8 79.5L288.7 79.7L289.6 79.8L290.5 79.9L291.3 80.0L292.2 80.0L293.1 80.1L294.0 80.1L294.8 80.2L295.7 80.2L296.6 80.3L297.5 80.3L298.4 80.4L299.2 80.4L300.1 80.5L301.0 80.5L301.9 80.5L302.7 80.5L303.6 80.5L304.5 80.5L305.4 80.5L306.2 80.5L307.1 80.5L308.0 80.4" stroke="#ff0000"/>
<path d="M37.9 165.8L38.7 166.5L39.6 167.3L40.5 168.1L41.4 168.9L42.2 169.7L43.1 170.6L44.0 171.5L44.9 172.5L45.7 173.4L46.6 174.4L47.5 175.4L48.4 176.4L49.3 177.4L50.1 178.4L51.0 179.5L51.9 180.5L52.8 181.7L53.6 182.8L54.5 183.8L55.4 184.8L56.3 185.7L57.2 186.5L58.0 187.3L58.9 187.9L59.8 188.6L60.7 189.2L61.5 189.7L62.4 190.2L63.3 190.7L64.2 191.1L65.0 191.5L65.9 191.9L66.8 192.3L67.7 192.7L68.6 193.1L69.4 193.5L70.3 193.9L71.2 194.3L72.1 194.7L72.9 195.0L73.8 195.4L74.7 195.7L75.6 196.0L76.4 196.3L77.3 196.6L78.2 196.9L79.1 197.1L80.0 197.2L80.8 197.3L81.7 197.3L82.6 197.4L83.5 197.4L84.3 197.4L85.2 197.4L86.1 197.3L87.0 197.3L87.8 197.1L88.7 196.9L89.6 196.6L90.5 196.3L91.4 195.9L92.2 195.3L93.1 194.7L94.0 194.0L94.9 193.2L95.7 192.3L96.6 191.3L97.5 190.4L98.4 189.4L99.3 188.5L100.1 187.6L101.0 186.7L101.9 185.8L102.8 184.9L103.6 184.2L104.5 183.5L105.4 182.7L106.3 182.1L107.1 181.6L108.0 181.2L108.9 181.0L109.8 180.8L110.7 180.7L111.5 180.6L112.4 180.6L113.3 180.7L114.2 180.9L115.0 181.2L115.9 181.6L116.8 182.0L117.7 182.6L118.5 183.3L119.4 184.0L120.3 184.8L121.2 185.5L122.1 186.1L122.9 186.8L123.8 187.4L124.7 188.0L125.6 188.6L126.4 189.0L127.3 189.5L128.2 189.9L129.1 190.2L129.9 190.5L130.8 190.8L131.7 191.0L132.6 191.3L133.5 191.5L134.3 191.7L135.2 191.9L136.1 192.2L137.0 192.4L137.8 192.6L138.7 192.8L139.6 193.0L140.5 193.2L141.4 193.4L142.2 193.6L143.1 193.7L144.0 193.9L144.9 194.0L145.7 194.2L146.6 194.3L147.5 194.5L148.4 194.6L149.2 194.8L150.1 194.9L151.0 195.1L151.9 195.2L152.8 195.4L153.6 195.5L154.5 195.7L155.4 195.9L156.3 196.0L157.1 196.2L158.0 196.5L158.9 196.7L159.8 196.8L160.6 197.0L161.5 197.1L162.4 197.2L163.3 197.3L164.2 197.3L165.0 197.3L165.9 197.2L166.8 197.2L167.7 197.2L168.5 197.1L169.4 197.0L170.3 196.9L171.2 196.5L172.0 196.0L172.9 195.0L173.8 193.7L174.7 191.5L175.6 188.7L176.4 185.7L177.3 181.9L178.2 177.8L179.1 173.6L179.9 169.2L180.8 164.5L181.7 159.4L182.6 154.1L183.5 148.5L184.3 142.6L185.2 136.7L186.1 130.8L187.0 124.8L187.8 118.9L188.7 113.0L189.6 107.4L190.5 101.9L191.3 96.8L192.2 92.0L193.1 87.6L194.0 83.6L194.9 80.0L195.7 76.8L196.6 74.0L197.5 71.5L198.4 69.3L199.2 67.5L200.1 65.9L201.0 64.7L201.9 63.6L202.7 62.8L203.6 62.1L204.5 61.6L205.4 61.1L206.3 60.8L207.1 60.5L208.0 60.3L208.9 60.2L209.8 60.1L210.6 60.0L211.5 60.0L212.4 60.0L213.3 59.9L214.2 59.9L215.0 59.9L215.9 59.9L216.8 59.9L217.7 60.0L218.5 60.0L219.4 60.0L220.3 59.9L221.2 59.9L222.0 59.9L222.9 59.8L223.8 59.7L224.7 59.6L225.6 59.5L226.4 59.3L227.3 59.2L228.2 59.1L229.1 58.9L229.9 58.7L230.8 58.6L231.7 58.4L232.6 58.2L233.4 58.0L234.3 57.8L235.2 57.6L236.1 57.5L237.0 57.3L237.8 57.3L238.7 57.2L239.6 57.1L240.5 57.0L241.3 57.0L242.2 56.9L243.1 56.9L244.0 56.8L244.8 56.8L245.7 56.8L246.6 56.7L247.5 56.7L248.4 56.7L249.2 56.6L250.1 56.6L251.0 56.6L251.9 56.5L252.7 56.5L253.6 56.5L254.5 56.5L255.4 56.4L256.3 56.4L257.1 56.4L258.0 56.3L258.9 56.3L259.8 56.3L260.6 56.2L261.5 56.2L262.4 56.2L263.3 56.2L264.1 56.1L265.0 56.1L265.9 56.1L266.8 56.1L267.7 56.0L268.5 56.0L269.4 56.0L270.3 55.9L271.2 55.9L272.0 55.9L272.9 55.9L273.8 55.9L274.7 55.9L275.5 55.9L276.4 56.0L277.3 56.1L278.2 56.2L279.1 56.3L279.9 56.5L280.8 56.6L281.7 56.8L282.6 56.9L283.4 57.1L284.3 57.2L285.2 57.4L286.1 57.6L286.9 57.8L287.8 58.0L288.7 58.2L289.6 58.4L290.5 58.6L291.3 58.7L292.2 58.7L293.1 58.8L294.0 58.9L294.8 59.0L295.7 59.1L296.6 59.2L297.5 59.3L298.4 59.4L299.2 59.5L300.1 59.6L301.0 59.6L301.9 59.7L302.7 59.7L303.6 59.8L304.5 59.8L305.4 59.8L306.2 59.8L307.1 59.8L308.0 59.8" stroke="#ff0000"/>
</g>
<g clip-path="url(#ca)"><polygon points="36.2,154.3 36.7,150.7 37.2,144.2 37.7,144.3 38.2,141.6 38.7,138.9 39.2,105.3 39.7,97.2 40.2,97.4 40.7,96.3 41.2,97.0 41.7,97.1 42.2,96.8 42.7,106.9 43.2,122.9 43.7,129.4 44.2,134.0 44.7,135.4 45.2,137.3 45.7,134.3 46.2,134.5 46.7,135.5 47.2,134.9 47.7,136.5 48.2,139.1 48.7,142.5 49.2,142.0 49.7,144.3 50.2,145.7 50.7,140.5 51.2,146.0 51.7,144.2 52.2,149.0 52.7,150.5 53.2,151.7 53.7,153.7 54.2,157.0 54.7,156.6 55.2,158.8 55.7,159.8 56.2,161.9 56.7,163.5 57.2,165.3 57.7,166.2 58.2,167.7 58.7,168.9 59.2,170.9 59.7,171.9 60.2,174.6 60.7,179.5 61.2,180.4 61.7,182.5 62.2,184.6 62.7,184.7 63.2,185.2 63.7,184.2 64.2,180.0 64.7,180.7 65.2,186.0 65.7,187.6 66.2,189.2 66.7,189.4 67.2,190.5 67.7,186.8 68.2,182.1 68.7,187.5 69.2,192.6 69.7,193.8 70.2,192.7 70.7,188.2 71.2,188.5 71.7,194.9 72.2,194.5 72.7,194.7 73.2,191.1 73.7,190.9 74.2,196.4 74.7,196.9 75.2,197.7 75.7,198.0 76.2,199.1 76.7,199.8 77.2,199.9 77.7,199.9 78.2,200.9 78.7,200.4 79.2,202.3 79.7,201.5 80.2,201.0 80.7,201.3 81.2,201.1 81.7,200.8 82.2,200.9 82.7,203.7 83.2,201.2 83.7,202.4 84.2,202.1 84.7,203.1 85.2,203.3 85.7,202.7 86.2,202.6 86.7,203.7 87.2,201.9 87.7,203.3 88.2,202.3 88.7,204.3 89.2,202.2 89.7,202.6 90.2,202.3 90.7,202.2 91.2,202.4 91.7,202.5 92.2,202.9 92.7,202.2 93.2,202.2 93.7,202.3 94.2,202.6 94.7,203.1 95.2,202.4 95.7,202.5 96.2,202.7 96.7,202.6 97.2,202.8 97.7,202.4 98.2,202.6 98.7,203.3 99.2,202.7 99.7,202.6 100.2,202.6 100.7,203.0 101.2,202.6 101.7,202.7 102.2,203.3 102.7,203.2 103.2,202.8 103.7,202.6 104.2,203.3 104.7,203.3 105.2,202.9 105.7,203.4 106.2,203.1 106.7,203.1 107.2,203.9 107.7,203.3 108.2,203.1 108.7,203.3 109.2,203.1 109.7,203.1 110.2,203.4 110.7,203.2 111.2,203.8 111.7,203.2 112.2,203.3 112.7,203.5 113.2,203.8 113.7,203.6 114.2,204.1 114.7,203.5 115.2,203.5 115.7,203.5 116.2,203.6 116.7,203.5 117.2,203.7 117.7,203.6 118.2,204.3 118.7,204.2 119.2,203.7 119.7,204.3 120.2,203.6 120.7,203.7 121.2,203.6 121.7,204.2 122.2,203.8 122.7,205.6 123.2,204.3 123.7,203.8 124.2,203.8 124.7,203.8 125.2,204.7 125.7,204.3 126.2,204.0 126.7,203.8 127.2,204.7 127.7,204.2 128.2,203.9 128.7,205.4 129.2,204.3 129.7,204.4 130.2,203.9 130.7,204.0 131.2,204.4 131.7,204.1 132.2,204.4 132.7,204.1 133.2,205.5 133.7,204.8 134.2,205.6 134.7,204.2 135.2,204.6 135.7,204.5 136.2,204.3 136.7,205.3 137.2,204.8 137.7,204.8 138.2,204.4 138.7,204.4 139.2,204.5 139.7,205.1 140.2,204.7 140.7,204.6 141.2,205.1 141.7,204.6 142.2,204.6 142.7,205.0 143.2,204.9 143.7,204.9 144.2,206.1 144.7,205.2 145.2,205.0 145.7,204.8 146.2,205.3 146.7,205.0 147.2,205.0 147.7,206.1 148.2,204.9 148.7,205.1 149.2,205.7 149.7,205.9 150.2,205.7 150.7,205.5 151.2,206.1 151.7,205.3 152.2,205.0 152.7,205.5 153.2,205.0 153.7,205.1 154.2,205.8 154.7,205.3 155.2,205.3 155.7,205.2 156.2,205.3 156.7,205.1 157.2,205.3 157.7,205.1 158.2,205.5 158.7,205.4 159.2,205.4 159.7,205.5 160.2,206.1 160.7,205.2 161.2,205.7 161.7,205.4 162.2,205.5 162.7,205.6 163.2,205.3 163.7,205.4 164.2,205.6 164.7,206.0 165.2,205.6 165.7,205.3 166.2,206.2 166.7,206.6 167.2,205.6 167.7,205.6 168.2,205.6 168.7,205.6 169.2,205.6 169.7,206.2 170.2,205.6 170.7,205.6 171.2,205.6 171.7,205.8 172.2,205.7 172.7,205.5 173.2,205.8 173.7,205.4 174.2,205.5 174.7,205.8 175.2,205.4 175.7,205.6 176.2,206.1 176.7,205.9 177.2,206.0 177.7,205.7 178.2,205.4 178.7,205.5 179.2,205.5 179.7,205.8 180.2,205.4 180.7,206.1 181.2,205.3 181.7,206.0 182.2,205.4 182.7,205.9 183.2,206.0 183.7,205.3 184.2,205.3 184.7,206.2 185.2,205.7 185.7,206.4 186.2,206.0 186.7,206.2 187.2,205.6 187.7,205.5 188.2,205.3 188.7,206.0 189.2,205.9 189.7,205.5 190.2,205.6 190.7,205.3 191.2,206.0 191.7,205.4 192.2,205.7 192.7,206.1 193.2,205.4 193.7,205.2 194.2,205.7 194.7,205.9 195.2,205.4 195.7,205.5 196.2,205.4 196.7,205.3 197.2,205.3 197.7,205.7 198.2,206.0 198.7,205.3 199.2,205.2 199.7,205.4 200.2,206.1 200.7,205.1 201.2,205.7 201.7,206.4 202.2,205.5 202.7,205.1 203.2,205.2 203.7,206.4 204.2,205.4 204.7,205.9 205.2,205.4 205.7,205.4 206.2,205.4 206.7,205.9 207.2,205.5 207.7,205.7 208.2,205.1 208.7,205.0 209.2,205.4 209.7,205.8 210.2,205.0 210.7,205.5 211.2,205.6 211.7,205.5 212.2,205.2 212.7,206.1 213.2,205.0 213.7,205.5 214.2,205.1 214.7,205.5 215.2,205.5 215.7,205.3 216.2,205.1 216.7,205.2 217.2,205.1 217.7,205.5 218.2,205.0 218.7,205.1 219.2,205.5 219.7,205.5 220.2,205.2 220.7,205.0 221.2,205.0 221.7,205.4 222.2,205.4 222.7,205.3 223.2,205.0 223.7,205.0 224.2,205.2 224.7,205.2 225.2,205.2 225.7,204.9 226.2,205.3 226.7,204.9 227.2,204.8 227.7,205.0 228.2,204.8 228.7,205.2 229.2,205.4 229.7,205.5 230.2,205.1 230.7,204.8 231.2,205.5 231.7,205.0 232.2,205.4 232.7,205.3 233.2,205.1 233.7,205.5 234.2,205.1 234.7,204.9 235.2,205.2 235.7,205.3 236.2,204.7 236.7,204.7 237.2,204.9 237.7,205.1 238.2,205.1 238.7,205.1 239.2,204.9 239.7,204.8 240.2,204.9 240.7,205.2 241.2,205.3 241.7,204.9 242.2,204.6 242.7,205.3 243.2,204.8 243.7,205.1 244.2,205.1 244.7,205.1 245.2,204.5 245.7,204.6 246.2,205.0 246.7,204.6 247.2,204.6 247.7,205.1 248.2,204.6 248.7,204.7 249.2,204.4 249.7,204.7 250.2,204.6 250.7,204.4 251.2,204.6 251.7,205.2 252.2,204.8 252.7,204.4 253.2,204.8 253.7,205.0 254.2,204.9 254.7,204.7 255.2,204.3 255.7,204.8 256.2,204.3 256.7,205.1 257.2,204.2 257.7,204.8 258.2,204.3 258.7,204.7 259.2,204.3 259.7,204.6 260.2,204.5 260.7,204.7 261.2,204.8 261.7,204.3 262.2,205.1 262.7,204.4 263.2,204.8 263.7,204.4 264.2,204.5 264.7,204.9 265.2,204.0 265.7,204.8 266.2,204.1 266.7,204.8 267.2,205.2 267.7,204.0 268.2,205.0 268.7,204.1 269.2,204.2 269.7,203.8 270.2,203.9 270.7,204.0 271.2,204.5 271.7,204.3 272.2,203.9 272.7,203.8 273.2,204.3 273.7,204.4 274.2,204.6 274.7,204.0 275.2,204.4 275.7,203.5 276.2,203.5 276.7,204.2 277.2,203.5 277.7,203.6 278.2,204.2 278.7,204.0 279.2,203.8 279.7,204.1 280.2,204.1 280.7,203.9 281.2,203.7 281.7,203.3 282.2,202.5 282.7,201.9 283.2,203.8 283.7,204.0 284.2,203.6 284.7,203.1 285.2,203.1 285.7,201.9 286.2,201.9 286.7,201.8 287.2,201.2 287.7,203.2 288.2,203.1 288.7,203.1 289.2,202.9 289.7,203.0 290.2,203.0 290.7,200.9 291.2,203.1 291.7,202.7 292.2,200.2 292.7,203.8 293.2,202.9 293.7,200.0 294.2,203.3 294.7,203.6 295.2,203.4 295.7,203.0 296.2,202.4 296.7,203.5 297.2,202.4 297.7,202.7 298.2,202.1 298.7,203.2 299.2,203.1 299.7,202.3 300.2,201.8 300.7,202.3 301.2,200.1 301.7,202.2 302.2,201.9 302.7,202.0 303.2,201.5 303.7,199.7 304.2,198.6 304.7,199.1 305.2,199.9 305.7,199.3 306.2,196.0 306.7,199.3 307.2,199.7 307.7,199.5 307.7,212.8 307.2,212.6 306.7,211.9 306.2,212.4 305.7,212.5 305.2,212.7 304.7,212.2 304.2,211.9 303.7,212.4 303.2,212.3 302.7,211.0 302.2,211.6 301.7,212.0 301.2,211.8 300.7,211.3 300.2,211.2 299.7,211.7 299.2,211.1 298.7,210.6 298.2,211.4 297.7,211.4 297.2,211.0 296.7,210.9 296.2,211.5 295.7,211.3 295.2,210.3 294.7,211.1 294.2,210.6 293.7,211.2 293.2,209.7 292.7,210.7 292.2,211.1 291.7,210.8 291.2,210.1 290.7,211.0 290.2,210.2 289.7,210.3 289.2,211.0 288.7,210.9 288.2,210.5 287.7,210.9 287.2,210.4 286.7,209.9 286.2,210.7 285.7,210.8 285.2,210.9 284.7,209.7 284.2,210.4 283.7,210.9 283.2,210.0 282.7,210.4 282.2,210.7 281.7,210.9 281.2,210.4 280.7,210.4 280.2,210.5 279.7,210.7 279.2,210.7 278.7,210.9 278.2,210.7 277.7,210.4 277.2,209.6 276.7,210.6 276.2,210.8 275.7,210.8 275.2,210.4 274.7,210.5 274.2,210.4 273.7,210.4 273.2,210.7 272.7,210.0 272.2,210.0 271.7,210.8 271.2,210.8 270.7,209.7 270.2,210.0 269.7,210.5 269.2,210.0 268.7,210.7 268.2,210.5 267.7,210.3 267.2,210.5 266.7,210.8 266.2,210.6 265.7,210.6 265.2,210.0 264.7,210.4 264.2,210.3 263.7,210.1 263.2,210.7 262.7,210.2 262.2,210.5 261.7,210.7 261.2,210.4 260.7,209.7 260.2,209.5 259.7,210.3 259.2,209.4 258.7,210.6 258.2,210.2 257.7,210.0 257.2,210.2 256.7,210.0 256.2,210.3 255.7,209.9 255.2,210.5 254.7,210.3 254.2,210.5 253.7,210.4 253.2,210.1 252.7,210.2 252.2,210.4 251.7,210.4 251.2,210.4 250.7,210.6 250.2,209.9 249.7,210.6 249.2,209.7 248.7,210.5 248.2,210.5 247.7,209.1 247.2,210.0 246.7,210.3 246.2,210.2 245.7,210.4 245.2,209.1 244.7,209.9 244.2,210.5 243.7,209.9 243.2,210.0 242.7,210.4 242.2,210.2 241.7,210.5 241.2,209.7 240.7,210.1 240.2,209.5 239.7,210.3 239.2,210.4 238.7,210.2 238.2,210.3 237.7,210.5 237.2,210.3 236.7,210.1 236.2,210.3 235.7,208.9 235.2,209.8 234.7,210.3 234.2,209.5 233.7,209.7 233.2,210.0 232.7,210.0 232.2,210.2 231.7,210.2 231.2,209.3 230.7,210.2 230.2,209.4 229.7,209.9 229.2,209.7 228.7,210.0 228.2,210.3 227.7,209.3 227.2,210.2 226.7,210.4 226.2,209.7 225.7,210.0 225.2,210.3 224.7,209.9 224.2,210.3 223.7,210.1 223.2,209.5 222.7,209.9 222.2,209.7 221.7,209.5 221.2,210.3 220.7,210.3 220.2,210.4 219.7,210.1 219.2,210.1 218.7,209.4 218.2,210.2 217.7,209.2 217.2,210.0 216.7,210.1 216.2,210.2 215.7,210.2 215.2,210.3 214.7,210.1 214.2,210.1 213.7,210.0 213.2,210.0 212.7,210.0 212.2,209.8 211.7,209.5 211.2,209.7 210.7,209.5 210.2,209.4 209.7,208.8 209.2,209.9 208.7,209.5 208.2,210.1 207.7,210.1 207.2,208.4 206.7,210.2 206.2,209.6 205.7,210.1 205.2,210.1 204.7,209.6 204.2,210.1 203.7,210.0 203.2,210.0 202.7,209.4 202.2,209.4 201.7,210.1 201.2,209.7 200.7,209.9 200.2,210.1 199.7,209.8 199.2,209.7 198.7,210.2 198.2,209.8 197.7,210.1 197.2,209.5 196.7,210.1 196.2,209.8 195.7,210.0 195.2,209.7 194.7,210.1 194.2,209.7 193.7,210.2 193.2,210.1 192.7,210.1 192.2,210.1 191.7,209.7 191.2,209.9 190.7,209.7 190.2,209.9 189.7,209.3 189.2,210.1 188.7,210.2 188.2,210.2 187.7,210.3 187.2,209.5 186.7,210.2 186.2,210.2 185.7,210.2 185.2,210.2 184.7,209.7 184.2,209.2 183.7,210.0 183.2,209.9 182.7,210.0 182.2,210.0 181.7,209.5 181.2,210.2 180.7,210.1 180.2,210.2 179.7,210.3 179.2,209.8 178.7,208.7 178.2,210.3 177.7,209.7 177.2,210.0 176.7,210.1 176.2,210.2 175.7,210.1 175.2,210.3 174.7,209.5 174.2,209.4 173.7,209.4 173.2,210.2 172.7,210.5 172.2,210.4 171.7,210.4 171.2,210.4 170.7,210.0 170.2,210.4 169.7,210.2 169.2,209.3 168.7,210.5 168.2,210.3 167.7,210.1 167.2,210.4 166.7,210.5 166.2,210.2 165.7,210.4 165.2,210.6 164.7,210.5 164.2,210.6 163.7,210.5 163.2,209.7 162.7,210.3 162.2,210.2 161.7,210.5 161.2,209.9 160.7,209.9 160.2,210.4 159.7,209.7 159.2,209.7 158.7,209.8 158.2,209.9 157.7,210.3 157.2,210.0 156.7,210.6 156.2,209.8 155.7,210.5 155.2,209.9 154.7,210.1 154.2,209.2 153.7,210.6 153.2,210.2 152.7,210.6 152.2,210.2 151.7,210.5 151.2,209.0 150.7,209.9 150.2,210.0 149.7,209.7 149.2,210.7 148.7,210.2 148.2,209.4 147.7,208.8 147.2,209.6 146.7,210.7 146.2,210.5 145.7,210.7 145.2,210.4 144.7,210.5 144.2,210.6 143.7,210.2 143.2,210.7 142.7,210.6 142.2,209.4 141.7,210.8 141.2,210.8 140.7,210.7 140.2,210.3 139.7,210.1 139.2,210.7 138.7,210.6 138.2,210.5 137.7,210.7 137.2,210.5 136.7,209.3 136.2,209.7 135.7,210.6 135.2,210.6 134.7,210.4 134.2,210.3 133.7,209.8 133.2,210.1 132.7,210.8 132.2,210.6 131.7,210.7 131.2,210.8 130.7,210.1 130.2,210.6 129.7,210.9 129.2,210.3 128.7,210.8 128.2,210.9 127.7,209.7 127.2,209.8 126.7,210.4 126.2,210.4 125.7,211.0 125.2,210.1 124.7,210.6 124.2,210.9 123.7,210.2 123.2,210.6 122.7,210.7 122.2,210.2 121.7,210.9 121.2,210.7 120.7,210.5 120.2,210.9 119.7,210.5 119.2,210.3 118.7,210.2 118.2,210.8 117.7,211.0 117.2,210.6 116.7,210.5 116.2,210.9 115.7,210.3 115.2,210.7 114.7,210.4 114.2,210.6 113.7,210.6 113.2,210.3 112.7,210.8 112.2,211.1 111.7,210.6 111.2,210.3 110.7,211.0 110.2,211.1 109.7,210.6 109.2,210.7 108.7,210.6 108.2,210.6 107.7,210.7 107.2,210.8 106.7,211.1 106.2,210.7 105.7,209.9 105.2,210.3 104.7,210.9 104.2,211.4 103.7,210.9 103.2,210.4 102.7,211.5 102.2,212.0 101.7,211.7 101.2,212.1 100.7,211.5 100.2,212.0 99.7,212.1 99.2,212.1 98.7,212.4 98.2,212.9 97.7,213.0 97.2,213.1 96.7,212.9 96.2,212.4 95.7,213.1 95.2,212.9 94.7,213.1 94.2,211.7 93.7,213.0 93.2,212.7 92.7,212.3 92.2,211.7 91.7,212.4 91.2,211.9 90.7,212.5 90.2,213.0 89.7,213.0 89.2,212.0 88.7,212.6 88.2,212.4 87.7,213.0 87.2,212.8 86.7,212.4 86.2,213.2 85.7,212.6 85.2,212.5 84.7,213.1 84.2,212.5 83.7,213.2 83.2,212.3 82.7,212.6 82.2,212.9 81.7,212.9 81.2,212.8 80.7,213.0 80.2,213.0 79.7,212.8 79.2,211.9 78.7,213.0 78.2,213.0 77.7,213.1 77.2,212.9 76.7,212.8 76.2,212.5 75.7,213.2 75.2,213.1 74.7,213.1 74.2,212.6 73.7,212.3 73.2,212.9 72.7,213.0 72.2,212.3 71.7,212.6 71.2,212.6 70.7,213.2 70.2,212.6 69.7,212.2 69.2,213.1 68.7,212.2 68.2,213.0 67.7,212.5 67.2,212.5 66.7,213.1 66.2,213.0 65.7,213.0 65.2,212.2 64.7,212.6 64.2,213.0 63.7,213.2 63.2,212.0 62.7,212.6 62.2,213.0 61.7,211.6 61.2,212.9 60.7,212.9 60.2,212.8 59.7,212.6 59.2,213.1 58.7,212.5 58.2,212.8 57.7,213.1 57.2,213.2 56.7,212.9 56.2,212.9 55.7,212.9 55.2,212.7 54.7,213.1 54.2,212.9 53.7,211.9 53.2,212.9 52.7,211.5 52.2,212.6 51.7,212.5 51.2,213.1 50.7,212.8 50.2,212.6 49.7,213.0 49.2,212.8 48.7,212.9 48.2,213.0 47.7,212.8 47.2,212.4 46.7,212.4 46.2,213.0 45.7,211.9 45.2,212.8 44.7,213.1 44.2,212.6 43.7,212.1 43.2,211.9 42.7,212.4 42.2,213.0 41.7,212.4 41.2,212.5 40.7,213.2 40.2,212.7 39.7,213.0 39.2,212.5 38.7,212.6 38.2,212.3 37.7,212.5 37.2,212.5 36.7,212.5 36.2,212.4" fill="#ffff00"/></g>
<g clip-path="url(#ca)" fill="none" stroke-width="0.9" opacity="0.45">
<path d="M37.9 149.5L38.7 150.5L39.6 151.6L40.5 152.6L41.4 153.8L42.2 154.9L43.1 156.1L44.0 157.3L44.9 158.6L45.7 159.9L46.6 161.2L47.5 162.5L48.4 163.9L49.3 165.3L50.1 166.7L51.0 168.1L51.9 169.6L52.8 171.1L53.6 172.7L54.5 174.0L55.4 175.4L56.3 176.6L57.2 177.7L58.0 178.7L58.9 179.7L59.8 180.5L60.7 181.3L61.5 182.1L62.4 182.8L63.3 183.4L64.2 184.0L65.0 184.5L65.9 185.1L66.8 185.6L67.7 186.1L68.6 186.6L69.4 187.2L70.3 187.7L71.2 188.3L72.1 188.8L72.9 189.3L73.8 189.7L74.7 190.2L75.6 190.6L76.4 191.0L77.3 191.4L78.2 191.8L79.1 192.0" stroke="#ff0000" stroke-dasharray="2.5 1.5"/>
<path d="M37.9 149.6L38.7 150.6L39.6 151.7L40.5 152.7L41.4 153.8L42.2 155.0L43.1 156.2L44.0 157.4L44.9 158.7L45.7 160.0L46.6 161.3L47.5 162.6L48.4 164.0L49.3 165.3L50.1 166.7L51.0 168.2L51.9 169.6L52.8 171.2L53.6 172.7L54.5 174.1L55.4 175.4L56.3 176.7L57.2 177.8L58.0 178.8L58.9 179.7L59.8 180.6L60.7 181.4L61.5 182.1L62.4 182.8L63.3 183.4L64.2 184.0L65.0 184.6L65.9 185.1L66.8 185.6L67.7 186.1L68.6 186.7L69.4 187.2L70.3 187.8L71.2 188.3L72.1 188.8L72.9 189.3L73.8 189.8L74.7 190.2L75.6 190.6L76.4 191.0L77.3 191.4L78.2 191.8L79.1 192.1" stroke="#ff0000" stroke-dasharray="2.5 1.5"/>
</g>
<g clip-path="url(#ca)"><path d="M37.9 132.1L38.7 133.2L39.6 134.4L40.5 135.6L41.4 136.8L42.2 138.0L43.1 139.3L44.0 140.6L44.9 142.0L45.7 143.4L46.6 144.9L47.5 146.3L48.4 147.8L49.3 149.4L50.1 151.0L51.0 152.6L51.9 154.4L52.8 156.2L53.6 158.1L54.5 159.8L55.4 161.5L56.3 163.1L57.2 164.6L58.0 165.9L58.9 167.2L59.8 168.4L60.7 169.6L61.5 170.8L62.4 171.9L63.3 172.9L64.2 173.9L65.0 174.8L65.9 175.7L66.8 176.7L67.7 177.6L68.6 178.5L69.4 179.5L70.3 180.4L71.2 181.3L72.1 182.2L72.9 183.0L73.8 183.8L74.7 184.5L75.6 185.2L76.4 185.9L77.3 186.5L78.2 187.1L79.1 187.6" stroke="#0000ff" stroke-width="0.85" fill="none" stroke-dasharray="1.6 1.2"/></g>
<g stroke="#1e1e1e" stroke-width="1.4" fill="none"><rect x="36.1" y="5.2" width="271.9" height="207.9"/><path d="M44.9 213.1V209.8M44.9 5.2V8.5M88.7 213.1V209.8M88.7 5.2V8.5M132.6 213.1V209.8M132.6 5.2V8.5M176.4 213.1V209.8M176.4 5.2V8.5M220.3 213.1V209.8M220.3 5.2V8.5M264.1 213.1V209.8M264.1 5.2V8.5M308.0 213.1V209.8M308.0 5.2V8.5M36.1 213.1H39.4M308.0 213.1H304.7M36.1 171.5H39.4M308.0 171.5H304.7M36.1 129.9H39.4M308.0 129.9H304.7M36.1 88.4H39.4M308.0 88.4H304.7M36.1 46.8H39.4M308.0 46.8H304.7M36.1 5.2H39.4M308.0 5.2H304.7"/></g>
<text transform="translate(44.87 228.60) scale(0.950 1.050)" font-family="'Liberation Serif', serif" font-size="11.50" text-anchor="middle" fill="#383838" stroke="#383838" stroke-width="0.15">400</text>
<text transform="translate(88.73 228.60) scale(0.950 1.050)" font-family="'Liberation Serif', serif" font-size="11.50" text-anchor="middle" fill="#383838" stroke="#383838" stroke-width="0.15">500</text>
<text transform="translate(132.58 228.60) scale(0.950 1.050)" font-family="'Liberation Serif', serif" font-size="11.50" text-anchor="middle" fill="#383838" stroke="#383838" stroke-width="0.15">600</text>
<text transform="translate(176.44 228.60) scale(0.950 1.050)" font-family="'Liberation Serif', serif" font-size="11.50" text-anchor="middle" fill="#383838" stroke="#383838" stroke-width="0.15">700</text>
<text transform="translate(220.29 228.60) scale(0.950 1.050)" font-family="'Liberation Serif', serif" font-size="11.50" text-anchor="middle" fill="#383838" stroke="#383838" stroke-width="0.15">800</text>
<text transform="translate(264.15 228.60) scale(0.950 1.050)" font-family="'Liberation Serif', serif" font-size="11.50" text-anchor="middle" fill="#383838" stroke="#383838" stroke-width="0.15">900</text>
<text transform="translate(308.00 228.60) scale(0.950 1.050)" font-family="'Liberation Serif', serif" font-size="11.50" text-anchor="middle" fill="#383838" stroke="#383838" stroke-width="0.15">1000</text>
<text transform="translate(31.00 217.60) scale(0.950 1.050)" font-family="'Liberation Serif', serif" font-size="11.80" text-anchor="end" fill="#383838" stroke="#383838" stroke-width="0.15">0</text>
<text transform="translate(31.00 176.02) scale(0.950 1.050)" font-family="'Liberation Serif', serif" font-size="11.80" text-anchor="end" fill="#383838" stroke="#383838" stroke-width="0.15">0.2</text>
<text transform="translate(31.00 134.44) scale(0.950 1.050)" font-family="'Liberation Serif', serif" font-size="11.80" text-anchor="end" fill="#383838" stroke="#383838" stroke-width="0.15">0.4</text>
<text transform="translate(31.00 92.86) scale(0.950 1.050)" font-family="'Liberation Serif', serif" font-size="11.80" text-anchor="end" fill="#383838" stroke="#383838" stroke-width="0.15">0.6</text>
<text transform="translate(31.00 51.28) scale(0.950 1.050)" font-family="'Liberation Serif', serif" font-size="11.80" text-anchor="end" fill="#383838" stroke="#383838" stroke-width="0.15">0.8</text>
<text transform="translate(31.00 9.70) scale(0.950 1.050)" font-family="'Liberation Serif', serif" font-size="11.80" text-anchor="end" fill="#383838" stroke="#383838" stroke-width="0.15">1</text>
<text transform="translate(172.90 245.40)" font-family="'Liberation Serif', serif" font-size="14.40" text-anchor="middle" fill="#383838" stroke="#383838" stroke-width="0.15" textLength="104.30" lengthAdjust="spacingAndGlyphs">Wavelength (nm)</text>
<text transform="translate(10.80 108.30) rotate(-90)" font-family="'Liberation Serif', serif" font-size="14.30" text-anchor="middle" fill="#383838" stroke="#383838" stroke-width="0.15" textLength="118.50" lengthAdjust="spacingAndGlyphs">Reflectances (Raw)</text>
<text transform="translate(322.40 17.30) scale(1.030 1.000)" font-family="'Liberation Serif', serif" font-size="29.00" text-anchor="start" fill="#000" stroke="#000" stroke-width="0.15">a</text>
<g clip-path="url(#cb)" fill="none" stroke-linejoin="round" stroke-linecap="butt">
<path d="M412.60 135.20C412.70 135.10 412.95 133.93 413.20 134.60C413.45 135.27 413.77 138.80 414.10 139.20C414.43 139.60 414.85 136.97 415.20 137.00C415.55 137.03 415.80 138.80 416.20 139.40C416.60 140.00 417.20 140.30 417.60 140.60C418.00 140.90 418.37 141.07 418.60 141.20C418.83 141.33 418.77 140.85 419.00 141.38C419.23 141.91 419.67 143.62 420.00 144.37C420.33 145.12 420.67 145.17 421.00 145.90C421.33 146.63 421.67 147.97 422.00 148.77C422.33 149.57 422.67 149.97 423.00 150.70C423.33 151.43 423.67 152.35 424.00 153.15C424.33 153.96 424.67 154.76 425.00 155.54C425.33 156.31 425.67 156.98 426.00 157.81C426.33 158.63 426.67 159.67 427.00 160.48C427.33 161.30 427.67 162.12 428.00 162.70C428.33 163.27 428.45 163.17 429.00 163.93C429.55 164.70 430.13 165.99 431.30 167.30C432.47 168.61 434.22 170.42 436.00 171.80C437.78 173.18 440.00 174.42 442.00 175.60C444.00 176.78 446.00 177.93 448.00 178.90C450.00 179.87 451.98 180.93 454.00 181.40C456.02 181.87 458.48 181.85 460.10 181.70C461.72 181.55 462.58 181.10 463.70 180.50C464.82 179.90 465.48 179.70 466.80 178.10C468.12 176.50 469.98 173.30 471.60 170.90C473.22 168.50 474.88 165.72 476.50 163.70C478.12 161.68 479.83 159.75 481.30 158.80C482.77 157.85 483.97 157.80 485.30 158.00C486.63 158.20 487.83 158.65 489.30 160.00C490.77 161.35 492.48 164.15 494.10 166.10C495.72 168.05 497.68 170.37 499.00 171.70C500.32 173.03 500.67 173.35 502.00 174.10C503.33 174.85 505.00 175.38 507.00 176.20C509.00 177.02 511.67 178.18 514.00 179.00C516.33 179.82 518.65 180.40 521.00 181.10C523.35 181.80 525.75 182.50 528.10 183.20C530.45 183.90 533.23 185.00 535.10 185.30C536.97 185.60 538.13 185.70 539.30 185.00C540.47 184.30 541.15 183.87 542.10 181.10C543.05 178.33 544.30 171.92 545.00 168.40C545.70 164.88 545.28 167.23 546.30 160.00C547.32 152.77 549.70 135.83 551.10 125.00C552.50 114.17 552.88 108.33 554.70 95.00C556.52 81.67 560.37 54.92 562.00 45.00C563.63 35.08 563.68 38.42 564.50 35.50C565.32 32.58 566.10 29.63 566.90 27.50C567.70 25.37 568.37 24.10 569.30 22.70C570.23 21.30 571.43 19.97 572.50 19.10C573.57 18.23 574.10 17.92 575.70 17.50C577.30 17.08 579.72 16.83 582.10 16.60C584.48 16.37 585.35 16.72 590.00 16.10C594.65 15.48 603.33 13.83 610.00 12.90C616.67 11.97 625.00 11.10 630.00 10.50C635.00 9.90 637.50 9.58 640.00 9.30C642.50 9.02 642.50 8.60 645.00 8.80C647.50 9.00 652.00 9.88 655.00 10.50C658.00 11.12 660.50 12.22 663.00 12.50C665.50 12.78 667.50 12.35 670.00 12.20C672.50 12.05 676.67 11.70 678.00 11.60" stroke="#0072bd" stroke-width="2.2"/>
<path d="M413.40 149.00C413.60 149.27 414.13 149.93 414.60 150.60C415.07 151.27 415.60 152.10 416.20 153.00C416.80 153.90 417.30 154.70 418.20 156.00C419.10 157.30 420.22 159.03 421.60 160.80C422.98 162.57 424.88 164.87 426.50 166.60C428.12 168.33 429.70 169.90 431.30 171.20C432.90 172.50 434.50 173.50 436.10 174.40C437.70 175.30 438.92 175.28 440.90 176.60C442.88 177.92 445.82 181.05 448.00 182.30C450.18 183.55 452.00 183.73 454.00 184.10C456.00 184.47 458.38 184.60 460.00 184.50C461.62 184.40 462.57 184.03 463.70 183.50C464.83 182.97 465.48 182.87 466.80 181.30C468.12 179.73 469.98 176.57 471.60 174.10C473.22 171.63 474.88 168.52 476.50 166.50C478.12 164.48 479.83 162.88 481.30 162.00C482.77 161.12 483.97 161.05 485.30 161.20C486.63 161.35 487.83 161.60 489.30 162.90C490.77 164.20 492.48 167.13 494.10 169.00C495.72 170.87 497.68 172.90 499.00 174.10C500.32 175.30 500.67 175.50 502.00 176.20C503.33 176.90 505.00 177.60 507.00 178.30C509.00 179.00 511.67 179.70 514.00 180.40C516.33 181.10 518.67 181.68 521.00 182.50C523.33 183.32 525.67 184.48 528.00 185.30C530.33 186.12 533.12 187.12 535.00 187.40C536.88 187.68 537.97 187.70 539.30 187.00C540.63 186.30 541.80 185.37 543.00 183.20C544.20 181.03 545.58 177.87 546.50 174.00C547.42 170.13 547.58 168.17 548.50 160.00C549.42 151.83 550.65 135.83 552.00 125.00C553.35 114.17 554.65 108.33 556.60 95.00C558.55 81.67 562.12 54.65 563.70 45.00C565.28 35.35 565.30 39.27 566.10 37.10C566.90 34.93 567.57 33.47 568.50 32.00C569.43 30.53 570.50 29.23 571.70 28.30C572.90 27.37 573.97 26.93 575.70 26.40C577.43 25.87 579.72 25.35 582.10 25.10C584.48 24.85 585.35 25.47 590.00 24.90C594.65 24.33 603.33 22.77 610.00 21.70C616.67 20.63 624.17 19.35 630.00 18.50C635.83 17.65 640.83 16.68 645.00 16.60C649.17 16.52 652.00 17.28 655.00 18.00C658.00 18.72 660.50 20.43 663.00 20.90C665.50 21.37 667.50 20.88 670.00 20.80C672.50 20.72 676.67 20.47 678.00 20.40" stroke="#d95319" stroke-width="2.2"/>
<path d="M412.60 169.00C413.30 169.85 415.50 172.45 416.80 174.10C418.10 175.75 419.03 177.58 420.40 178.90C421.77 180.22 423.40 180.65 425.00 182.00C426.60 183.35 428.33 185.48 430.00 187.00C431.67 188.52 433.33 189.97 435.00 191.10C436.67 192.23 438.33 192.97 440.00 193.80C441.67 194.63 443.33 195.52 445.00 196.10C446.67 196.68 448.33 196.95 450.00 197.30C451.67 197.65 452.50 197.85 455.00 198.20C457.50 198.55 461.67 199.08 465.00 199.40C468.33 199.72 471.67 199.90 475.00 200.10C478.33 200.30 480.00 200.42 485.00 200.60C490.00 200.78 495.83 201.00 505.00 201.20C514.17 201.40 530.83 201.73 540.00 201.80C549.17 201.87 551.67 201.73 560.00 201.60C568.33 201.47 581.67 201.13 590.00 201.00C598.33 200.87 602.50 200.87 610.00 200.80C617.50 200.73 628.33 200.67 635.00 200.60C641.67 200.53 645.83 200.48 650.00 200.40C654.17 200.32 656.67 200.25 660.00 200.10C663.33 199.95 667.00 199.70 670.00 199.50C673.00 199.30 676.67 199.00 678.00 198.90" stroke="#edb120" stroke-width="1.6"/>
</g>
<g stroke="#1e1e1e" stroke-width="1.4" fill="none"><rect x="410.6" y="4.8" width="267.4" height="202.6"/><path d="M419.2 207.4V204.7M419.2 4.8V7.5M462.4 207.4V204.7M462.4 4.8V7.5M505.5 207.4V204.7M505.5 4.8V7.5M548.6 207.4V204.7M548.6 4.8V7.5M591.7 207.4V204.7M591.7 4.8V7.5M634.9 207.4V204.7M634.9 4.8V7.5M678.0 207.4V204.7M678.0 4.8V7.5M410.6 207.4H413.3M678.0 207.4H675.3M410.6 156.8H413.3M678.0 156.8H675.3M410.6 106.1H413.3M678.0 106.1H675.3M410.6 55.5H413.3M678.0 55.5H675.3M410.6 4.8H413.3M678.0 4.8H675.3"/></g>
<text transform="translate(419.23 223.90)" font-family="'Liberation Sans', sans-serif" font-size="11.00" text-anchor="middle" fill="#383838" stroke="#383838" stroke-width="0.15">400</text>
<text transform="translate(462.35 223.90)" font-family="'Liberation Sans', sans-serif" font-size="11.00" text-anchor="middle" fill="#383838" stroke="#383838" stroke-width="0.15">500</text>
<text transform="translate(505.48 223.90)" font-family="'Liberation Sans', sans-serif" font-size="11.00" text-anchor="middle" fill="#383838" stroke="#383838" stroke-width="0.15">600</text>
<text transform="translate(548.61 223.90)" font-family="'Liberation Sans', sans-serif" font-size="11.00" text-anchor="middle" fill="#383838" stroke="#383838" stroke-width="0.15">700</text>
<text transform="translate(591.74 223.90)" font-family="'Liberation Sans', sans-serif" font-size="11.00" text-anchor="middle" fill="#383838" stroke="#383838" stroke-width="0.15">800</text>
<text transform="translate(634.87 223.90)" font-family="'Liberation Sans', sans-serif" font-size="11.00" text-anchor="middle" fill="#383838" stroke="#383838" stroke-width="0.15">900</text>
<text transform="translate(678.00 223.90)" font-family="'Liberation Sans', sans-serif" font-size="11.00" text-anchor="middle" fill="#383838" stroke="#383838" stroke-width="0.15">1000</text>
<text transform="translate(405.60 211.50)" font-family="'Liberation Sans', sans-serif" font-size="11.00" text-anchor="end" fill="#383838" stroke="#383838" stroke-width="0.15">0</text>
<text transform="translate(405.60 160.85)" font-family="'Liberation Sans', sans-serif" font-size="11.00" text-anchor="end" fill="#383838" stroke="#383838" stroke-width="0.15">0.2</text>
<text transform="translate(405.60 110.20)" font-family="'Liberation Sans', sans-serif" font-size="11.00" text-anchor="end" fill="#383838" stroke="#383838" stroke-width="0.15">0.4</text>
<text transform="translate(405.60 59.55)" font-family="'Liberation Sans', sans-serif" font-size="11.00" text-anchor="end" fill="#383838" stroke="#383838" stroke-width="0.15">0.6</text>
<text transform="translate(405.60 8.90)" font-family="'Liberation Sans', sans-serif" font-size="11.00" text-anchor="end" fill="#383838" stroke="#383838" stroke-width="0.15">0.8</text>
<text transform="translate(544.80 241.00)" font-family="'Liberation Serif', serif" font-size="14.30" text-anchor="middle" fill="#383838" stroke="#383838" stroke-width="0.15" textLength="102.50" lengthAdjust="spacingAndGlyphs">Wavelength (nm)</text>
<text transform="translate(383.60 105.60) rotate(-90)" font-family="'Liberation Serif', serif" font-size="14.30" text-anchor="middle" fill="#383838" stroke="#383838" stroke-width="0.15" textLength="117.00" lengthAdjust="spacingAndGlyphs">Reflectances (Raw)</text>
<g fill="none">
<path d="M420.1 21.4H445.3" stroke="#0072bd" stroke-width="2"/>
<path d="M420.1 31.9H445.3" stroke="#d95319" stroke-width="2"/>
<path d="M420.1 42.3H445.3" stroke="#edb120" stroke-width="1.6"/>
</g>
<text transform="translate(446.60 24.90) scale(0.890 1.000)" font-family="'Liberation Sans', sans-serif" font-size="9.10" text-anchor="start" fill="#1a1a1a" stroke="#1a1a1a" stroke-width="0.15">Healthy</text>
<text transform="translate(446.60 35.50) scale(0.890 1.000)" font-family="'Liberation Sans', sans-serif" font-size="9.10" text-anchor="start" fill="#1a1a1a" stroke="#1a1a1a" stroke-width="0.15">Infected</text>
<text transform="translate(446.60 46.00) scale(0.890 1.000)" font-family="'Liberation Sans', sans-serif" font-size="9.10" text-anchor="start" fill="#1a1a1a" stroke="#1a1a1a" stroke-width="0.15">Background</text>
<text transform="translate(687.50 27.90) scale(1.060 1.000)" font-family="'Liberation Serif', serif" font-size="28.60" text-anchor="start" fill="#000" stroke="#000" stroke-width="0.15">b</text>
</svg></body></html>
